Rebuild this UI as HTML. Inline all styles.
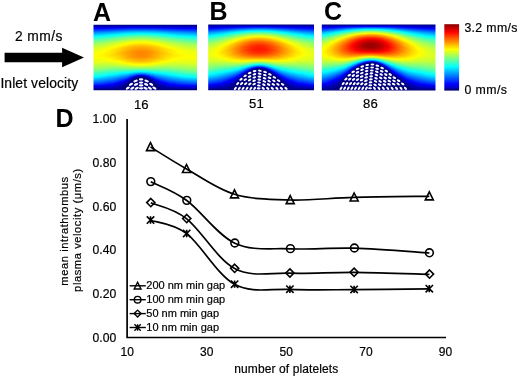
<!DOCTYPE html><html><head><meta charset="utf-8"><style>html,body{margin:0;padding:0;background:#fff;width:520px;height:377px;overflow:hidden}svg{display:block;filter:blur(0.35px);font-family:"Liberation Sans",sans-serif}</style></head><body><svg width="520" height="377" viewBox="0 0 520 377" font-family="Liberation Sans, sans-serif" fill="#000"><style>text:not([font-weight]){stroke:#000;stroke-width:0.2px}</style><defs><filter id="jet" x="0" y="0" width="1" height="1" color-interpolation-filters="sRGB"><feComponentTransfer><feFuncR type="table" tableValues="0 0 0 0 .5 1 1 1 .5"/><feFuncG type="table" tableValues="0 0 .5 1 1 1 .5 0 0"/><feFuncB type="table" tableValues=".5 1 1 1 .5 0 0 0 0"/></feComponentTransfer></filter><linearGradient id="g1" x2="0" y2="1"><stop offset="0.01" stop-color="#000000"/><stop offset="0.02" stop-color="#000000"/><stop offset="0.023" stop-color="#060606"/><stop offset="0.138" stop-color="#494949"/><stop offset="0.226" stop-color="#707070"/><stop offset="0.315" stop-color="#8b8b8b"/><stop offset="0.403" stop-color="#9b9b9b"/><stop offset="0.494" stop-color="#9f9f9f"/><stop offset="0.587" stop-color="#979797"/><stop offset="0.685" stop-color="#828282"/><stop offset="0.788" stop-color="#606060"/><stop offset="0.891" stop-color="#323232"/><stop offset="0.97" stop-color="#060606"/><stop offset="0.977" stop-color="#000000"/><stop offset="0.99" stop-color="#000000"/></linearGradient><linearGradient id="g2" x2="0" y2="1"><stop offset="0.01" stop-color="#000000"/><stop offset="0.02" stop-color="#000000"/><stop offset="0.023" stop-color="#060606"/><stop offset="0.136" stop-color="#474747"/><stop offset="0.224" stop-color="#6f6f6f"/><stop offset="0.312" stop-color="#8b8b8b"/><stop offset="0.401" stop-color="#9b9b9b"/><stop offset="0.491" stop-color="#9f9f9f"/><stop offset="0.585" stop-color="#979797"/><stop offset="0.683" stop-color="#838383"/><stop offset="0.786" stop-color="#606060"/><stop offset="0.889" stop-color="#333333"/><stop offset="0.97" stop-color="#060606"/><stop offset="0.977" stop-color="#000000"/><stop offset="0.99" stop-color="#000000"/></linearGradient><linearGradient id="g3" x2="0" y2="1"><stop offset="0.01" stop-color="#000000"/><stop offset="0.02" stop-color="#000000"/><stop offset="0.023" stop-color="#060606"/><stop offset="0.136" stop-color="#484848"/><stop offset="0.224" stop-color="#707070"/><stop offset="0.312" stop-color="#8c8c8c"/><stop offset="0.401" stop-color="#9b9b9b"/><stop offset="0.491" stop-color="#9f9f9f"/><stop offset="0.585" stop-color="#979797"/><stop offset="0.683" stop-color="#828282"/><stop offset="0.786" stop-color="#606060"/><stop offset="0.891" stop-color="#313131"/><stop offset="0.97" stop-color="#060606"/><stop offset="0.977" stop-color="#000000"/><stop offset="0.99" stop-color="#000000"/></linearGradient><linearGradient id="g4" x2="0" y2="1"><stop offset="0.01" stop-color="#000000"/><stop offset="0.02" stop-color="#000000"/><stop offset="0.023" stop-color="#060606"/><stop offset="0.136" stop-color="#484848"/><stop offset="0.224" stop-color="#707070"/><stop offset="0.312" stop-color="#8c8c8c"/><stop offset="0.401" stop-color="#9c9c9c"/><stop offset="0.489" stop-color="#a0a0a0"/><stop offset="0.582" stop-color="#979797"/><stop offset="0.68" stop-color="#838383"/><stop offset="0.786" stop-color="#606060"/><stop offset="0.894" stop-color="#303030"/><stop offset="0.97" stop-color="#060606"/><stop offset="0.977" stop-color="#000000"/><stop offset="0.99" stop-color="#000000"/></linearGradient><linearGradient id="g5" x2="0" y2="1"><stop offset="0.01" stop-color="#000000"/><stop offset="0.02" stop-color="#000000"/><stop offset="0.023" stop-color="#060606"/><stop offset="0.136" stop-color="#484848"/><stop offset="0.224" stop-color="#717171"/><stop offset="0.31" stop-color="#8c8c8c"/><stop offset="0.398" stop-color="#9c9c9c"/><stop offset="0.487" stop-color="#a0a0a0"/><stop offset="0.58" stop-color="#989898"/><stop offset="0.678" stop-color="#838383"/><stop offset="0.783" stop-color="#606060"/><stop offset="0.891" stop-color="#303030"/><stop offset="0.97" stop-color="#060606"/><stop offset="0.977" stop-color="#000000"/><stop offset="0.99" stop-color="#000000"/></linearGradient><linearGradient id="g6" x2="0" y2="1"><stop offset="0.01" stop-color="#000000"/><stop offset="0.02" stop-color="#000000"/><stop offset="0.023" stop-color="#060606"/><stop offset="0.136" stop-color="#494949"/><stop offset="0.221" stop-color="#707070"/><stop offset="0.307" stop-color="#8c8c8c"/><stop offset="0.393" stop-color="#9c9c9c"/><stop offset="0.482" stop-color="#a0a0a0"/><stop offset="0.572" stop-color="#999999"/><stop offset="0.671" stop-color="#848484"/><stop offset="0.776" stop-color="#626262"/><stop offset="0.886" stop-color="#323232"/><stop offset="0.97" stop-color="#050505"/><stop offset="0.977" stop-color="#000000"/><stop offset="0.99" stop-color="#000000"/></linearGradient><linearGradient id="g7" x2="0" y2="1"><stop offset="0.01" stop-color="#000000"/><stop offset="0.02" stop-color="#000000"/><stop offset="0.023" stop-color="#060606"/><stop offset="0.136" stop-color="#494949"/><stop offset="0.221" stop-color="#717171"/><stop offset="0.307" stop-color="#8c8c8c"/><stop offset="0.393" stop-color="#9c9c9c"/><stop offset="0.482" stop-color="#a0a0a0"/><stop offset="0.572" stop-color="#999999"/><stop offset="0.671" stop-color="#848484"/><stop offset="0.779" stop-color="#616161"/><stop offset="0.891" stop-color="#303030"/><stop offset="0.97" stop-color="#050505"/><stop offset="0.977" stop-color="#000000"/><stop offset="0.99" stop-color="#000000"/></linearGradient><linearGradient id="g8" x2="0" y2="1"><stop offset="0.01" stop-color="#000000"/><stop offset="0.02" stop-color="#000000"/><stop offset="0.023" stop-color="#060606"/><stop offset="0.136" stop-color="#494949"/><stop offset="0.221" stop-color="#717171"/><stop offset="0.307" stop-color="#8d8d8d"/><stop offset="0.393" stop-color="#9d9d9d"/><stop offset="0.482" stop-color="#a1a1a1"/><stop offset="0.572" stop-color="#999999"/><stop offset="0.671" stop-color="#848484"/><stop offset="0.779" stop-color="#606060"/><stop offset="0.894" stop-color="#2e2e2e"/><stop offset="0.972" stop-color="#030303"/><stop offset="0.98" stop-color="#000000"/><stop offset="0.99" stop-color="#000000"/></linearGradient><linearGradient id="g9" x2="0" y2="1"><stop offset="0.01" stop-color="#000000"/><stop offset="0.02" stop-color="#000000"/><stop offset="0.023" stop-color="#060606"/><stop offset="0.133" stop-color="#484848"/><stop offset="0.219" stop-color="#717171"/><stop offset="0.305" stop-color="#8d8d8d"/><stop offset="0.391" stop-color="#9d9d9d"/><stop offset="0.479" stop-color="#a1a1a1"/><stop offset="0.57" stop-color="#999999"/><stop offset="0.668" stop-color="#848484"/><stop offset="0.779" stop-color="#5f5f5f"/><stop offset="0.899" stop-color="#2b2b2b"/><stop offset="0.972" stop-color="#030303"/><stop offset="0.98" stop-color="#000000"/><stop offset="0.99" stop-color="#000000"/></linearGradient><linearGradient id="g10" x2="0" y2="1"><stop offset="0.01" stop-color="#000000"/><stop offset="0.02" stop-color="#000000"/><stop offset="0.023" stop-color="#060606"/><stop offset="0.133" stop-color="#494949"/><stop offset="0.219" stop-color="#717171"/><stop offset="0.305" stop-color="#8d8d8d"/><stop offset="0.391" stop-color="#9d9d9d"/><stop offset="0.477" stop-color="#a2a2a2"/><stop offset="0.567" stop-color="#9a9a9a"/><stop offset="0.663" stop-color="#858585"/><stop offset="0.774" stop-color="#606060"/><stop offset="0.899" stop-color="#2a2a2a"/><stop offset="0.972" stop-color="#030303"/><stop offset="0.98" stop-color="#000000"/><stop offset="0.99" stop-color="#000000"/></linearGradient><linearGradient id="g11" x2="0" y2="1"><stop offset="0.01" stop-color="#000000"/><stop offset="0.02" stop-color="#000000"/><stop offset="0.023" stop-color="#060606"/><stop offset="0.133" stop-color="#494949"/><stop offset="0.219" stop-color="#727272"/><stop offset="0.302" stop-color="#8d8d8d"/><stop offset="0.388" stop-color="#9e9e9e"/><stop offset="0.474" stop-color="#a2a2a2"/><stop offset="0.563" stop-color="#9a9a9a"/><stop offset="0.658" stop-color="#868686"/><stop offset="0.769" stop-color="#626262"/><stop offset="0.899" stop-color="#2a2a2a"/><stop offset="0.972" stop-color="#030303"/><stop offset="0.98" stop-color="#000000"/><stop offset="0.99" stop-color="#000000"/></linearGradient><linearGradient id="g12" x2="0" y2="1"><stop offset="0.01" stop-color="#000000"/><stop offset="0.02" stop-color="#000000"/><stop offset="0.023" stop-color="#060606"/><stop offset="0.133" stop-color="#4a4a4a"/><stop offset="0.219" stop-color="#727272"/><stop offset="0.302" stop-color="#8e8e8e"/><stop offset="0.386" stop-color="#9e9e9e"/><stop offset="0.472" stop-color="#a2a2a2"/><stop offset="0.56" stop-color="#9b9b9b"/><stop offset="0.656" stop-color="#868686"/><stop offset="0.766" stop-color="#626262"/><stop offset="0.901" stop-color="#282828"/><stop offset="0.972" stop-color="#030303"/><stop offset="0.982" stop-color="#000000"/><stop offset="0.99" stop-color="#000000"/></linearGradient><linearGradient id="g13" x2="0" y2="1"><stop offset="0.01" stop-color="#000000"/><stop offset="0.02" stop-color="#000000"/><stop offset="0.023" stop-color="#060606"/><stop offset="0.133" stop-color="#4a4a4a"/><stop offset="0.217" stop-color="#727272"/><stop offset="0.3" stop-color="#8e8e8e"/><stop offset="0.383" stop-color="#9e9e9e"/><stop offset="0.469" stop-color="#a3a3a3"/><stop offset="0.558" stop-color="#9b9b9b"/><stop offset="0.653" stop-color="#878787"/><stop offset="0.764" stop-color="#626262"/><stop offset="0.906" stop-color="#252525"/><stop offset="0.972" stop-color="#030303"/><stop offset="0.982" stop-color="#000000"/><stop offset="0.99" stop-color="#000000"/></linearGradient><linearGradient id="g14" x2="0" y2="1"><stop offset="0.01" stop-color="#000000"/><stop offset="0.02" stop-color="#000000"/><stop offset="0.023" stop-color="#060606"/><stop offset="0.131" stop-color="#494949"/><stop offset="0.214" stop-color="#727272"/><stop offset="0.298" stop-color="#8e8e8e"/><stop offset="0.381" stop-color="#9f9f9f"/><stop offset="0.464" stop-color="#a3a3a3"/><stop offset="0.553" stop-color="#9c9c9c"/><stop offset="0.646" stop-color="#898989"/><stop offset="0.756" stop-color="#646464"/><stop offset="0.909" stop-color="#232323"/><stop offset="0.972" stop-color="#030303"/><stop offset="0.982" stop-color="#000000"/><stop offset="0.99" stop-color="#000000"/></linearGradient><linearGradient id="g15" x2="0" y2="1"><stop offset="0.01" stop-color="#000000"/><stop offset="0.02" stop-color="#000000"/><stop offset="0.023" stop-color="#060606"/><stop offset="0.131" stop-color="#4a4a4a"/><stop offset="0.214" stop-color="#727272"/><stop offset="0.298" stop-color="#8f8f8f"/><stop offset="0.381" stop-color="#9f9f9f"/><stop offset="0.464" stop-color="#a4a4a4"/><stop offset="0.55" stop-color="#9d9d9d"/><stop offset="0.644" stop-color="#898989"/><stop offset="0.754" stop-color="#646464"/><stop offset="0.918" stop-color="#1e1e1e"/><stop offset="0.98" stop-color="#000000"/><stop offset="0.99" stop-color="#000000"/></linearGradient><linearGradient id="g16" x2="0" y2="1"><stop offset="0.01" stop-color="#000000"/><stop offset="0.02" stop-color="#000000"/><stop offset="0.023" stop-color="#060606"/><stop offset="0.131" stop-color="#4a4a4a"/><stop offset="0.214" stop-color="#737373"/><stop offset="0.298" stop-color="#8f8f8f"/><stop offset="0.381" stop-color="#a0a0a0"/><stop offset="0.464" stop-color="#a5a5a5"/><stop offset="0.55" stop-color="#9d9d9d"/><stop offset="0.644" stop-color="#898989"/><stop offset="0.754" stop-color="#636363"/><stop offset="0.94" stop-color="#131313"/><stop offset="0.98" stop-color="#000000"/><stop offset="0.99" stop-color="#000000"/></linearGradient><linearGradient id="g17" x2="0" y2="1"><stop offset="0.01" stop-color="#000000"/><stop offset="0.02" stop-color="#000000"/><stop offset="0.023" stop-color="#060606"/><stop offset="0.064" stop-color="#222222"/><stop offset="0.148" stop-color="#545454"/><stop offset="0.231" stop-color="#7a7a7a"/><stop offset="0.315" stop-color="#959595"/><stop offset="0.396" stop-color="#a2a2a2"/><stop offset="0.479" stop-color="#a5a5a5"/><stop offset="0.565" stop-color="#9b9b9b"/><stop offset="0.658" stop-color="#848484"/><stop offset="0.776" stop-color="#595959"/><stop offset="0.97" stop-color="#040404"/><stop offset="0.98" stop-color="#000000"/><stop offset="0.99" stop-color="#000000"/></linearGradient><linearGradient id="g18" x2="0" y2="1"><stop offset="0.01" stop-color="#000000"/><stop offset="0.02" stop-color="#000000"/><stop offset="0.023" stop-color="#060606"/><stop offset="0.062" stop-color="#202020"/><stop offset="0.145" stop-color="#535353"/><stop offset="0.229" stop-color="#7a7a7a"/><stop offset="0.31" stop-color="#949494"/><stop offset="0.391" stop-color="#a3a3a3"/><stop offset="0.474" stop-color="#a6a6a6"/><stop offset="0.56" stop-color="#9c9c9c"/><stop offset="0.653" stop-color="#858585"/><stop offset="0.769" stop-color="#5b5b5b"/><stop offset="0.972" stop-color="#030303"/><stop offset="0.982" stop-color="#000000"/><stop offset="0.99" stop-color="#000000"/></linearGradient><linearGradient id="g19" x2="0" y2="1"><stop offset="0.01" stop-color="#000000"/><stop offset="0.02" stop-color="#000000"/><stop offset="0.023" stop-color="#060606"/><stop offset="0.06" stop-color="#1f1f1f"/><stop offset="0.143" stop-color="#535353"/><stop offset="0.224" stop-color="#797979"/><stop offset="0.305" stop-color="#949494"/><stop offset="0.386" stop-color="#a3a3a3"/><stop offset="0.469" stop-color="#a6a6a6"/><stop offset="0.553" stop-color="#9e9e9e"/><stop offset="0.644" stop-color="#888888"/><stop offset="0.754" stop-color="#606060"/><stop offset="0.98" stop-color="#000000"/><stop offset="0.99" stop-color="#000000"/></linearGradient><linearGradient id="g20" x2="0" y2="1"><stop offset="0.01" stop-color="#000000"/><stop offset="0.02" stop-color="#000000"/><stop offset="0.023" stop-color="#060606"/><stop offset="0.057" stop-color="#1d1d1d"/><stop offset="0.141" stop-color="#525252"/><stop offset="0.221" stop-color="#797979"/><stop offset="0.302" stop-color="#949494"/><stop offset="0.383" stop-color="#a4a4a4"/><stop offset="0.464" stop-color="#a7a7a7"/><stop offset="0.548" stop-color="#9f9f9f"/><stop offset="0.636" stop-color="#8a8a8a"/><stop offset="0.744" stop-color="#646464"/><stop offset="0.98" stop-color="#000000"/><stop offset="0.99" stop-color="#000000"/></linearGradient><linearGradient id="g21" x2="0" y2="1"><stop offset="0.01" stop-color="#000000"/><stop offset="0.02" stop-color="#000000"/><stop offset="0.023" stop-color="#060606"/><stop offset="0.055" stop-color="#1c1c1c"/><stop offset="0.136" stop-color="#505050"/><stop offset="0.217" stop-color="#787878"/><stop offset="0.298" stop-color="#949494"/><stop offset="0.379" stop-color="#a4a4a4"/><stop offset="0.46" stop-color="#a8a8a8"/><stop offset="0.543" stop-color="#a0a0a0"/><stop offset="0.631" stop-color="#8c8c8c"/><stop offset="0.737" stop-color="#666666"/><stop offset="0.963" stop-color="#070707"/><stop offset="0.98" stop-color="#000000"/><stop offset="0.99" stop-color="#000000"/></linearGradient><linearGradient id="g22" x2="0" y2="1"><stop offset="0.01" stop-color="#000000"/><stop offset="0.02" stop-color="#000000"/><stop offset="0.023" stop-color="#060606"/><stop offset="0.055" stop-color="#1c1c1c"/><stop offset="0.136" stop-color="#505050"/><stop offset="0.217" stop-color="#787878"/><stop offset="0.298" stop-color="#959595"/><stop offset="0.379" stop-color="#a5a5a5"/><stop offset="0.46" stop-color="#a9a9a9"/><stop offset="0.543" stop-color="#a1a1a1"/><stop offset="0.629" stop-color="#8d8d8d"/><stop offset="0.732" stop-color="#676767"/><stop offset="0.933" stop-color="#111111"/><stop offset="0.98" stop-color="#000000"/><stop offset="0.99" stop-color="#000000"/></linearGradient><linearGradient id="g23" x2="0" y2="1"><stop offset="0.01" stop-color="#000000"/><stop offset="0.02" stop-color="#000000"/><stop offset="0.023" stop-color="#070707"/><stop offset="0.052" stop-color="#1a1a1a"/><stop offset="0.133" stop-color="#4f4f4f"/><stop offset="0.214" stop-color="#787878"/><stop offset="0.295" stop-color="#959595"/><stop offset="0.376" stop-color="#a5a5a5"/><stop offset="0.457" stop-color="#aaaaaa"/><stop offset="0.538" stop-color="#a2a2a2"/><stop offset="0.624" stop-color="#8e8e8e"/><stop offset="0.725" stop-color="#696969"/><stop offset="0.916" stop-color="#171717"/><stop offset="0.98" stop-color="#000000"/><stop offset="0.99" stop-color="#000000"/></linearGradient><linearGradient id="g24" x2="0" y2="1"><stop offset="0.01" stop-color="#000000"/><stop offset="0.02" stop-color="#000000"/><stop offset="0.023" stop-color="#070707"/><stop offset="0.052" stop-color="#1b1b1b"/><stop offset="0.133" stop-color="#505050"/><stop offset="0.214" stop-color="#797979"/><stop offset="0.295" stop-color="#969696"/><stop offset="0.374" stop-color="#a6a6a6"/><stop offset="0.455" stop-color="#ababab"/><stop offset="0.536" stop-color="#a4a4a4"/><stop offset="0.619" stop-color="#909090"/><stop offset="0.717" stop-color="#6c6c6c"/><stop offset="0.906" stop-color="#191919"/><stop offset="0.98" stop-color="#000000"/><stop offset="0.99" stop-color="#000000"/></linearGradient><linearGradient id="g25" x2="0" y2="1"><stop offset="0.01" stop-color="#000000"/><stop offset="0.02" stop-color="#000000"/><stop offset="0.023" stop-color="#070707"/><stop offset="0.05" stop-color="#191919"/><stop offset="0.128" stop-color="#4e4e4e"/><stop offset="0.207" stop-color="#767676"/><stop offset="0.285" stop-color="#949494"/><stop offset="0.364" stop-color="#a6a6a6"/><stop offset="0.442" stop-color="#acacac"/><stop offset="0.523" stop-color="#a6a6a6"/><stop offset="0.607" stop-color="#949494"/><stop offset="0.7" stop-color="#737373"/><stop offset="0.899" stop-color="#1a1a1a"/><stop offset="0.98" stop-color="#000000"/><stop offset="0.99" stop-color="#000000"/></linearGradient><linearGradient id="g26" x2="0" y2="1"><stop offset="0.01" stop-color="#000000"/><stop offset="0.02" stop-color="#000000"/><stop offset="0.023" stop-color="#070707"/><stop offset="0.05" stop-color="#191919"/><stop offset="0.128" stop-color="#4e4e4e"/><stop offset="0.207" stop-color="#777777"/><stop offset="0.285" stop-color="#959595"/><stop offset="0.364" stop-color="#a7a7a7"/><stop offset="0.442" stop-color="#adadad"/><stop offset="0.521" stop-color="#a7a7a7"/><stop offset="0.602" stop-color="#969696"/><stop offset="0.693" stop-color="#757575"/><stop offset="0.894" stop-color="#1a1a1a"/><stop offset="0.977" stop-color="#000000"/><stop offset="0.99" stop-color="#000000"/></linearGradient><linearGradient id="g27" x2="0" y2="1"><stop offset="0.01" stop-color="#000000"/><stop offset="0.02" stop-color="#000000"/><stop offset="0.023" stop-color="#070707"/><stop offset="0.05" stop-color="#1a1a1a"/><stop offset="0.128" stop-color="#4f4f4f"/><stop offset="0.207" stop-color="#787878"/><stop offset="0.285" stop-color="#969696"/><stop offset="0.364" stop-color="#a8a8a8"/><stop offset="0.442" stop-color="#aeaeae"/><stop offset="0.521" stop-color="#a8a8a8"/><stop offset="0.602" stop-color="#969696"/><stop offset="0.69" stop-color="#767676"/><stop offset="0.886" stop-color="#1b1b1b"/><stop offset="0.958" stop-color="#050505"/><stop offset="0.985" stop-color="#000000"/><stop offset="0.99" stop-color="#000000"/></linearGradient><linearGradient id="g28" x2="0" y2="1"><stop offset="0.01" stop-color="#000000"/><stop offset="0.02" stop-color="#000000"/><stop offset="0.023" stop-color="#070707"/><stop offset="0.047" stop-color="#181818"/><stop offset="0.126" stop-color="#4e4e4e"/><stop offset="0.204" stop-color="#787878"/><stop offset="0.283" stop-color="#969696"/><stop offset="0.361" stop-color="#a8a8a8"/><stop offset="0.44" stop-color="#afafaf"/><stop offset="0.518" stop-color="#a9a9a9"/><stop offset="0.597" stop-color="#989898"/><stop offset="0.683" stop-color="#797979"/><stop offset="0.884" stop-color="#1a1a1a"/><stop offset="0.95" stop-color="#050505"/><stop offset="0.987" stop-color="#000000"/><stop offset="0.99" stop-color="#000000"/></linearGradient><linearGradient id="g29" x2="0" y2="1"><stop offset="0.01" stop-color="#000000"/><stop offset="0.02" stop-color="#000000"/><stop offset="0.023" stop-color="#070707"/><stop offset="0.047" stop-color="#181818"/><stop offset="0.126" stop-color="#4e4e4e"/><stop offset="0.204" stop-color="#797979"/><stop offset="0.283" stop-color="#979797"/><stop offset="0.361" stop-color="#a9a9a9"/><stop offset="0.44" stop-color="#b0b0b0"/><stop offset="0.518" stop-color="#aaaaaa"/><stop offset="0.597" stop-color="#999999"/><stop offset="0.683" stop-color="#797979"/><stop offset="0.879" stop-color="#1a1a1a"/><stop offset="0.943" stop-color="#060606"/><stop offset="0.987" stop-color="#000000"/><stop offset="0.99" stop-color="#000000"/></linearGradient><linearGradient id="g30" x2="0" y2="1"><stop offset="0.01" stop-color="#000000"/><stop offset="0.02" stop-color="#000000"/><stop offset="0.023" stop-color="#070707"/><stop offset="0.047" stop-color="#181818"/><stop offset="0.123" stop-color="#4d4d4d"/><stop offset="0.202" stop-color="#787878"/><stop offset="0.28" stop-color="#979797"/><stop offset="0.359" stop-color="#aaaaaa"/><stop offset="0.437" stop-color="#b1b1b1"/><stop offset="0.516" stop-color="#acacac"/><stop offset="0.594" stop-color="#9a9a9a"/><stop offset="0.678" stop-color="#7b7b7b"/><stop offset="0.815" stop-color="#363636"/><stop offset="0.894" stop-color="#121212"/><stop offset="0.95" stop-color="#030303"/><stop offset="0.99" stop-color="#000000"/></linearGradient><linearGradient id="g31" x2="0" y2="1"><stop offset="0.01" stop-color="#000000"/><stop offset="0.02" stop-color="#000000"/><stop offset="0.023" stop-color="#070707"/><stop offset="0.047" stop-color="#181818"/><stop offset="0.123" stop-color="#4e4e4e"/><stop offset="0.199" stop-color="#787878"/><stop offset="0.278" stop-color="#979797"/><stop offset="0.356" stop-color="#ababab"/><stop offset="0.435" stop-color="#b2b2b2"/><stop offset="0.511" stop-color="#adadad"/><stop offset="0.587" stop-color="#9d9d9d"/><stop offset="0.668" stop-color="#808080"/><stop offset="0.774" stop-color="#4b4b4b"/><stop offset="0.872" stop-color="#191919"/><stop offset="0.928" stop-color="#060606"/><stop offset="0.982" stop-color="#000000"/><stop offset="0.99" stop-color="#000000"/></linearGradient><linearGradient id="g32" x2="0" y2="1"><stop offset="0.01" stop-color="#000000"/><stop offset="0.02" stop-color="#000000"/><stop offset="0.023" stop-color="#070707"/><stop offset="0.047" stop-color="#191919"/><stop offset="0.123" stop-color="#4e4e4e"/><stop offset="0.199" stop-color="#797979"/><stop offset="0.278" stop-color="#989898"/><stop offset="0.356" stop-color="#acacac"/><stop offset="0.435" stop-color="#b3b3b3"/><stop offset="0.511" stop-color="#aeaeae"/><stop offset="0.587" stop-color="#9e9e9e"/><stop offset="0.666" stop-color="#818181"/><stop offset="0.766" stop-color="#4e4e4e"/><stop offset="0.867" stop-color="#191919"/><stop offset="0.921" stop-color="#060606"/><stop offset="0.972" stop-color="#000000"/><stop offset="0.99" stop-color="#000000"/></linearGradient><linearGradient id="g33" x2="0" y2="1"><stop offset="0.01" stop-color="#000000"/><stop offset="0.02" stop-color="#000000"/><stop offset="0.023" stop-color="#070707"/><stop offset="0.045" stop-color="#171717"/><stop offset="0.121" stop-color="#4d4d4d"/><stop offset="0.197" stop-color="#787878"/><stop offset="0.275" stop-color="#989898"/><stop offset="0.354" stop-color="#acacac"/><stop offset="0.43" stop-color="#b4b4b4"/><stop offset="0.506" stop-color="#b0b0b0"/><stop offset="0.582" stop-color="#a0a0a0"/><stop offset="0.658" stop-color="#848484"/><stop offset="0.749" stop-color="#565656"/><stop offset="0.859" stop-color="#191919"/><stop offset="0.911" stop-color="#060606"/><stop offset="0.958" stop-color="#000000"/><stop offset="0.99" stop-color="#000000"/></linearGradient><linearGradient id="g34" x2="0" y2="1"><stop offset="0.01" stop-color="#000000"/><stop offset="0.02" stop-color="#000000"/><stop offset="0.023" stop-color="#070707"/><stop offset="0.045" stop-color="#171717"/><stop offset="0.121" stop-color="#4e4e4e"/><stop offset="0.197" stop-color="#797979"/><stop offset="0.275" stop-color="#999999"/><stop offset="0.354" stop-color="#adadad"/><stop offset="0.43" stop-color="#b5b5b5"/><stop offset="0.506" stop-color="#b1b1b1"/><stop offset="0.58" stop-color="#a2a2a2"/><stop offset="0.656" stop-color="#868686"/><stop offset="0.742" stop-color="#595959"/><stop offset="0.857" stop-color="#171717"/><stop offset="0.906" stop-color="#050505"/><stop offset="0.933" stop-color="#000000"/><stop offset="0.99" stop-color="#000000"/></linearGradient><linearGradient id="g35" x2="0" y2="1"><stop offset="0.01" stop-color="#000000"/><stop offset="0.02" stop-color="#000000"/><stop offset="0.023" stop-color="#070707"/><stop offset="0.045" stop-color="#171717"/><stop offset="0.118" stop-color="#4d4d4d"/><stop offset="0.194" stop-color="#787878"/><stop offset="0.273" stop-color="#999999"/><stop offset="0.349" stop-color="#adadad"/><stop offset="0.425" stop-color="#b6b6b6"/><stop offset="0.501" stop-color="#b3b3b3"/><stop offset="0.575" stop-color="#a4a4a4"/><stop offset="0.648" stop-color="#898989"/><stop offset="0.729" stop-color="#5f5f5f"/><stop offset="0.855" stop-color="#151515"/><stop offset="0.901" stop-color="#020202"/><stop offset="0.936" stop-color="#000000"/><stop offset="0.99" stop-color="#000000"/></linearGradient><linearGradient id="g36" x2="0" y2="1"><stop offset="0.01" stop-color="#000000"/><stop offset="0.02" stop-color="#000000"/><stop offset="0.023" stop-color="#070707"/><stop offset="0.045" stop-color="#171717"/><stop offset="0.118" stop-color="#4d4d4d"/><stop offset="0.194" stop-color="#797979"/><stop offset="0.271" stop-color="#999999"/><stop offset="0.349" stop-color="#aeaeae"/><stop offset="0.425" stop-color="#b7b7b7"/><stop offset="0.501" stop-color="#b4b4b4"/><stop offset="0.575" stop-color="#a5a5a5"/><stop offset="0.648" stop-color="#8a8a8a"/><stop offset="0.725" stop-color="#616161"/><stop offset="0.857" stop-color="#0f0f0f"/><stop offset="0.889" stop-color="#000000"/><stop offset="0.99" stop-color="#000000"/></linearGradient><linearGradient id="g37" x2="0" y2="1"><stop offset="0.01" stop-color="#000000"/><stop offset="0.02" stop-color="#000000"/><stop offset="0.023" stop-color="#070707"/><stop offset="0.045" stop-color="#171717"/><stop offset="0.118" stop-color="#4e4e4e"/><stop offset="0.194" stop-color="#7a7a7a"/><stop offset="0.271" stop-color="#9a9a9a"/><stop offset="0.347" stop-color="#afafaf"/><stop offset="0.423" stop-color="#b8b8b8"/><stop offset="0.499" stop-color="#b5b5b5"/><stop offset="0.572" stop-color="#a6a6a6"/><stop offset="0.644" stop-color="#8c8c8c"/><stop offset="0.717" stop-color="#656565"/><stop offset="0.859" stop-color="#080808"/><stop offset="0.874" stop-color="#000000"/><stop offset="0.99" stop-color="#000000"/></linearGradient><linearGradient id="g38" x2="0" y2="1"><stop offset="0.01" stop-color="#000000"/><stop offset="0.02" stop-color="#000000"/><stop offset="0.023" stop-color="#070707"/><stop offset="0.045" stop-color="#181818"/><stop offset="0.118" stop-color="#4e4e4e"/><stop offset="0.194" stop-color="#7a7a7a"/><stop offset="0.271" stop-color="#9b9b9b"/><stop offset="0.347" stop-color="#afafaf"/><stop offset="0.423" stop-color="#b8b8b8"/><stop offset="0.499" stop-color="#b6b6b6"/><stop offset="0.57" stop-color="#a8a8a8"/><stop offset="0.639" stop-color="#8f8f8f"/><stop offset="0.707" stop-color="#6a6a6a"/><stop offset="0.796" stop-color="#2d2d2d"/><stop offset="0.857" stop-color="#000000"/><stop offset="0.99" stop-color="#000000"/></linearGradient><linearGradient id="g39" x2="0" y2="1"><stop offset="0.01" stop-color="#000000"/><stop offset="0.02" stop-color="#000000"/><stop offset="0.023" stop-color="#070707"/><stop offset="0.042" stop-color="#161616"/><stop offset="0.116" stop-color="#4d4d4d"/><stop offset="0.192" stop-color="#7a7a7a"/><stop offset="0.268" stop-color="#9a9a9a"/><stop offset="0.344" stop-color="#b0b0b0"/><stop offset="0.42" stop-color="#b9b9b9"/><stop offset="0.494" stop-color="#b7b7b7"/><stop offset="0.565" stop-color="#aaaaaa"/><stop offset="0.634" stop-color="#919191"/><stop offset="0.7" stop-color="#6e6e6e"/><stop offset="0.774" stop-color="#3a3a3a"/><stop offset="0.85" stop-color="#000000"/><stop offset="0.99" stop-color="#000000"/></linearGradient><linearGradient id="g40" x2="0" y2="1"><stop offset="0.01" stop-color="#000000"/><stop offset="0.02" stop-color="#000000"/><stop offset="0.023" stop-color="#070707"/><stop offset="0.042" stop-color="#161616"/><stop offset="0.116" stop-color="#4d4d4d"/><stop offset="0.192" stop-color="#7a7a7a"/><stop offset="0.268" stop-color="#9b9b9b"/><stop offset="0.344" stop-color="#b0b0b0"/><stop offset="0.42" stop-color="#bababa"/><stop offset="0.494" stop-color="#b8b8b8"/><stop offset="0.565" stop-color="#aaaaaa"/><stop offset="0.634" stop-color="#929292"/><stop offset="0.698" stop-color="#6f6f6f"/><stop offset="0.764" stop-color="#3f3f3f"/><stop offset="0.83" stop-color="#050505"/><stop offset="0.835" stop-color="#000000"/><stop offset="0.99" stop-color="#000000"/></linearGradient><linearGradient id="g41" x2="0" y2="1"><stop offset="0.01" stop-color="#000000"/><stop offset="0.02" stop-color="#000000"/><stop offset="0.023" stop-color="#070707"/><stop offset="0.042" stop-color="#161616"/><stop offset="0.116" stop-color="#4d4d4d"/><stop offset="0.19" stop-color="#797979"/><stop offset="0.266" stop-color="#9b9b9b"/><stop offset="0.342" stop-color="#b1b1b1"/><stop offset="0.418" stop-color="#bbbbbb"/><stop offset="0.491" stop-color="#b9b9b9"/><stop offset="0.563" stop-color="#acacac"/><stop offset="0.629" stop-color="#949494"/><stop offset="0.69" stop-color="#737373"/><stop offset="0.749" stop-color="#484848"/><stop offset="0.818" stop-color="#090909"/><stop offset="0.828" stop-color="#000000"/><stop offset="0.99" stop-color="#000000"/></linearGradient><linearGradient id="g42" x2="0" y2="1"><stop offset="0.01" stop-color="#000000"/><stop offset="0.02" stop-color="#000000"/><stop offset="0.023" stop-color="#070707"/><stop offset="0.042" stop-color="#161616"/><stop offset="0.114" stop-color="#4c4c4c"/><stop offset="0.187" stop-color="#787878"/><stop offset="0.263" stop-color="#9a9a9a"/><stop offset="0.339" stop-color="#b1b1b1"/><stop offset="0.415" stop-color="#bbbbbb"/><stop offset="0.489" stop-color="#bababa"/><stop offset="0.56" stop-color="#adadad"/><stop offset="0.626" stop-color="#969696"/><stop offset="0.685" stop-color="#767676"/><stop offset="0.742" stop-color="#4c4c4c"/><stop offset="0.798" stop-color="#161616"/><stop offset="0.806" stop-color="#0d0d0d"/><stop offset="0.813" stop-color="#000000"/><stop offset="0.99" stop-color="#000000"/></linearGradient><linearGradient id="g43" x2="0" y2="1"><stop offset="0.01" stop-color="#000000"/><stop offset="0.02" stop-color="#000000"/><stop offset="0.023" stop-color="#080808"/><stop offset="0.042" stop-color="#161616"/><stop offset="0.114" stop-color="#4c4c4c"/><stop offset="0.187" stop-color="#797979"/><stop offset="0.263" stop-color="#9b9b9b"/><stop offset="0.339" stop-color="#b1b1b1"/><stop offset="0.415" stop-color="#bcbcbc"/><stop offset="0.489" stop-color="#bbbbbb"/><stop offset="0.56" stop-color="#aeaeae"/><stop offset="0.624" stop-color="#979797"/><stop offset="0.683" stop-color="#777777"/><stop offset="0.734" stop-color="#505050"/><stop offset="0.783" stop-color="#202020"/><stop offset="0.813" stop-color="#000000"/><stop offset="0.99" stop-color="#000000"/></linearGradient><linearGradient id="g44" x2="0" y2="1"><stop offset="0.01" stop-color="#000000"/><stop offset="0.02" stop-color="#000000"/><stop offset="0.023" stop-color="#080808"/><stop offset="0.042" stop-color="#161616"/><stop offset="0.114" stop-color="#4d4d4d"/><stop offset="0.187" stop-color="#797979"/><stop offset="0.263" stop-color="#9b9b9b"/><stop offset="0.339" stop-color="#b2b2b2"/><stop offset="0.415" stop-color="#bcbcbc"/><stop offset="0.489" stop-color="#bbbbbb"/><stop offset="0.56" stop-color="#aeaeae"/><stop offset="0.624" stop-color="#989898"/><stop offset="0.68" stop-color="#787878"/><stop offset="0.729" stop-color="#535353"/><stop offset="0.774" stop-color="#262626"/><stop offset="0.806" stop-color="#000000"/><stop offset="0.99" stop-color="#000000"/></linearGradient><linearGradient id="g45" x2="0" y2="1"><stop offset="0.01" stop-color="#000000"/><stop offset="0.02" stop-color="#000000"/><stop offset="0.023" stop-color="#080808"/><stop offset="0.042" stop-color="#161616"/><stop offset="0.114" stop-color="#4d4d4d"/><stop offset="0.187" stop-color="#797979"/><stop offset="0.263" stop-color="#9c9c9c"/><stop offset="0.339" stop-color="#b2b2b2"/><stop offset="0.415" stop-color="#bdbdbd"/><stop offset="0.489" stop-color="#bcbcbc"/><stop offset="0.558" stop-color="#afafaf"/><stop offset="0.621" stop-color="#999999"/><stop offset="0.678" stop-color="#7a7a7a"/><stop offset="0.725" stop-color="#565656"/><stop offset="0.766" stop-color="#2a2a2a"/><stop offset="0.793" stop-color="#060606"/><stop offset="0.798" stop-color="#000000"/><stop offset="0.99" stop-color="#000000"/></linearGradient><linearGradient id="g46" x2="0" y2="1"><stop offset="0.01" stop-color="#000000"/><stop offset="0.02" stop-color="#000000"/><stop offset="0.023" stop-color="#080808"/><stop offset="0.042" stop-color="#161616"/><stop offset="0.114" stop-color="#4d4d4d"/><stop offset="0.187" stop-color="#7a7a7a"/><stop offset="0.263" stop-color="#9c9c9c"/><stop offset="0.339" stop-color="#b2b2b2"/><stop offset="0.415" stop-color="#bdbdbd"/><stop offset="0.489" stop-color="#bcbcbc"/><stop offset="0.558" stop-color="#b0b0b0"/><stop offset="0.621" stop-color="#999999"/><stop offset="0.675" stop-color="#7b7b7b"/><stop offset="0.722" stop-color="#575757"/><stop offset="0.761" stop-color="#2d2d2d"/><stop offset="0.783" stop-color="#0f0f0f"/><stop offset="0.788" stop-color="#030303"/><stop offset="0.793" stop-color="#000000"/><stop offset="0.99" stop-color="#000000"/></linearGradient><linearGradient id="g47" x2="0" y2="1"><stop offset="0.01" stop-color="#000000"/><stop offset="0.02" stop-color="#000000"/><stop offset="0.023" stop-color="#080808"/><stop offset="0.042" stop-color="#161616"/><stop offset="0.114" stop-color="#4d4d4d"/><stop offset="0.187" stop-color="#7a7a7a"/><stop offset="0.263" stop-color="#9c9c9c"/><stop offset="0.339" stop-color="#b3b3b3"/><stop offset="0.415" stop-color="#bebebe"/><stop offset="0.489" stop-color="#bcbcbc"/><stop offset="0.558" stop-color="#b0b0b0"/><stop offset="0.621" stop-color="#999999"/><stop offset="0.675" stop-color="#7b7b7b"/><stop offset="0.72" stop-color="#585858"/><stop offset="0.756" stop-color="#303030"/><stop offset="0.786" stop-color="#060606"/><stop offset="0.791" stop-color="#000000"/><stop offset="0.99" stop-color="#000000"/></linearGradient><linearGradient id="g48" x2="0" y2="1"><stop offset="0.01" stop-color="#000000"/><stop offset="0.02" stop-color="#000000"/><stop offset="0.023" stop-color="#080808"/><stop offset="0.042" stop-color="#161616"/><stop offset="0.114" stop-color="#4d4d4d"/><stop offset="0.187" stop-color="#7a7a7a"/><stop offset="0.263" stop-color="#9c9c9c"/><stop offset="0.339" stop-color="#b3b3b3"/><stop offset="0.415" stop-color="#bebebe"/><stop offset="0.489" stop-color="#bdbdbd"/><stop offset="0.558" stop-color="#b0b0b0"/><stop offset="0.619" stop-color="#9b9b9b"/><stop offset="0.673" stop-color="#7d7d7d"/><stop offset="0.717" stop-color="#5a5a5a"/><stop offset="0.752" stop-color="#353535"/><stop offset="0.774" stop-color="#171717"/><stop offset="0.781" stop-color="#030303"/><stop offset="0.783" stop-color="#000000"/><stop offset="0.99" stop-color="#000000"/></linearGradient><linearGradient id="g49" x2="0" y2="1"><stop offset="0.01" stop-color="#000000"/><stop offset="0.02" stop-color="#000000"/><stop offset="0.023" stop-color="#080808"/><stop offset="0.042" stop-color="#161616"/><stop offset="0.114" stop-color="#4d4d4d"/><stop offset="0.187" stop-color="#7a7a7a"/><stop offset="0.263" stop-color="#9c9c9c"/><stop offset="0.339" stop-color="#b3b3b3"/><stop offset="0.415" stop-color="#bebebe"/><stop offset="0.489" stop-color="#bdbdbd"/><stop offset="0.558" stop-color="#b0b0b0"/><stop offset="0.619" stop-color="#9b9b9b"/><stop offset="0.673" stop-color="#7d7d7d"/><stop offset="0.717" stop-color="#595959"/><stop offset="0.752" stop-color="#343434"/><stop offset="0.774" stop-color="#141414"/><stop offset="0.781" stop-color="#030303"/><stop offset="0.786" stop-color="#000000"/><stop offset="0.99" stop-color="#000000"/></linearGradient><linearGradient id="g50" x2="0" y2="1"><stop offset="0.01" stop-color="#000000"/><stop offset="0.02" stop-color="#000000"/><stop offset="0.023" stop-color="#080808"/><stop offset="0.042" stop-color="#161616"/><stop offset="0.114" stop-color="#4d4d4d"/><stop offset="0.187" stop-color="#7a7a7a"/><stop offset="0.263" stop-color="#9c9c9c"/><stop offset="0.339" stop-color="#b3b3b3"/><stop offset="0.415" stop-color="#bebebe"/><stop offset="0.489" stop-color="#bdbdbd"/><stop offset="0.558" stop-color="#b0b0b0"/><stop offset="0.619" stop-color="#9b9b9b"/><stop offset="0.673" stop-color="#7d7d7d"/><stop offset="0.717" stop-color="#595959"/><stop offset="0.752" stop-color="#343434"/><stop offset="0.774" stop-color="#141414"/><stop offset="0.781" stop-color="#030303"/><stop offset="0.786" stop-color="#000000"/><stop offset="0.99" stop-color="#000000"/></linearGradient><linearGradient id="g51" x2="0" y2="1"><stop offset="0.01" stop-color="#000000"/><stop offset="0.02" stop-color="#000000"/><stop offset="0.023" stop-color="#080808"/><stop offset="0.042" stop-color="#161616"/><stop offset="0.114" stop-color="#4d4d4d"/><stop offset="0.187" stop-color="#7a7a7a"/><stop offset="0.263" stop-color="#9c9c9c"/><stop offset="0.339" stop-color="#b3b3b3"/><stop offset="0.415" stop-color="#bebebe"/><stop offset="0.489" stop-color="#bdbdbd"/><stop offset="0.558" stop-color="#b0b0b0"/><stop offset="0.619" stop-color="#9b9b9b"/><stop offset="0.673" stop-color="#7d7d7d"/><stop offset="0.717" stop-color="#5a5a5a"/><stop offset="0.752" stop-color="#343434"/><stop offset="0.774" stop-color="#151515"/><stop offset="0.781" stop-color="#030303"/><stop offset="0.786" stop-color="#000000"/><stop offset="0.99" stop-color="#000000"/></linearGradient><linearGradient id="g52" x2="0" y2="1"><stop offset="0.01" stop-color="#000000"/><stop offset="0.02" stop-color="#000000"/><stop offset="0.023" stop-color="#080808"/><stop offset="0.042" stop-color="#161616"/><stop offset="0.114" stop-color="#4d4d4d"/><stop offset="0.187" stop-color="#7a7a7a"/><stop offset="0.263" stop-color="#9c9c9c"/><stop offset="0.339" stop-color="#b3b3b3"/><stop offset="0.415" stop-color="#bebebe"/><stop offset="0.489" stop-color="#bdbdbd"/><stop offset="0.558" stop-color="#b0b0b0"/><stop offset="0.621" stop-color="#999999"/><stop offset="0.675" stop-color="#7b7b7b"/><stop offset="0.72" stop-color="#585858"/><stop offset="0.754" stop-color="#333333"/><stop offset="0.788" stop-color="#020202"/><stop offset="0.81" stop-color="#000000"/><stop offset="0.99" stop-color="#000000"/></linearGradient><linearGradient id="g53" x2="0" y2="1"><stop offset="0.01" stop-color="#000000"/><stop offset="0.02" stop-color="#000000"/><stop offset="0.023" stop-color="#080808"/><stop offset="0.042" stop-color="#161616"/><stop offset="0.114" stop-color="#4d4d4d"/><stop offset="0.187" stop-color="#7a7a7a"/><stop offset="0.263" stop-color="#9c9c9c"/><stop offset="0.339" stop-color="#b3b3b3"/><stop offset="0.415" stop-color="#bdbdbd"/><stop offset="0.489" stop-color="#bcbcbc"/><stop offset="0.558" stop-color="#b0b0b0"/><stop offset="0.621" stop-color="#999999"/><stop offset="0.675" stop-color="#7b7b7b"/><stop offset="0.72" stop-color="#585858"/><stop offset="0.756" stop-color="#313131"/><stop offset="0.783" stop-color="#0c0c0c"/><stop offset="0.788" stop-color="#020202"/><stop offset="0.793" stop-color="#000000"/><stop offset="0.99" stop-color="#000000"/></linearGradient><linearGradient id="g54" x2="0" y2="1"><stop offset="0.01" stop-color="#000000"/><stop offset="0.02" stop-color="#000000"/><stop offset="0.023" stop-color="#080808"/><stop offset="0.042" stop-color="#161616"/><stop offset="0.114" stop-color="#4d4d4d"/><stop offset="0.187" stop-color="#7a7a7a"/><stop offset="0.263" stop-color="#9c9c9c"/><stop offset="0.339" stop-color="#b2b2b2"/><stop offset="0.415" stop-color="#bdbdbd"/><stop offset="0.489" stop-color="#bcbcbc"/><stop offset="0.558" stop-color="#b0b0b0"/><stop offset="0.621" stop-color="#999999"/><stop offset="0.678" stop-color="#7a7a7a"/><stop offset="0.725" stop-color="#555555"/><stop offset="0.764" stop-color="#2c2c2c"/><stop offset="0.798" stop-color="#000000"/><stop offset="0.99" stop-color="#000000"/></linearGradient><linearGradient id="g55" x2="0" y2="1"><stop offset="0.01" stop-color="#000000"/><stop offset="0.02" stop-color="#000000"/><stop offset="0.023" stop-color="#080808"/><stop offset="0.042" stop-color="#161616"/><stop offset="0.114" stop-color="#4d4d4d"/><stop offset="0.187" stop-color="#797979"/><stop offset="0.263" stop-color="#9b9b9b"/><stop offset="0.339" stop-color="#b2b2b2"/><stop offset="0.415" stop-color="#bdbdbd"/><stop offset="0.489" stop-color="#bbbbbb"/><stop offset="0.558" stop-color="#afafaf"/><stop offset="0.621" stop-color="#999999"/><stop offset="0.678" stop-color="#7a7a7a"/><stop offset="0.727" stop-color="#545454"/><stop offset="0.769" stop-color="#292929"/><stop offset="0.791" stop-color="#0e0e0e"/><stop offset="0.796" stop-color="#030303"/><stop offset="0.801" stop-color="#000000"/><stop offset="0.99" stop-color="#000000"/></linearGradient><linearGradient id="g56" x2="0" y2="1"><stop offset="0.01" stop-color="#000000"/><stop offset="0.02" stop-color="#000000"/><stop offset="0.023" stop-color="#080808"/><stop offset="0.042" stop-color="#161616"/><stop offset="0.114" stop-color="#4c4c4c"/><stop offset="0.187" stop-color="#797979"/><stop offset="0.263" stop-color="#9b9b9b"/><stop offset="0.339" stop-color="#b1b1b1"/><stop offset="0.415" stop-color="#bcbcbc"/><stop offset="0.489" stop-color="#bbbbbb"/><stop offset="0.56" stop-color="#aeaeae"/><stop offset="0.624" stop-color="#979797"/><stop offset="0.68" stop-color="#797979"/><stop offset="0.732" stop-color="#515151"/><stop offset="0.779" stop-color="#232323"/><stop offset="0.798" stop-color="#0b0b0b"/><stop offset="0.806" stop-color="#000000"/><stop offset="0.99" stop-color="#000000"/></linearGradient><linearGradient id="g57" x2="0" y2="1"><stop offset="0.01" stop-color="#000000"/><stop offset="0.02" stop-color="#000000"/><stop offset="0.023" stop-color="#070707"/><stop offset="0.042" stop-color="#161616"/><stop offset="0.114" stop-color="#4c4c4c"/><stop offset="0.187" stop-color="#797979"/><stop offset="0.263" stop-color="#9b9b9b"/><stop offset="0.339" stop-color="#b1b1b1"/><stop offset="0.415" stop-color="#bcbcbc"/><stop offset="0.489" stop-color="#bababa"/><stop offset="0.56" stop-color="#adadad"/><stop offset="0.626" stop-color="#969696"/><stop offset="0.685" stop-color="#767676"/><stop offset="0.739" stop-color="#4d4d4d"/><stop offset="0.791" stop-color="#1a1a1a"/><stop offset="0.813" stop-color="#000000"/><stop offset="0.99" stop-color="#000000"/></linearGradient><linearGradient id="g58" x2="0" y2="1"><stop offset="0.01" stop-color="#000000"/><stop offset="0.02" stop-color="#000000"/><stop offset="0.023" stop-color="#070707"/><stop offset="0.042" stop-color="#161616"/><stop offset="0.114" stop-color="#4c4c4c"/><stop offset="0.187" stop-color="#787878"/><stop offset="0.263" stop-color="#9a9a9a"/><stop offset="0.339" stop-color="#b0b0b0"/><stop offset="0.415" stop-color="#bbbbbb"/><stop offset="0.489" stop-color="#bababa"/><stop offset="0.56" stop-color="#adadad"/><stop offset="0.626" stop-color="#969696"/><stop offset="0.688" stop-color="#757575"/><stop offset="0.744" stop-color="#4b4b4b"/><stop offset="0.806" stop-color="#121212"/><stop offset="0.82" stop-color="#000000"/><stop offset="0.99" stop-color="#000000"/></linearGradient><linearGradient id="g59" x2="0" y2="1"><stop offset="0.01" stop-color="#000000"/><stop offset="0.02" stop-color="#000000"/><stop offset="0.023" stop-color="#070707"/><stop offset="0.042" stop-color="#161616"/><stop offset="0.116" stop-color="#4d4d4d"/><stop offset="0.192" stop-color="#7a7a7a"/><stop offset="0.268" stop-color="#9b9b9b"/><stop offset="0.344" stop-color="#b1b1b1"/><stop offset="0.42" stop-color="#bababa"/><stop offset="0.494" stop-color="#b8b8b8"/><stop offset="0.565" stop-color="#ababab"/><stop offset="0.631" stop-color="#939393"/><stop offset="0.695" stop-color="#707070"/><stop offset="0.759" stop-color="#424242"/><stop offset="0.833" stop-color="#010101"/><stop offset="0.99" stop-color="#000000"/></linearGradient><linearGradient id="g60" x2="0" y2="1"><stop offset="0.01" stop-color="#000000"/><stop offset="0.02" stop-color="#000000"/><stop offset="0.023" stop-color="#070707"/><stop offset="0.042" stop-color="#161616"/><stop offset="0.116" stop-color="#4d4d4d"/><stop offset="0.192" stop-color="#7a7a7a"/><stop offset="0.268" stop-color="#9b9b9b"/><stop offset="0.344" stop-color="#b0b0b0"/><stop offset="0.42" stop-color="#bababa"/><stop offset="0.494" stop-color="#b8b8b8"/><stop offset="0.565" stop-color="#aaaaaa"/><stop offset="0.634" stop-color="#929292"/><stop offset="0.7" stop-color="#6e6e6e"/><stop offset="0.769" stop-color="#3d3d3d"/><stop offset="0.842" stop-color="#000000"/><stop offset="0.99" stop-color="#000000"/></linearGradient><linearGradient id="g61" x2="0" y2="1"><stop offset="0.01" stop-color="#000000"/><stop offset="0.02" stop-color="#000000"/><stop offset="0.023" stop-color="#070707"/><stop offset="0.045" stop-color="#181818"/><stop offset="0.118" stop-color="#4e4e4e"/><stop offset="0.194" stop-color="#7a7a7a"/><stop offset="0.271" stop-color="#9b9b9b"/><stop offset="0.347" stop-color="#b0b0b0"/><stop offset="0.423" stop-color="#b9b9b9"/><stop offset="0.496" stop-color="#b6b6b6"/><stop offset="0.567" stop-color="#a9a9a9"/><stop offset="0.636" stop-color="#909090"/><stop offset="0.705" stop-color="#6b6b6b"/><stop offset="0.783" stop-color="#343434"/><stop offset="0.845" stop-color="#050505"/><stop offset="0.85" stop-color="#000000"/><stop offset="0.99" stop-color="#000000"/></linearGradient><linearGradient id="g62" x2="0" y2="1"><stop offset="0.01" stop-color="#000000"/><stop offset="0.02" stop-color="#000000"/><stop offset="0.023" stop-color="#070707"/><stop offset="0.045" stop-color="#171717"/><stop offset="0.118" stop-color="#4e4e4e"/><stop offset="0.194" stop-color="#7a7a7a"/><stop offset="0.271" stop-color="#9a9a9a"/><stop offset="0.347" stop-color="#afafaf"/><stop offset="0.423" stop-color="#b8b8b8"/><stop offset="0.499" stop-color="#b5b5b5"/><stop offset="0.572" stop-color="#a7a7a7"/><stop offset="0.644" stop-color="#8c8c8c"/><stop offset="0.715" stop-color="#666666"/><stop offset="0.864" stop-color="#000000"/><stop offset="0.99" stop-color="#000000"/></linearGradient><linearGradient id="g63" x2="0" y2="1"><stop offset="0.01" stop-color="#000000"/><stop offset="0.02" stop-color="#000000"/><stop offset="0.023" stop-color="#070707"/><stop offset="0.045" stop-color="#171717"/><stop offset="0.118" stop-color="#4d4d4d"/><stop offset="0.194" stop-color="#797979"/><stop offset="0.271" stop-color="#999999"/><stop offset="0.347" stop-color="#aeaeae"/><stop offset="0.423" stop-color="#b7b7b7"/><stop offset="0.499" stop-color="#b4b4b4"/><stop offset="0.572" stop-color="#a6a6a6"/><stop offset="0.644" stop-color="#8c8c8c"/><stop offset="0.717" stop-color="#656565"/><stop offset="0.857" stop-color="#0c0c0c"/><stop offset="0.882" stop-color="#000000"/><stop offset="0.99" stop-color="#000000"/></linearGradient><linearGradient id="g64" x2="0" y2="1"><stop offset="0.01" stop-color="#000000"/><stop offset="0.02" stop-color="#000000"/><stop offset="0.023" stop-color="#070707"/><stop offset="0.045" stop-color="#171717"/><stop offset="0.118" stop-color="#4d4d4d"/><stop offset="0.194" stop-color="#797979"/><stop offset="0.271" stop-color="#999999"/><stop offset="0.349" stop-color="#aeaeae"/><stop offset="0.425" stop-color="#b6b6b6"/><stop offset="0.501" stop-color="#b3b3b3"/><stop offset="0.575" stop-color="#a4a4a4"/><stop offset="0.648" stop-color="#898989"/><stop offset="0.727" stop-color="#606060"/><stop offset="0.855" stop-color="#131313"/><stop offset="0.896" stop-color="#000000"/><stop offset="0.99" stop-color="#000000"/></linearGradient><linearGradient id="g65" x2="0" y2="1"><stop offset="0.01" stop-color="#000000"/><stop offset="0.02" stop-color="#000000"/><stop offset="0.023" stop-color="#070707"/><stop offset="0.045" stop-color="#171717"/><stop offset="0.118" stop-color="#4d4d4d"/><stop offset="0.194" stop-color="#787878"/><stop offset="0.273" stop-color="#999999"/><stop offset="0.349" stop-color="#adadad"/><stop offset="0.425" stop-color="#b5b5b5"/><stop offset="0.501" stop-color="#b2b2b2"/><stop offset="0.575" stop-color="#a3a3a3"/><stop offset="0.648" stop-color="#898989"/><stop offset="0.729" stop-color="#606060"/><stop offset="0.857" stop-color="#151515"/><stop offset="0.904" stop-color="#030303"/><stop offset="0.926" stop-color="#000000"/><stop offset="0.99" stop-color="#000000"/></linearGradient><linearGradient id="g66" x2="0" y2="1"><stop offset="0.01" stop-color="#000000"/><stop offset="0.02" stop-color="#000000"/><stop offset="0.023" stop-color="#070707"/><stop offset="0.045" stop-color="#171717"/><stop offset="0.121" stop-color="#4e4e4e"/><stop offset="0.197" stop-color="#787878"/><stop offset="0.275" stop-color="#999999"/><stop offset="0.354" stop-color="#adadad"/><stop offset="0.43" stop-color="#b4b4b4"/><stop offset="0.506" stop-color="#b0b0b0"/><stop offset="0.582" stop-color="#a0a0a0"/><stop offset="0.658" stop-color="#858585"/><stop offset="0.747" stop-color="#575757"/><stop offset="0.857" stop-color="#191919"/><stop offset="0.909" stop-color="#050505"/><stop offset="0.95" stop-color="#000000"/><stop offset="0.99" stop-color="#000000"/></linearGradient><linearGradient id="g67" x2="0" y2="1"><stop offset="0.01" stop-color="#000000"/><stop offset="0.02" stop-color="#000000"/><stop offset="0.023" stop-color="#070707"/><stop offset="0.045" stop-color="#171717"/><stop offset="0.121" stop-color="#4d4d4d"/><stop offset="0.197" stop-color="#787878"/><stop offset="0.275" stop-color="#989898"/><stop offset="0.354" stop-color="#acacac"/><stop offset="0.43" stop-color="#b3b3b3"/><stop offset="0.506" stop-color="#afafaf"/><stop offset="0.582" stop-color="#a0a0a0"/><stop offset="0.661" stop-color="#838383"/><stop offset="0.754" stop-color="#545454"/><stop offset="0.862" stop-color="#191919"/><stop offset="0.916" stop-color="#060606"/><stop offset="0.965" stop-color="#000000"/><stop offset="0.99" stop-color="#000000"/></linearGradient><linearGradient id="g68" x2="0" y2="1"><stop offset="0.01" stop-color="#000000"/><stop offset="0.02" stop-color="#000000"/><stop offset="0.023" stop-color="#070707"/><stop offset="0.047" stop-color="#181818"/><stop offset="0.123" stop-color="#4e4e4e"/><stop offset="0.199" stop-color="#787878"/><stop offset="0.278" stop-color="#989898"/><stop offset="0.356" stop-color="#ababab"/><stop offset="0.435" stop-color="#b2b2b2"/><stop offset="0.511" stop-color="#aeaeae"/><stop offset="0.587" stop-color="#9e9e9e"/><stop offset="0.666" stop-color="#818181"/><stop offset="0.769" stop-color="#4d4d4d"/><stop offset="0.869" stop-color="#191919"/><stop offset="0.926" stop-color="#060606"/><stop offset="0.98" stop-color="#000000"/><stop offset="0.99" stop-color="#000000"/></linearGradient><linearGradient id="g69" x2="0" y2="1"><stop offset="0.01" stop-color="#000000"/><stop offset="0.02" stop-color="#000000"/><stop offset="0.023" stop-color="#070707"/><stop offset="0.047" stop-color="#181818"/><stop offset="0.123" stop-color="#4e4e4e"/><stop offset="0.202" stop-color="#797979"/><stop offset="0.28" stop-color="#989898"/><stop offset="0.359" stop-color="#aaaaaa"/><stop offset="0.437" stop-color="#b1b1b1"/><stop offset="0.513" stop-color="#acacac"/><stop offset="0.592" stop-color="#9b9b9b"/><stop offset="0.673" stop-color="#7e7e7e"/><stop offset="0.788" stop-color="#434343"/><stop offset="0.879" stop-color="#171717"/><stop offset="0.938" stop-color="#050505"/><stop offset="0.99" stop-color="#000000"/></linearGradient><linearGradient id="g70" x2="0" y2="1"><stop offset="0.01" stop-color="#000000"/><stop offset="0.02" stop-color="#000000"/><stop offset="0.023" stop-color="#070707"/><stop offset="0.047" stop-color="#181818"/><stop offset="0.123" stop-color="#4d4d4d"/><stop offset="0.202" stop-color="#787878"/><stop offset="0.28" stop-color="#979797"/><stop offset="0.359" stop-color="#a9a9a9"/><stop offset="0.437" stop-color="#b0b0b0"/><stop offset="0.516" stop-color="#ababab"/><stop offset="0.594" stop-color="#9a9a9a"/><stop offset="0.678" stop-color="#7b7b7b"/><stop offset="0.877" stop-color="#1a1a1a"/><stop offset="0.938" stop-color="#060606"/><stop offset="0.987" stop-color="#000000"/><stop offset="0.99" stop-color="#000000"/></linearGradient><linearGradient id="g71" x2="0" y2="1"><stop offset="0.01" stop-color="#000000"/><stop offset="0.02" stop-color="#000000"/><stop offset="0.023" stop-color="#070707"/><stop offset="0.047" stop-color="#181818"/><stop offset="0.126" stop-color="#4e4e4e"/><stop offset="0.204" stop-color="#787878"/><stop offset="0.283" stop-color="#969696"/><stop offset="0.361" stop-color="#a9a9a9"/><stop offset="0.44" stop-color="#afafaf"/><stop offset="0.518" stop-color="#aaaaaa"/><stop offset="0.597" stop-color="#999999"/><stop offset="0.683" stop-color="#797979"/><stop offset="0.882" stop-color="#1a1a1a"/><stop offset="0.945" stop-color="#060606"/><stop offset="0.987" stop-color="#000000"/><stop offset="0.99" stop-color="#000000"/></linearGradient><linearGradient id="g72" x2="0" y2="1"><stop offset="0.01" stop-color="#000000"/><stop offset="0.02" stop-color="#000000"/><stop offset="0.023" stop-color="#070707"/><stop offset="0.05" stop-color="#1a1a1a"/><stop offset="0.128" stop-color="#4f4f4f"/><stop offset="0.207" stop-color="#787878"/><stop offset="0.285" stop-color="#969696"/><stop offset="0.364" stop-color="#a8a8a8"/><stop offset="0.442" stop-color="#aeaeae"/><stop offset="0.521" stop-color="#a9a9a9"/><stop offset="0.602" stop-color="#979797"/><stop offset="0.69" stop-color="#767676"/><stop offset="0.884" stop-color="#1b1b1b"/><stop offset="0.953" stop-color="#050505"/><stop offset="0.985" stop-color="#000000"/><stop offset="0.99" stop-color="#000000"/></linearGradient><linearGradient id="g73" x2="0" y2="1"><stop offset="0.01" stop-color="#000000"/><stop offset="0.02" stop-color="#000000"/><stop offset="0.023" stop-color="#070707"/><stop offset="0.05" stop-color="#191919"/><stop offset="0.128" stop-color="#4e4e4e"/><stop offset="0.207" stop-color="#787878"/><stop offset="0.285" stop-color="#959595"/><stop offset="0.364" stop-color="#a7a7a7"/><stop offset="0.442" stop-color="#adadad"/><stop offset="0.521" stop-color="#a8a8a8"/><stop offset="0.602" stop-color="#969696"/><stop offset="0.69" stop-color="#767676"/><stop offset="0.889" stop-color="#1b1b1b"/><stop offset="0.965" stop-color="#030303"/><stop offset="0.987" stop-color="#000000"/><stop offset="0.99" stop-color="#000000"/></linearGradient><linearGradient id="g74" x2="0" y2="1"><stop offset="0.01" stop-color="#000000"/><stop offset="0.02" stop-color="#000000"/><stop offset="0.023" stop-color="#070707"/><stop offset="0.05" stop-color="#191919"/><stop offset="0.128" stop-color="#4e4e4e"/><stop offset="0.207" stop-color="#777777"/><stop offset="0.285" stop-color="#949494"/><stop offset="0.364" stop-color="#a6a6a6"/><stop offset="0.442" stop-color="#acacac"/><stop offset="0.521" stop-color="#a7a7a7"/><stop offset="0.604" stop-color="#959595"/><stop offset="0.695" stop-color="#757575"/><stop offset="0.896" stop-color="#1a1a1a"/><stop offset="0.98" stop-color="#000000"/><stop offset="0.99" stop-color="#000000"/></linearGradient><linearGradient id="g75" x2="0" y2="1"><stop offset="0.01" stop-color="#000000"/><stop offset="0.02" stop-color="#000000"/><stop offset="0.023" stop-color="#070707"/><stop offset="0.052" stop-color="#1b1b1b"/><stop offset="0.133" stop-color="#505050"/><stop offset="0.214" stop-color="#797979"/><stop offset="0.293" stop-color="#959595"/><stop offset="0.371" stop-color="#a6a6a6"/><stop offset="0.452" stop-color="#ababab"/><stop offset="0.533" stop-color="#a4a4a4"/><stop offset="0.617" stop-color="#919191"/><stop offset="0.712" stop-color="#6e6e6e"/><stop offset="0.901" stop-color="#1a1a1a"/><stop offset="0.98" stop-color="#000000"/><stop offset="0.99" stop-color="#000000"/></linearGradient><linearGradient id="g76" x2="0" y2="1"><stop offset="0.01" stop-color="#000000"/><stop offset="0.02" stop-color="#000000"/><stop offset="0.023" stop-color="#070707"/><stop offset="0.052" stop-color="#1b1b1b"/><stop offset="0.133" stop-color="#505050"/><stop offset="0.214" stop-color="#787878"/><stop offset="0.295" stop-color="#959595"/><stop offset="0.374" stop-color="#a6a6a6"/><stop offset="0.455" stop-color="#aaaaaa"/><stop offset="0.536" stop-color="#a3a3a3"/><stop offset="0.621" stop-color="#8f8f8f"/><stop offset="0.72" stop-color="#6b6b6b"/><stop offset="0.911" stop-color="#181818"/><stop offset="0.98" stop-color="#000000"/><stop offset="0.99" stop-color="#000000"/></linearGradient><linearGradient id="g77" x2="0" y2="1"><stop offset="0.01" stop-color="#000000"/><stop offset="0.02" stop-color="#000000"/><stop offset="0.023" stop-color="#070707"/><stop offset="0.055" stop-color="#1c1c1c"/><stop offset="0.136" stop-color="#505050"/><stop offset="0.217" stop-color="#797979"/><stop offset="0.298" stop-color="#959595"/><stop offset="0.379" stop-color="#a5a5a5"/><stop offset="0.46" stop-color="#a9a9a9"/><stop offset="0.54" stop-color="#a2a2a2"/><stop offset="0.626" stop-color="#8e8e8e"/><stop offset="0.727" stop-color="#696969"/><stop offset="0.923" stop-color="#151515"/><stop offset="0.98" stop-color="#000000"/><stop offset="0.99" stop-color="#000000"/></linearGradient><linearGradient id="g78" x2="0" y2="1"><stop offset="0.01" stop-color="#000000"/><stop offset="0.02" stop-color="#000000"/><stop offset="0.023" stop-color="#060606"/><stop offset="0.055" stop-color="#1c1c1c"/><stop offset="0.136" stop-color="#505050"/><stop offset="0.217" stop-color="#787878"/><stop offset="0.298" stop-color="#949494"/><stop offset="0.379" stop-color="#a4a4a4"/><stop offset="0.46" stop-color="#a9a9a9"/><stop offset="0.543" stop-color="#a1a1a1"/><stop offset="0.631" stop-color="#8c8c8c"/><stop offset="0.737" stop-color="#656565"/><stop offset="0.945" stop-color="#0d0d0d"/><stop offset="0.98" stop-color="#000000"/><stop offset="0.99" stop-color="#000000"/></linearGradient><linearGradient id="g79" x2="0" y2="1"><stop offset="0.01" stop-color="#000000"/><stop offset="0.02" stop-color="#000000"/><stop offset="0.023" stop-color="#060606"/><stop offset="0.057" stop-color="#1d1d1d"/><stop offset="0.138" stop-color="#515151"/><stop offset="0.219" stop-color="#787878"/><stop offset="0.3" stop-color="#949494"/><stop offset="0.381" stop-color="#a4a4a4"/><stop offset="0.462" stop-color="#a8a8a8"/><stop offset="0.545" stop-color="#a0a0a0"/><stop offset="0.634" stop-color="#8b8b8b"/><stop offset="0.739" stop-color="#656565"/><stop offset="0.98" stop-color="#000000"/><stop offset="0.99" stop-color="#000000"/></linearGradient><linearGradient id="g80" x2="0" y2="1"><stop offset="0.01" stop-color="#000000"/><stop offset="0.02" stop-color="#000000"/><stop offset="0.023" stop-color="#060606"/><stop offset="0.057" stop-color="#1d1d1d"/><stop offset="0.141" stop-color="#515151"/><stop offset="0.221" stop-color="#787878"/><stop offset="0.302" stop-color="#949494"/><stop offset="0.383" stop-color="#a3a3a3"/><stop offset="0.464" stop-color="#a7a7a7"/><stop offset="0.548" stop-color="#9f9f9f"/><stop offset="0.639" stop-color="#8a8a8a"/><stop offset="0.747" stop-color="#636363"/><stop offset="0.98" stop-color="#000000"/><stop offset="0.99" stop-color="#000000"/></linearGradient><linearGradient id="g81" x2="0" y2="1"><stop offset="0.01" stop-color="#000000"/><stop offset="0.02" stop-color="#000000"/><stop offset="0.023" stop-color="#060606"/><stop offset="0.06" stop-color="#1f1f1f"/><stop offset="0.143" stop-color="#525252"/><stop offset="0.224" stop-color="#797979"/><stop offset="0.305" stop-color="#939393"/><stop offset="0.386" stop-color="#a3a3a3"/><stop offset="0.469" stop-color="#a6a6a6"/><stop offset="0.555" stop-color="#9d9d9d"/><stop offset="0.646" stop-color="#888888"/><stop offset="0.759" stop-color="#5f5f5f"/><stop offset="0.972" stop-color="#030303"/><stop offset="0.985" stop-color="#000000"/><stop offset="0.99" stop-color="#000000"/></linearGradient><linearGradient id="g82" x2="0" y2="1"><stop offset="0.01" stop-color="#000000"/><stop offset="0.02" stop-color="#000000"/><stop offset="0.023" stop-color="#060606"/><stop offset="0.062" stop-color="#202020"/><stop offset="0.145" stop-color="#535353"/><stop offset="0.229" stop-color="#7a7a7a"/><stop offset="0.312" stop-color="#949494"/><stop offset="0.396" stop-color="#a3a3a3"/><stop offset="0.479" stop-color="#a5a5a5"/><stop offset="0.565" stop-color="#9b9b9b"/><stop offset="0.658" stop-color="#848484"/><stop offset="0.776" stop-color="#595959"/><stop offset="0.972" stop-color="#030303"/><stop offset="0.982" stop-color="#000000"/><stop offset="0.99" stop-color="#000000"/></linearGradient><linearGradient id="g83" x2="0" y2="1"><stop offset="0.01" stop-color="#000000"/><stop offset="0.02" stop-color="#000000"/><stop offset="0.023" stop-color="#060606"/><stop offset="0.069" stop-color="#252525"/><stop offset="0.153" stop-color="#565656"/><stop offset="0.236" stop-color="#7c7c7c"/><stop offset="0.32" stop-color="#959595"/><stop offset="0.403" stop-color="#a3a3a3"/><stop offset="0.487" stop-color="#a4a4a4"/><stop offset="0.572" stop-color="#9a9a9a"/><stop offset="0.668" stop-color="#818181"/><stop offset="0.791" stop-color="#545454"/><stop offset="0.97" stop-color="#040404"/><stop offset="0.98" stop-color="#000000"/><stop offset="0.99" stop-color="#000000"/></linearGradient><linearGradient id="g84" x2="0" y2="1"><stop offset="0.01" stop-color="#000000"/><stop offset="0.02" stop-color="#000000"/><stop offset="0.023" stop-color="#060606"/><stop offset="0.131" stop-color="#4a4a4a"/><stop offset="0.214" stop-color="#737373"/><stop offset="0.298" stop-color="#8f8f8f"/><stop offset="0.381" stop-color="#a0a0a0"/><stop offset="0.464" stop-color="#a4a4a4"/><stop offset="0.55" stop-color="#9d9d9d"/><stop offset="0.644" stop-color="#898989"/><stop offset="0.754" stop-color="#646464"/><stop offset="0.928" stop-color="#191919"/><stop offset="0.98" stop-color="#000000"/><stop offset="0.99" stop-color="#000000"/></linearGradient><linearGradient id="g85" x2="0" y2="1"><stop offset="0.01" stop-color="#000000"/><stop offset="0.02" stop-color="#000000"/><stop offset="0.023" stop-color="#060606"/><stop offset="0.131" stop-color="#494949"/><stop offset="0.214" stop-color="#727272"/><stop offset="0.298" stop-color="#8e8e8e"/><stop offset="0.381" stop-color="#9f9f9f"/><stop offset="0.464" stop-color="#a4a4a4"/><stop offset="0.55" stop-color="#9d9d9d"/><stop offset="0.644" stop-color="#898989"/><stop offset="0.754" stop-color="#646464"/><stop offset="0.911" stop-color="#222222"/><stop offset="0.972" stop-color="#030303"/><stop offset="0.982" stop-color="#000000"/><stop offset="0.99" stop-color="#000000"/></linearGradient><linearGradient id="g86" x2="0" y2="1"><stop offset="0.01" stop-color="#000000"/><stop offset="0.02" stop-color="#000000"/><stop offset="0.023" stop-color="#060606"/><stop offset="0.133" stop-color="#4a4a4a"/><stop offset="0.217" stop-color="#727272"/><stop offset="0.3" stop-color="#8e8e8e"/><stop offset="0.383" stop-color="#9f9f9f"/><stop offset="0.469" stop-color="#a3a3a3"/><stop offset="0.558" stop-color="#9c9c9c"/><stop offset="0.653" stop-color="#878787"/><stop offset="0.766" stop-color="#616161"/><stop offset="0.913" stop-color="#212121"/><stop offset="0.972" stop-color="#030303"/><stop offset="0.982" stop-color="#000000"/><stop offset="0.99" stop-color="#000000"/></linearGradient><linearGradient id="g87" x2="0" y2="1"><stop offset="0.01" stop-color="#000000"/><stop offset="0.02" stop-color="#000000"/><stop offset="0.023" stop-color="#060606"/><stop offset="0.133" stop-color="#4a4a4a"/><stop offset="0.217" stop-color="#727272"/><stop offset="0.3" stop-color="#8e8e8e"/><stop offset="0.383" stop-color="#9e9e9e"/><stop offset="0.469" stop-color="#a3a3a3"/><stop offset="0.558" stop-color="#9b9b9b"/><stop offset="0.653" stop-color="#878787"/><stop offset="0.764" stop-color="#626262"/><stop offset="0.901" stop-color="#282828"/><stop offset="0.972" stop-color="#030303"/><stop offset="0.982" stop-color="#000000"/><stop offset="0.99" stop-color="#000000"/></linearGradient><linearGradient id="g88" x2="0" y2="1"><stop offset="0.01" stop-color="#000000"/><stop offset="0.02" stop-color="#000000"/><stop offset="0.023" stop-color="#060606"/><stop offset="0.133" stop-color="#494949"/><stop offset="0.219" stop-color="#727272"/><stop offset="0.302" stop-color="#8e8e8e"/><stop offset="0.388" stop-color="#9e9e9e"/><stop offset="0.474" stop-color="#a2a2a2"/><stop offset="0.563" stop-color="#9a9a9a"/><stop offset="0.658" stop-color="#868686"/><stop offset="0.769" stop-color="#616161"/><stop offset="0.901" stop-color="#282828"/><stop offset="0.972" stop-color="#030303"/><stop offset="0.98" stop-color="#000000"/><stop offset="0.99" stop-color="#000000"/></linearGradient><linearGradient id="g89" x2="0" y2="1"><stop offset="0.01" stop-color="#000000"/><stop offset="0.02" stop-color="#000000"/><stop offset="0.023" stop-color="#060606"/><stop offset="0.133" stop-color="#494949"/><stop offset="0.219" stop-color="#717171"/><stop offset="0.305" stop-color="#8e8e8e"/><stop offset="0.391" stop-color="#9e9e9e"/><stop offset="0.477" stop-color="#a2a2a2"/><stop offset="0.567" stop-color="#9a9a9a"/><stop offset="0.663" stop-color="#858585"/><stop offset="0.774" stop-color="#606060"/><stop offset="0.901" stop-color="#292929"/><stop offset="0.972" stop-color="#030303"/><stop offset="0.98" stop-color="#000000"/><stop offset="0.99" stop-color="#000000"/></linearGradient><linearGradient id="g90" x2="0" y2="1"><stop offset="0.01" stop-color="#000000"/><stop offset="0.02" stop-color="#000000"/><stop offset="0.023" stop-color="#060606"/><stop offset="0.133" stop-color="#494949"/><stop offset="0.219" stop-color="#717171"/><stop offset="0.305" stop-color="#8d8d8d"/><stop offset="0.391" stop-color="#9d9d9d"/><stop offset="0.477" stop-color="#a1a1a1"/><stop offset="0.567" stop-color="#9a9a9a"/><stop offset="0.666" stop-color="#858585"/><stop offset="0.776" stop-color="#606060"/><stop offset="0.899" stop-color="#2b2b2b"/><stop offset="0.972" stop-color="#030303"/><stop offset="0.98" stop-color="#000000"/><stop offset="0.99" stop-color="#000000"/></linearGradient><linearGradient id="g91" x2="0" y2="1"><stop offset="0.01" stop-color="#000000"/><stop offset="0.02" stop-color="#000000"/><stop offset="0.023" stop-color="#060606"/><stop offset="0.133" stop-color="#484848"/><stop offset="0.219" stop-color="#707070"/><stop offset="0.305" stop-color="#8c8c8c"/><stop offset="0.391" stop-color="#9d9d9d"/><stop offset="0.479" stop-color="#a1a1a1"/><stop offset="0.57" stop-color="#999999"/><stop offset="0.668" stop-color="#848484"/><stop offset="0.776" stop-color="#616161"/><stop offset="0.894" stop-color="#2e2e2e"/><stop offset="0.972" stop-color="#030303"/><stop offset="0.98" stop-color="#000000"/><stop offset="0.99" stop-color="#000000"/></linearGradient><linearGradient id="g92" x2="0" y2="1"><stop offset="0.01" stop-color="#000000"/><stop offset="0.02" stop-color="#000000"/><stop offset="0.023" stop-color="#060606"/><stop offset="0.136" stop-color="#494949"/><stop offset="0.221" stop-color="#717171"/><stop offset="0.307" stop-color="#8d8d8d"/><stop offset="0.393" stop-color="#9c9c9c"/><stop offset="0.482" stop-color="#a1a1a1"/><stop offset="0.572" stop-color="#999999"/><stop offset="0.671" stop-color="#848484"/><stop offset="0.779" stop-color="#606060"/><stop offset="0.894" stop-color="#2e2e2e"/><stop offset="0.972" stop-color="#030303"/><stop offset="0.98" stop-color="#000000"/><stop offset="0.99" stop-color="#000000"/></linearGradient><linearGradient id="g93" x2="0" y2="1"><stop offset="0.01" stop-color="#000000"/><stop offset="0.02" stop-color="#000000"/><stop offset="0.023" stop-color="#060606"/><stop offset="0.136" stop-color="#494949"/><stop offset="0.221" stop-color="#707070"/><stop offset="0.307" stop-color="#8c8c8c"/><stop offset="0.393" stop-color="#9c9c9c"/><stop offset="0.482" stop-color="#a0a0a0"/><stop offset="0.572" stop-color="#999999"/><stop offset="0.671" stop-color="#848484"/><stop offset="0.779" stop-color="#616161"/><stop offset="0.891" stop-color="#303030"/><stop offset="0.97" stop-color="#050505"/><stop offset="0.977" stop-color="#000000"/><stop offset="0.99" stop-color="#000000"/></linearGradient><linearGradient id="g94" x2="0" y2="1"><stop offset="0.01" stop-color="#000000"/><stop offset="0.02" stop-color="#000000"/><stop offset="0.023" stop-color="#060606"/><stop offset="0.136" stop-color="#494949"/><stop offset="0.224" stop-color="#717171"/><stop offset="0.31" stop-color="#8c8c8c"/><stop offset="0.396" stop-color="#9c9c9c"/><stop offset="0.484" stop-color="#a0a0a0"/><stop offset="0.575" stop-color="#999999"/><stop offset="0.673" stop-color="#848484"/><stop offset="0.779" stop-color="#626262"/><stop offset="0.889" stop-color="#313131"/><stop offset="0.97" stop-color="#060606"/><stop offset="0.977" stop-color="#000000"/><stop offset="0.99" stop-color="#000000"/></linearGradient><linearGradient id="g95" x2="0" y2="1"><stop offset="0.01" stop-color="#000000"/><stop offset="0.02" stop-color="#000000"/><stop offset="0.023" stop-color="#060606"/><stop offset="0.136" stop-color="#484848"/><stop offset="0.224" stop-color="#707070"/><stop offset="0.31" stop-color="#8c8c8c"/><stop offset="0.398" stop-color="#9c9c9c"/><stop offset="0.487" stop-color="#a0a0a0"/><stop offset="0.58" stop-color="#989898"/><stop offset="0.678" stop-color="#838383"/><stop offset="0.783" stop-color="#606060"/><stop offset="0.891" stop-color="#313131"/><stop offset="0.97" stop-color="#060606"/><stop offset="0.977" stop-color="#000000"/><stop offset="0.99" stop-color="#000000"/></linearGradient><linearGradient id="g96" x2="0" y2="1"><stop offset="0.01" stop-color="#000000"/><stop offset="0.02" stop-color="#000000"/><stop offset="0.023" stop-color="#060606"/><stop offset="0.136" stop-color="#484848"/><stop offset="0.224" stop-color="#707070"/><stop offset="0.312" stop-color="#8c8c8c"/><stop offset="0.401" stop-color="#9c9c9c"/><stop offset="0.489" stop-color="#a0a0a0"/><stop offset="0.582" stop-color="#989898"/><stop offset="0.68" stop-color="#838383"/><stop offset="0.786" stop-color="#606060"/><stop offset="0.891" stop-color="#313131"/><stop offset="0.97" stop-color="#060606"/><stop offset="0.977" stop-color="#000000"/><stop offset="0.99" stop-color="#000000"/></linearGradient><linearGradient id="g97" x2="0" y2="1"><stop offset="0.01" stop-color="#000000"/><stop offset="0.02" stop-color="#000000"/><stop offset="0.023" stop-color="#060606"/><stop offset="0.136" stop-color="#484848"/><stop offset="0.224" stop-color="#707070"/><stop offset="0.312" stop-color="#8b8b8b"/><stop offset="0.401" stop-color="#9b9b9b"/><stop offset="0.491" stop-color="#9f9f9f"/><stop offset="0.585" stop-color="#979797"/><stop offset="0.683" stop-color="#828282"/><stop offset="0.786" stop-color="#606060"/><stop offset="0.891" stop-color="#313131"/><stop offset="0.97" stop-color="#060606"/><stop offset="0.977" stop-color="#000000"/><stop offset="0.99" stop-color="#000000"/></linearGradient><linearGradient id="g98" x2="0" y2="1"><stop offset="0.01" stop-color="#000000"/><stop offset="0.02" stop-color="#000000"/><stop offset="0.023" stop-color="#060606"/><stop offset="0.138" stop-color="#494949"/><stop offset="0.226" stop-color="#707070"/><stop offset="0.315" stop-color="#8c8c8c"/><stop offset="0.403" stop-color="#9b9b9b"/><stop offset="0.494" stop-color="#9f9f9f"/><stop offset="0.587" stop-color="#979797"/><stop offset="0.685" stop-color="#828282"/><stop offset="0.788" stop-color="#606060"/><stop offset="0.891" stop-color="#323232"/><stop offset="0.97" stop-color="#060606"/><stop offset="0.977" stop-color="#000000"/><stop offset="0.99" stop-color="#000000"/></linearGradient><linearGradient id="g99" x2="0" y2="1"><stop offset="0.01" stop-color="#000000"/><stop offset="0.02" stop-color="#000000"/><stop offset="0.023" stop-color="#060606"/><stop offset="0.138" stop-color="#484848"/><stop offset="0.226" stop-color="#707070"/><stop offset="0.315" stop-color="#8b8b8b"/><stop offset="0.403" stop-color="#9b9b9b"/><stop offset="0.494" stop-color="#9f9f9f"/><stop offset="0.587" stop-color="#979797"/><stop offset="0.685" stop-color="#828282"/><stop offset="0.788" stop-color="#606060"/><stop offset="0.891" stop-color="#323232"/><stop offset="0.97" stop-color="#060606"/><stop offset="0.977" stop-color="#000000"/><stop offset="0.99" stop-color="#000000"/></linearGradient><linearGradient id="g100" x2="0" y2="1"><stop offset="0.01" stop-color="#000000"/><stop offset="0.02" stop-color="#000000"/><stop offset="0.023" stop-color="#060606"/><stop offset="0.138" stop-color="#484848"/><stop offset="0.226" stop-color="#6f6f6f"/><stop offset="0.315" stop-color="#8b8b8b"/><stop offset="0.403" stop-color="#9b9b9b"/><stop offset="0.494" stop-color="#9f9f9f"/><stop offset="0.587" stop-color="#979797"/><stop offset="0.685" stop-color="#838383"/><stop offset="0.786" stop-color="#626262"/><stop offset="0.886" stop-color="#353535"/><stop offset="0.97" stop-color="#060606"/><stop offset="0.977" stop-color="#000000"/><stop offset="0.99" stop-color="#000000"/></linearGradient><linearGradient id="g101" x2="0" y2="1"><stop offset="0.01" stop-color="#000000"/><stop offset="0.02" stop-color="#000000"/><stop offset="0.023" stop-color="#060606"/><stop offset="0.138" stop-color="#484848"/><stop offset="0.226" stop-color="#6f6f6f"/><stop offset="0.315" stop-color="#8b8b8b"/><stop offset="0.403" stop-color="#9a9a9a"/><stop offset="0.494" stop-color="#9f9f9f"/><stop offset="0.587" stop-color="#979797"/><stop offset="0.685" stop-color="#838383"/><stop offset="0.786" stop-color="#626262"/><stop offset="0.886" stop-color="#353535"/><stop offset="0.97" stop-color="#060606"/><stop offset="0.977" stop-color="#000000"/><stop offset="0.99" stop-color="#000000"/></linearGradient><linearGradient id="g102" x2="0" y2="1"><stop offset="0.01" stop-color="#000000"/><stop offset="0.02" stop-color="#000000"/><stop offset="0.023" stop-color="#060606"/><stop offset="0.138" stop-color="#484848"/><stop offset="0.229" stop-color="#707070"/><stop offset="0.317" stop-color="#8b8b8b"/><stop offset="0.408" stop-color="#9b9b9b"/><stop offset="0.499" stop-color="#9f9f9f"/><stop offset="0.592" stop-color="#979797"/><stop offset="0.69" stop-color="#828282"/><stop offset="0.791" stop-color="#606060"/><stop offset="0.889" stop-color="#343434"/><stop offset="0.97" stop-color="#060606"/><stop offset="0.977" stop-color="#000000"/><stop offset="0.99" stop-color="#000000"/></linearGradient><linearGradient id="g103" x2="0" y2="1"><stop offset="0.01" stop-color="#000000"/><stop offset="0.02" stop-color="#000000"/><stop offset="0.023" stop-color="#060606"/><stop offset="0.138" stop-color="#474747"/><stop offset="0.229" stop-color="#6f6f6f"/><stop offset="0.32" stop-color="#8b8b8b"/><stop offset="0.41" stop-color="#9b9b9b"/><stop offset="0.501" stop-color="#9f9f9f"/><stop offset="0.594" stop-color="#969696"/><stop offset="0.693" stop-color="#818181"/><stop offset="0.793" stop-color="#606060"/><stop offset="0.891" stop-color="#333333"/><stop offset="0.97" stop-color="#060606"/><stop offset="0.977" stop-color="#000000"/><stop offset="0.99" stop-color="#000000"/></linearGradient><linearGradient id="g104" x2="0" y2="1"><stop offset="0.01" stop-color="#000000"/><stop offset="0.02" stop-color="#000000"/><stop offset="0.023" stop-color="#060606"/><stop offset="0.138" stop-color="#474747"/><stop offset="0.229" stop-color="#6f6f6f"/><stop offset="0.32" stop-color="#8b8b8b"/><stop offset="0.41" stop-color="#9b9b9b"/><stop offset="0.501" stop-color="#9e9e9e"/><stop offset="0.594" stop-color="#969696"/><stop offset="0.693" stop-color="#828282"/><stop offset="0.791" stop-color="#616161"/><stop offset="0.889" stop-color="#343434"/><stop offset="0.97" stop-color="#060606"/><stop offset="0.977" stop-color="#000000"/><stop offset="0.99" stop-color="#000000"/></linearGradient><linearGradient id="g105" x2="0" y2="1"><stop offset="0.01" stop-color="#000000"/><stop offset="0.02" stop-color="#000000"/><stop offset="0.023" stop-color="#060606"/><stop offset="0.138" stop-color="#474747"/><stop offset="0.229" stop-color="#6f6f6f"/><stop offset="0.32" stop-color="#8b8b8b"/><stop offset="0.41" stop-color="#9b9b9b"/><stop offset="0.501" stop-color="#9e9e9e"/><stop offset="0.594" stop-color="#979797"/><stop offset="0.69" stop-color="#838383"/><stop offset="0.788" stop-color="#626262"/><stop offset="0.886" stop-color="#363636"/><stop offset="0.97" stop-color="#060606"/><stop offset="0.977" stop-color="#000000"/><stop offset="0.99" stop-color="#000000"/></linearGradient><linearGradient id="g106" x2="0" y2="1"><stop offset="0.01" stop-color="#000000"/><stop offset="0.02" stop-color="#000000"/><stop offset="0.023" stop-color="#060606"/><stop offset="0.138" stop-color="#474747"/><stop offset="0.229" stop-color="#6f6f6f"/><stop offset="0.32" stop-color="#8b8b8b"/><stop offset="0.41" stop-color="#9a9a9a"/><stop offset="0.501" stop-color="#9e9e9e"/><stop offset="0.594" stop-color="#979797"/><stop offset="0.69" stop-color="#838383"/><stop offset="0.788" stop-color="#626262"/><stop offset="0.886" stop-color="#363636"/><stop offset="0.97" stop-color="#060606"/><stop offset="0.977" stop-color="#000000"/><stop offset="0.99" stop-color="#000000"/></linearGradient><clipPath id="cpA"><rect x="93.50" y="24.70" width="103.50" height="65.60"/></clipPath><linearGradient id="g107" x2="0" y2="1"><stop offset="0.009" stop-color="#000000"/><stop offset="0.019" stop-color="#000000"/><stop offset="0.021" stop-color="#060606"/><stop offset="0.134" stop-color="#484848"/><stop offset="0.22" stop-color="#6f6f6f"/><stop offset="0.304" stop-color="#898989"/><stop offset="0.39" stop-color="#989898"/><stop offset="0.478" stop-color="#9b9b9b"/><stop offset="0.572" stop-color="#929292"/><stop offset="0.675" stop-color="#7b7b7b"/><stop offset="0.793" stop-color="#545454"/><stop offset="0.913" stop-color="#212121"/><stop offset="0.972" stop-color="#020202"/><stop offset="0.985" stop-color="#000000"/><stop offset="0.99" stop-color="#000000"/></linearGradient><linearGradient id="g108" x2="0" y2="1"><stop offset="0.009" stop-color="#000000"/><stop offset="0.019" stop-color="#000000"/><stop offset="0.021" stop-color="#060606"/><stop offset="0.134" stop-color="#494949"/><stop offset="0.218" stop-color="#6f6f6f"/><stop offset="0.301" stop-color="#898989"/><stop offset="0.385" stop-color="#989898"/><stop offset="0.473" stop-color="#9b9b9b"/><stop offset="0.567" stop-color="#929292"/><stop offset="0.67" stop-color="#7c7c7c"/><stop offset="0.79" stop-color="#545454"/><stop offset="0.916" stop-color="#202020"/><stop offset="0.972" stop-color="#020202"/><stop offset="0.987" stop-color="#000000"/><stop offset="0.99" stop-color="#000000"/></linearGradient><linearGradient id="g109" x2="0" y2="1"><stop offset="0.009" stop-color="#000000"/><stop offset="0.019" stop-color="#000000"/><stop offset="0.021" stop-color="#060606"/><stop offset="0.132" stop-color="#484848"/><stop offset="0.215" stop-color="#6f6f6f"/><stop offset="0.299" stop-color="#8a8a8a"/><stop offset="0.383" stop-color="#989898"/><stop offset="0.469" stop-color="#9c9c9c"/><stop offset="0.562" stop-color="#939393"/><stop offset="0.665" stop-color="#7c7c7c"/><stop offset="0.788" stop-color="#545454"/><stop offset="0.918" stop-color="#1e1e1e"/><stop offset="0.972" stop-color="#020202"/><stop offset="0.987" stop-color="#000000"/><stop offset="0.99" stop-color="#000000"/></linearGradient><linearGradient id="g110" x2="0" y2="1"><stop offset="0.009" stop-color="#000000"/><stop offset="0.019" stop-color="#000000"/><stop offset="0.021" stop-color="#060606"/><stop offset="0.132" stop-color="#494949"/><stop offset="0.215" stop-color="#707070"/><stop offset="0.299" stop-color="#8b8b8b"/><stop offset="0.383" stop-color="#999999"/><stop offset="0.469" stop-color="#9c9c9c"/><stop offset="0.559" stop-color="#939393"/><stop offset="0.663" stop-color="#7d7d7d"/><stop offset="0.788" stop-color="#535353"/><stop offset="0.923" stop-color="#1b1b1b"/><stop offset="0.972" stop-color="#020202"/><stop offset="0.99" stop-color="#000000"/></linearGradient><linearGradient id="g111" x2="0" y2="1"><stop offset="0.009" stop-color="#000000"/><stop offset="0.019" stop-color="#000000"/><stop offset="0.021" stop-color="#060606"/><stop offset="0.132" stop-color="#494949"/><stop offset="0.215" stop-color="#717171"/><stop offset="0.296" stop-color="#8b8b8b"/><stop offset="0.38" stop-color="#9a9a9a"/><stop offset="0.466" stop-color="#9d9d9d"/><stop offset="0.557" stop-color="#949494"/><stop offset="0.66" stop-color="#7d7d7d"/><stop offset="0.788" stop-color="#525252"/><stop offset="0.931" stop-color="#171717"/><stop offset="0.972" stop-color="#020202"/><stop offset="0.99" stop-color="#000000"/></linearGradient><linearGradient id="g112" x2="0" y2="1"><stop offset="0.009" stop-color="#000000"/><stop offset="0.019" stop-color="#000000"/><stop offset="0.021" stop-color="#060606"/><stop offset="0.129" stop-color="#494949"/><stop offset="0.213" stop-color="#717171"/><stop offset="0.294" stop-color="#8b8b8b"/><stop offset="0.375" stop-color="#9a9a9a"/><stop offset="0.459" stop-color="#9e9e9e"/><stop offset="0.55" stop-color="#959595"/><stop offset="0.65" stop-color="#7f7f7f"/><stop offset="0.778" stop-color="#555555"/><stop offset="0.931" stop-color="#171717"/><stop offset="0.972" stop-color="#020202"/><stop offset="0.99" stop-color="#000000"/></linearGradient><linearGradient id="g113" x2="0" y2="1"><stop offset="0.009" stop-color="#000000"/><stop offset="0.019" stop-color="#000000"/><stop offset="0.021" stop-color="#060606"/><stop offset="0.129" stop-color="#494949"/><stop offset="0.21" stop-color="#707070"/><stop offset="0.292" stop-color="#8c8c8c"/><stop offset="0.373" stop-color="#9b9b9b"/><stop offset="0.456" stop-color="#9e9e9e"/><stop offset="0.545" stop-color="#969696"/><stop offset="0.645" stop-color="#808080"/><stop offset="0.776" stop-color="#555555"/><stop offset="0.938" stop-color="#131313"/><stop offset="0.977" stop-color="#000000"/><stop offset="0.99" stop-color="#000000"/></linearGradient><linearGradient id="g114" x2="0" y2="1"><stop offset="0.009" stop-color="#000000"/><stop offset="0.019" stop-color="#000000"/><stop offset="0.021" stop-color="#060606"/><stop offset="0.129" stop-color="#4a4a4a"/><stop offset="0.21" stop-color="#727272"/><stop offset="0.289" stop-color="#8c8c8c"/><stop offset="0.37" stop-color="#9b9b9b"/><stop offset="0.454" stop-color="#9f9f9f"/><stop offset="0.542" stop-color="#979797"/><stop offset="0.643" stop-color="#808080"/><stop offset="0.776" stop-color="#545454"/><stop offset="0.953" stop-color="#0c0c0c"/><stop offset="0.977" stop-color="#000000"/><stop offset="0.99" stop-color="#000000"/></linearGradient><linearGradient id="g115" x2="0" y2="1"><stop offset="0.009" stop-color="#000000"/><stop offset="0.019" stop-color="#000000"/><stop offset="0.021" stop-color="#060606"/><stop offset="0.063" stop-color="#222222"/><stop offset="0.147" stop-color="#545454"/><stop offset="0.228" stop-color="#797979"/><stop offset="0.306" stop-color="#919191"/><stop offset="0.387" stop-color="#9e9e9e"/><stop offset="0.471" stop-color="#9f9f9f"/><stop offset="0.562" stop-color="#939393"/><stop offset="0.668" stop-color="#787878"/><stop offset="0.82" stop-color="#424242"/><stop offset="0.97" stop-color="#030303"/><stop offset="0.977" stop-color="#000000"/><stop offset="0.99" stop-color="#000000"/></linearGradient><linearGradient id="g116" x2="0" y2="1"><stop offset="0.009" stop-color="#000000"/><stop offset="0.019" stop-color="#000000"/><stop offset="0.021" stop-color="#060606"/><stop offset="0.058" stop-color="#1f1f1f"/><stop offset="0.139" stop-color="#515151"/><stop offset="0.218" stop-color="#777777"/><stop offset="0.296" stop-color="#909090"/><stop offset="0.375" stop-color="#9e9e9e"/><stop offset="0.456" stop-color="#a0a0a0"/><stop offset="0.545" stop-color="#979797"/><stop offset="0.645" stop-color="#7e7e7e"/><stop offset="0.788" stop-color="#4d4d4d"/><stop offset="0.97" stop-color="#030303"/><stop offset="0.977" stop-color="#000000"/><stop offset="0.99" stop-color="#000000"/></linearGradient><linearGradient id="g117" x2="0" y2="1"><stop offset="0.009" stop-color="#000000"/><stop offset="0.019" stop-color="#000000"/><stop offset="0.021" stop-color="#060606"/><stop offset="0.056" stop-color="#1d1d1d"/><stop offset="0.137" stop-color="#515151"/><stop offset="0.215" stop-color="#777777"/><stop offset="0.294" stop-color="#919191"/><stop offset="0.373" stop-color="#9f9f9f"/><stop offset="0.454" stop-color="#a1a1a1"/><stop offset="0.54" stop-color="#989898"/><stop offset="0.638" stop-color="#808080"/><stop offset="0.781" stop-color="#4e4e4e"/><stop offset="0.972" stop-color="#010101"/><stop offset="0.99" stop-color="#000000"/></linearGradient><linearGradient id="g118" x2="0" y2="1"><stop offset="0.009" stop-color="#000000"/><stop offset="0.019" stop-color="#000000"/><stop offset="0.021" stop-color="#060606"/><stop offset="0.053" stop-color="#1c1c1c"/><stop offset="0.134" stop-color="#505050"/><stop offset="0.213" stop-color="#777777"/><stop offset="0.289" stop-color="#919191"/><stop offset="0.368" stop-color="#a0a0a0"/><stop offset="0.449" stop-color="#a2a2a2"/><stop offset="0.535" stop-color="#999999"/><stop offset="0.633" stop-color="#818181"/><stop offset="0.776" stop-color="#4f4f4f"/><stop offset="0.977" stop-color="#000000"/><stop offset="0.99" stop-color="#000000"/></linearGradient><linearGradient id="g119" x2="0" y2="1"><stop offset="0.009" stop-color="#000000"/><stop offset="0.019" stop-color="#000000"/><stop offset="0.021" stop-color="#070707"/><stop offset="0.051" stop-color="#1b1b1b"/><stop offset="0.129" stop-color="#4e4e4e"/><stop offset="0.206" stop-color="#757575"/><stop offset="0.282" stop-color="#909090"/><stop offset="0.358" stop-color="#a0a0a0"/><stop offset="0.437" stop-color="#a4a4a4"/><stop offset="0.52" stop-color="#9c9c9c"/><stop offset="0.614" stop-color="#868686"/><stop offset="0.741" stop-color="#5a5a5a"/><stop offset="0.977" stop-color="#000000"/><stop offset="0.99" stop-color="#000000"/></linearGradient><linearGradient id="g120" x2="0" y2="1"><stop offset="0.009" stop-color="#000000"/><stop offset="0.019" stop-color="#000000"/><stop offset="0.021" stop-color="#070707"/><stop offset="0.048" stop-color="#191919"/><stop offset="0.127" stop-color="#4e4e4e"/><stop offset="0.203" stop-color="#757575"/><stop offset="0.279" stop-color="#919191"/><stop offset="0.355" stop-color="#a1a1a1"/><stop offset="0.434" stop-color="#a5a5a5"/><stop offset="0.518" stop-color="#9d9d9d"/><stop offset="0.611" stop-color="#878787"/><stop offset="0.739" stop-color="#5a5a5a"/><stop offset="0.958" stop-color="#070707"/><stop offset="0.977" stop-color="#000000"/><stop offset="0.99" stop-color="#000000"/></linearGradient><linearGradient id="g121" x2="0" y2="1"><stop offset="0.009" stop-color="#000000"/><stop offset="0.019" stop-color="#000000"/><stop offset="0.021" stop-color="#070707"/><stop offset="0.048" stop-color="#1a1a1a"/><stop offset="0.127" stop-color="#4f4f4f"/><stop offset="0.203" stop-color="#777777"/><stop offset="0.279" stop-color="#939393"/><stop offset="0.355" stop-color="#a2a2a2"/><stop offset="0.434" stop-color="#a6a6a6"/><stop offset="0.515" stop-color="#9e9e9e"/><stop offset="0.606" stop-color="#888888"/><stop offset="0.732" stop-color="#5c5c5c"/><stop offset="0.923" stop-color="#131313"/><stop offset="0.977" stop-color="#000000"/><stop offset="0.99" stop-color="#000000"/></linearGradient><linearGradient id="g122" x2="0" y2="1"><stop offset="0.009" stop-color="#000000"/><stop offset="0.019" stop-color="#000000"/><stop offset="0.021" stop-color="#070707"/><stop offset="0.046" stop-color="#181818"/><stop offset="0.122" stop-color="#4d4d4d"/><stop offset="0.198" stop-color="#767676"/><stop offset="0.272" stop-color="#929292"/><stop offset="0.346" stop-color="#a2a2a2"/><stop offset="0.422" stop-color="#a8a8a8"/><stop offset="0.503" stop-color="#a1a1a1"/><stop offset="0.591" stop-color="#8d8d8d"/><stop offset="0.707" stop-color="#646464"/><stop offset="0.901" stop-color="#191919"/><stop offset="0.977" stop-color="#000000"/><stop offset="0.99" stop-color="#000000"/></linearGradient><linearGradient id="g123" x2="0" y2="1"><stop offset="0.009" stop-color="#000000"/><stop offset="0.019" stop-color="#000000"/><stop offset="0.021" stop-color="#070707"/><stop offset="0.046" stop-color="#181818"/><stop offset="0.122" stop-color="#4e4e4e"/><stop offset="0.196" stop-color="#767676"/><stop offset="0.269" stop-color="#939393"/><stop offset="0.343" stop-color="#a4a4a4"/><stop offset="0.419" stop-color="#a9a9a9"/><stop offset="0.498" stop-color="#a2a2a2"/><stop offset="0.586" stop-color="#8e8e8e"/><stop offset="0.7" stop-color="#666666"/><stop offset="0.889" stop-color="#1b1b1b"/><stop offset="0.98" stop-color="#000000"/><stop offset="0.99" stop-color="#000000"/></linearGradient><linearGradient id="g124" x2="0" y2="1"><stop offset="0.009" stop-color="#000000"/><stop offset="0.019" stop-color="#000000"/><stop offset="0.021" stop-color="#070707"/><stop offset="0.043" stop-color="#171717"/><stop offset="0.12" stop-color="#4d4d4d"/><stop offset="0.193" stop-color="#777777"/><stop offset="0.267" stop-color="#949494"/><stop offset="0.341" stop-color="#a5a5a5"/><stop offset="0.414" stop-color="#aaaaaa"/><stop offset="0.493" stop-color="#a4a4a4"/><stop offset="0.579" stop-color="#909090"/><stop offset="0.69" stop-color="#696969"/><stop offset="0.877" stop-color="#1e1e1e"/><stop offset="0.977" stop-color="#000000"/><stop offset="0.99" stop-color="#000000"/></linearGradient><linearGradient id="g125" x2="0" y2="1"><stop offset="0.009" stop-color="#000000"/><stop offset="0.019" stop-color="#000000"/><stop offset="0.021" stop-color="#070707"/><stop offset="0.043" stop-color="#171717"/><stop offset="0.117" stop-color="#4d4d4d"/><stop offset="0.191" stop-color="#777777"/><stop offset="0.265" stop-color="#959595"/><stop offset="0.338" stop-color="#a6a6a6"/><stop offset="0.412" stop-color="#acacac"/><stop offset="0.488" stop-color="#a6a6a6"/><stop offset="0.572" stop-color="#939393"/><stop offset="0.677" stop-color="#6d6d6d"/><stop offset="0.869" stop-color="#1f1f1f"/><stop offset="0.963" stop-color="#040404"/><stop offset="0.982" stop-color="#000000"/><stop offset="0.99" stop-color="#000000"/></linearGradient><linearGradient id="g126" x2="0" y2="1"><stop offset="0.009" stop-color="#000000"/><stop offset="0.019" stop-color="#000000"/><stop offset="0.021" stop-color="#070707"/><stop offset="0.043" stop-color="#171717"/><stop offset="0.117" stop-color="#4e4e4e"/><stop offset="0.188" stop-color="#777777"/><stop offset="0.26" stop-color="#959595"/><stop offset="0.331" stop-color="#a7a7a7"/><stop offset="0.405" stop-color="#adadad"/><stop offset="0.481" stop-color="#a8a8a8"/><stop offset="0.564" stop-color="#959595"/><stop offset="0.668" stop-color="#707070"/><stop offset="0.859" stop-color="#202020"/><stop offset="0.945" stop-color="#070707"/><stop offset="0.982" stop-color="#000000"/><stop offset="0.99" stop-color="#000000"/></linearGradient><linearGradient id="g127" x2="0" y2="1"><stop offset="0.009" stop-color="#000000"/><stop offset="0.019" stop-color="#000000"/><stop offset="0.021" stop-color="#070707"/><stop offset="0.041" stop-color="#161616"/><stop offset="0.115" stop-color="#4d4d4d"/><stop offset="0.186" stop-color="#777777"/><stop offset="0.257" stop-color="#969696"/><stop offset="0.328" stop-color="#a8a8a8"/><stop offset="0.4" stop-color="#afafaf"/><stop offset="0.476" stop-color="#aaaaaa"/><stop offset="0.557" stop-color="#989898"/><stop offset="0.655" stop-color="#757575"/><stop offset="0.852" stop-color="#212121"/><stop offset="0.935" stop-color="#080808"/><stop offset="0.982" stop-color="#000000"/><stop offset="0.99" stop-color="#000000"/></linearGradient><linearGradient id="g128" x2="0" y2="1"><stop offset="0.009" stop-color="#000000"/><stop offset="0.019" stop-color="#000000"/><stop offset="0.021" stop-color="#080808"/><stop offset="0.041" stop-color="#161616"/><stop offset="0.112" stop-color="#4d4d4d"/><stop offset="0.183" stop-color="#787878"/><stop offset="0.255" stop-color="#979797"/><stop offset="0.326" stop-color="#a9a9a9"/><stop offset="0.397" stop-color="#b0b0b0"/><stop offset="0.471" stop-color="#acacac"/><stop offset="0.55" stop-color="#9b9b9b"/><stop offset="0.645" stop-color="#787878"/><stop offset="0.845" stop-color="#222222"/><stop offset="0.926" stop-color="#090909"/><stop offset="0.985" stop-color="#000000"/><stop offset="0.99" stop-color="#000000"/></linearGradient><linearGradient id="g129" x2="0" y2="1"><stop offset="0.009" stop-color="#000000"/><stop offset="0.019" stop-color="#000000"/><stop offset="0.021" stop-color="#080808"/><stop offset="0.041" stop-color="#161616"/><stop offset="0.112" stop-color="#4e4e4e"/><stop offset="0.181" stop-color="#787878"/><stop offset="0.25" stop-color="#979797"/><stop offset="0.321" stop-color="#aaaaaa"/><stop offset="0.392" stop-color="#b2b2b2"/><stop offset="0.466" stop-color="#aeaeae"/><stop offset="0.545" stop-color="#9d9d9d"/><stop offset="0.636" stop-color="#7c7c7c"/><stop offset="0.84" stop-color="#212121"/><stop offset="0.918" stop-color="#090909"/><stop offset="0.982" stop-color="#000000"/><stop offset="0.99" stop-color="#000000"/></linearGradient><linearGradient id="g130" x2="0" y2="1"><stop offset="0.009" stop-color="#000000"/><stop offset="0.019" stop-color="#000000"/><stop offset="0.021" stop-color="#080808"/><stop offset="0.038" stop-color="#151515"/><stop offset="0.107" stop-color="#4c4c4c"/><stop offset="0.176" stop-color="#777777"/><stop offset="0.245" stop-color="#979797"/><stop offset="0.314" stop-color="#ababab"/><stop offset="0.385" stop-color="#b4b4b4"/><stop offset="0.456" stop-color="#b0b0b0"/><stop offset="0.532" stop-color="#a1a1a1"/><stop offset="0.621" stop-color="#828282"/><stop offset="0.835" stop-color="#212121"/><stop offset="0.911" stop-color="#090909"/><stop offset="0.975" stop-color="#000000"/><stop offset="0.99" stop-color="#000000"/></linearGradient><linearGradient id="g131" x2="0" y2="1"><stop offset="0.009" stop-color="#000000"/><stop offset="0.019" stop-color="#000000"/><stop offset="0.021" stop-color="#080808"/><stop offset="0.038" stop-color="#151515"/><stop offset="0.107" stop-color="#4d4d4d"/><stop offset="0.176" stop-color="#797979"/><stop offset="0.245" stop-color="#999999"/><stop offset="0.314" stop-color="#adadad"/><stop offset="0.383" stop-color="#b5b5b5"/><stop offset="0.454" stop-color="#b2b2b2"/><stop offset="0.528" stop-color="#a3a3a3"/><stop offset="0.614" stop-color="#848484"/><stop offset="0.827" stop-color="#222222"/><stop offset="0.901" stop-color="#0a0a0a"/><stop offset="0.963" stop-color="#000000"/><stop offset="0.99" stop-color="#000000"/></linearGradient><linearGradient id="g132" x2="0" y2="1"><stop offset="0.009" stop-color="#000000"/><stop offset="0.019" stop-color="#000000"/><stop offset="0.021" stop-color="#080808"/><stop offset="0.038" stop-color="#151515"/><stop offset="0.107" stop-color="#4e4e4e"/><stop offset="0.176" stop-color="#7a7a7a"/><stop offset="0.245" stop-color="#9a9a9a"/><stop offset="0.314" stop-color="#afafaf"/><stop offset="0.383" stop-color="#b7b7b7"/><stop offset="0.454" stop-color="#b4b4b4"/><stop offset="0.528" stop-color="#a4a4a4"/><stop offset="0.611" stop-color="#858585"/><stop offset="0.82" stop-color="#222222"/><stop offset="0.891" stop-color="#0a0a0a"/><stop offset="0.95" stop-color="#010101"/><stop offset="0.99" stop-color="#000000"/></linearGradient><linearGradient id="g133" x2="0" y2="1"><stop offset="0.009" stop-color="#000000"/><stop offset="0.019" stop-color="#000000"/><stop offset="0.021" stop-color="#080808"/><stop offset="0.038" stop-color="#161616"/><stop offset="0.105" stop-color="#4d4d4d"/><stop offset="0.171" stop-color="#797979"/><stop offset="0.238" stop-color="#999999"/><stop offset="0.306" stop-color="#afafaf"/><stop offset="0.375" stop-color="#b9b9b9"/><stop offset="0.444" stop-color="#b6b6b6"/><stop offset="0.515" stop-color="#a8a8a8"/><stop offset="0.596" stop-color="#8b8b8b"/><stop offset="0.727" stop-color="#4b4b4b"/><stop offset="0.827" stop-color="#1c1c1c"/><stop offset="0.894" stop-color="#070707"/><stop offset="0.95" stop-color="#000000"/><stop offset="0.99" stop-color="#000000"/></linearGradient><linearGradient id="g134" x2="0" y2="1"><stop offset="0.009" stop-color="#000000"/><stop offset="0.019" stop-color="#000000"/><stop offset="0.021" stop-color="#080808"/><stop offset="0.036" stop-color="#141414"/><stop offset="0.102" stop-color="#4c4c4c"/><stop offset="0.169" stop-color="#797979"/><stop offset="0.235" stop-color="#9a9a9a"/><stop offset="0.301" stop-color="#b0b0b0"/><stop offset="0.37" stop-color="#bababa"/><stop offset="0.439" stop-color="#b9b9b9"/><stop offset="0.51" stop-color="#ababab"/><stop offset="0.589" stop-color="#8e8e8e"/><stop offset="0.702" stop-color="#565656"/><stop offset="0.81" stop-color="#202020"/><stop offset="0.879" stop-color="#080808"/><stop offset="0.928" stop-color="#000000"/><stop offset="0.99" stop-color="#000000"/></linearGradient><linearGradient id="g135" x2="0" y2="1"><stop offset="0.009" stop-color="#000000"/><stop offset="0.019" stop-color="#000000"/><stop offset="0.021" stop-color="#080808"/><stop offset="0.036" stop-color="#141414"/><stop offset="0.102" stop-color="#4d4d4d"/><stop offset="0.169" stop-color="#7b7b7b"/><stop offset="0.235" stop-color="#9c9c9c"/><stop offset="0.301" stop-color="#b2b2b2"/><stop offset="0.368" stop-color="#bcbcbc"/><stop offset="0.437" stop-color="#bababa"/><stop offset="0.505" stop-color="#adadad"/><stop offset="0.582" stop-color="#929292"/><stop offset="0.685" stop-color="#5e5e5e"/><stop offset="0.8" stop-color="#212121"/><stop offset="0.869" stop-color="#070707"/><stop offset="0.906" stop-color="#000000"/><stop offset="0.99" stop-color="#000000"/></linearGradient><linearGradient id="g136" x2="0" y2="1"><stop offset="0.009" stop-color="#000000"/><stop offset="0.019" stop-color="#000000"/><stop offset="0.021" stop-color="#090909"/><stop offset="0.036" stop-color="#141414"/><stop offset="0.1" stop-color="#4d4d4d"/><stop offset="0.164" stop-color="#797979"/><stop offset="0.23" stop-color="#9c9c9c"/><stop offset="0.296" stop-color="#b3b3b3"/><stop offset="0.363" stop-color="#bebebe"/><stop offset="0.429" stop-color="#bdbdbd"/><stop offset="0.498" stop-color="#b0b0b0"/><stop offset="0.572" stop-color="#969696"/><stop offset="0.665" stop-color="#676767"/><stop offset="0.79" stop-color="#222222"/><stop offset="0.862" stop-color="#050505"/><stop offset="0.891" stop-color="#000000"/><stop offset="0.99" stop-color="#000000"/></linearGradient><linearGradient id="g137" x2="0" y2="1"><stop offset="0.009" stop-color="#000000"/><stop offset="0.019" stop-color="#000000"/><stop offset="0.021" stop-color="#090909"/><stop offset="0.036" stop-color="#151515"/><stop offset="0.1" stop-color="#4e4e4e"/><stop offset="0.164" stop-color="#7b7b7b"/><stop offset="0.228" stop-color="#9d9d9d"/><stop offset="0.294" stop-color="#b4b4b4"/><stop offset="0.36" stop-color="#bfbfbf"/><stop offset="0.427" stop-color="#bfbfbf"/><stop offset="0.493" stop-color="#b3b3b3"/><stop offset="0.564" stop-color="#999999"/><stop offset="0.65" stop-color="#6d6d6d"/><stop offset="0.786" stop-color="#202020"/><stop offset="0.859" stop-color="#010101"/><stop offset="0.99" stop-color="#000000"/></linearGradient><linearGradient id="g138" x2="0" y2="1"><stop offset="0.009" stop-color="#000000"/><stop offset="0.019" stop-color="#000000"/><stop offset="0.021" stop-color="#090909"/><stop offset="0.036" stop-color="#151515"/><stop offset="0.1" stop-color="#4f4f4f"/><stop offset="0.164" stop-color="#7c7c7c"/><stop offset="0.228" stop-color="#9f9f9f"/><stop offset="0.294" stop-color="#b6b6b6"/><stop offset="0.36" stop-color="#c1c1c1"/><stop offset="0.427" stop-color="#c1c1c1"/><stop offset="0.493" stop-color="#b4b4b4"/><stop offset="0.562" stop-color="#9b9b9b"/><stop offset="0.645" stop-color="#6f6f6f"/><stop offset="0.783" stop-color="#1c1c1c"/><stop offset="0.847" stop-color="#000000"/><stop offset="0.99" stop-color="#000000"/></linearGradient><linearGradient id="g139" x2="0" y2="1"><stop offset="0.009" stop-color="#000000"/><stop offset="0.019" stop-color="#000000"/><stop offset="0.021" stop-color="#090909"/><stop offset="0.034" stop-color="#131313"/><stop offset="0.095" stop-color="#4c4c4c"/><stop offset="0.159" stop-color="#7b7b7b"/><stop offset="0.223" stop-color="#9e9e9e"/><stop offset="0.287" stop-color="#b6b6b6"/><stop offset="0.351" stop-color="#c2c2c2"/><stop offset="0.414" stop-color="#c3c3c3"/><stop offset="0.481" stop-color="#b8b8b8"/><stop offset="0.547" stop-color="#a1a1a1"/><stop offset="0.623" stop-color="#7a7a7a"/><stop offset="0.781" stop-color="#181818"/><stop offset="0.832" stop-color="#000000"/><stop offset="0.99" stop-color="#000000"/></linearGradient><linearGradient id="g140" x2="0" y2="1"><stop offset="0.009" stop-color="#000000"/><stop offset="0.019" stop-color="#000000"/><stop offset="0.021" stop-color="#090909"/><stop offset="0.034" stop-color="#131313"/><stop offset="0.095" stop-color="#4d4d4d"/><stop offset="0.159" stop-color="#7c7c7c"/><stop offset="0.223" stop-color="#a0a0a0"/><stop offset="0.287" stop-color="#b8b8b8"/><stop offset="0.351" stop-color="#c4c4c4"/><stop offset="0.414" stop-color="#c5c5c5"/><stop offset="0.478" stop-color="#bababa"/><stop offset="0.545" stop-color="#a3a3a3"/><stop offset="0.616" stop-color="#7d7d7d"/><stop offset="0.778" stop-color="#141414"/><stop offset="0.815" stop-color="#010101"/><stop offset="0.99" stop-color="#000000"/></linearGradient><linearGradient id="g141" x2="0" y2="1"><stop offset="0.009" stop-color="#000000"/><stop offset="0.019" stop-color="#000000"/><stop offset="0.021" stop-color="#090909"/><stop offset="0.034" stop-color="#131313"/><stop offset="0.095" stop-color="#4e4e4e"/><stop offset="0.156" stop-color="#7c7c7c"/><stop offset="0.22" stop-color="#a1a1a1"/><stop offset="0.284" stop-color="#b9b9b9"/><stop offset="0.348" stop-color="#c6c6c6"/><stop offset="0.412" stop-color="#c7c7c7"/><stop offset="0.476" stop-color="#bcbcbc"/><stop offset="0.54" stop-color="#a5a5a5"/><stop offset="0.609" stop-color="#808080"/><stop offset="0.729" stop-color="#2d2d2d"/><stop offset="0.798" stop-color="#020202"/><stop offset="0.99" stop-color="#000000"/></linearGradient><linearGradient id="g142" x2="0" y2="1"><stop offset="0.009" stop-color="#000000"/><stop offset="0.019" stop-color="#000000"/><stop offset="0.021" stop-color="#090909"/><stop offset="0.034" stop-color="#131313"/><stop offset="0.093" stop-color="#4c4c4c"/><stop offset="0.154" stop-color="#7c7c7c"/><stop offset="0.218" stop-color="#a1a1a1"/><stop offset="0.282" stop-color="#bababa"/><stop offset="0.346" stop-color="#c8c8c8"/><stop offset="0.407" stop-color="#c9c9c9"/><stop offset="0.469" stop-color="#bfbfbf"/><stop offset="0.532" stop-color="#a9a9a9"/><stop offset="0.599" stop-color="#858585"/><stop offset="0.685" stop-color="#484848"/><stop offset="0.781" stop-color="#020202"/><stop offset="0.8" stop-color="#000000"/><stop offset="0.99" stop-color="#000000"/></linearGradient><linearGradient id="g143" x2="0" y2="1"><stop offset="0.009" stop-color="#000000"/><stop offset="0.019" stop-color="#000000"/><stop offset="0.021" stop-color="#090909"/><stop offset="0.034" stop-color="#141414"/><stop offset="0.093" stop-color="#4d4d4d"/><stop offset="0.154" stop-color="#7d7d7d"/><stop offset="0.215" stop-color="#a2a2a2"/><stop offset="0.279" stop-color="#bbbbbb"/><stop offset="0.343" stop-color="#c9c9c9"/><stop offset="0.405" stop-color="#cbcbcb"/><stop offset="0.466" stop-color="#c1c1c1"/><stop offset="0.528" stop-color="#ababab"/><stop offset="0.591" stop-color="#898989"/><stop offset="0.668" stop-color="#515151"/><stop offset="0.768" stop-color="#020202"/><stop offset="0.8" stop-color="#000000"/><stop offset="0.99" stop-color="#000000"/></linearGradient><linearGradient id="g144" x2="0" y2="1"><stop offset="0.009" stop-color="#000000"/><stop offset="0.019" stop-color="#000000"/><stop offset="0.021" stop-color="#0a0a0a"/><stop offset="0.034" stop-color="#141414"/><stop offset="0.093" stop-color="#4e4e4e"/><stop offset="0.154" stop-color="#7f7f7f"/><stop offset="0.215" stop-color="#a3a3a3"/><stop offset="0.279" stop-color="#bdbdbd"/><stop offset="0.341" stop-color="#cbcbcb"/><stop offset="0.402" stop-color="#cdcdcd"/><stop offset="0.464" stop-color="#c3c3c3"/><stop offset="0.523" stop-color="#aeaeae"/><stop offset="0.584" stop-color="#8c8c8c"/><stop offset="0.65" stop-color="#5b5b5b"/><stop offset="0.746" stop-color="#090909"/><stop offset="0.754" stop-color="#020202"/><stop offset="0.771" stop-color="#000000"/><stop offset="0.99" stop-color="#000000"/></linearGradient><linearGradient id="g145" x2="0" y2="1"><stop offset="0.009" stop-color="#000000"/><stop offset="0.019" stop-color="#000000"/><stop offset="0.021" stop-color="#0a0a0a"/><stop offset="0.034" stop-color="#141414"/><stop offset="0.093" stop-color="#4f4f4f"/><stop offset="0.154" stop-color="#808080"/><stop offset="0.215" stop-color="#a5a5a5"/><stop offset="0.277" stop-color="#bebebe"/><stop offset="0.338" stop-color="#cccccc"/><stop offset="0.4" stop-color="#cecece"/><stop offset="0.461" stop-color="#c4c4c4"/><stop offset="0.52" stop-color="#afafaf"/><stop offset="0.579" stop-color="#8e8e8e"/><stop offset="0.641" stop-color="#606060"/><stop offset="0.739" stop-color="#050505"/><stop offset="0.744" stop-color="#000000"/><stop offset="0.99" stop-color="#000000"/></linearGradient><linearGradient id="g146" x2="0" y2="1"><stop offset="0.009" stop-color="#000000"/><stop offset="0.019" stop-color="#000000"/><stop offset="0.021" stop-color="#0a0a0a"/><stop offset="0.034" stop-color="#141414"/><stop offset="0.09" stop-color="#4d4d4d"/><stop offset="0.149" stop-color="#7d7d7d"/><stop offset="0.21" stop-color="#a4a4a4"/><stop offset="0.272" stop-color="#bebebe"/><stop offset="0.333" stop-color="#cdcdcd"/><stop offset="0.395" stop-color="#d0d0d0"/><stop offset="0.454" stop-color="#c7c7c7"/><stop offset="0.513" stop-color="#b3b3b3"/><stop offset="0.569" stop-color="#949494"/><stop offset="0.626" stop-color="#696969"/><stop offset="0.702" stop-color="#212121"/><stop offset="0.732" stop-color="#020202"/><stop offset="0.746" stop-color="#000000"/><stop offset="0.99" stop-color="#000000"/></linearGradient><linearGradient id="g147" x2="0" y2="1"><stop offset="0.009" stop-color="#000000"/><stop offset="0.019" stop-color="#000000"/><stop offset="0.021" stop-color="#0a0a0a"/><stop offset="0.034" stop-color="#151515"/><stop offset="0.09" stop-color="#4e4e4e"/><stop offset="0.149" stop-color="#7f7f7f"/><stop offset="0.21" stop-color="#a5a5a5"/><stop offset="0.272" stop-color="#bfbfbf"/><stop offset="0.333" stop-color="#cecece"/><stop offset="0.395" stop-color="#d1d1d1"/><stop offset="0.454" stop-color="#c9c9c9"/><stop offset="0.51" stop-color="#b5b5b5"/><stop offset="0.564" stop-color="#969696"/><stop offset="0.618" stop-color="#6c6c6c"/><stop offset="0.68" stop-color="#303030"/><stop offset="0.722" stop-color="#030303"/><stop offset="0.739" stop-color="#000000"/><stop offset="0.99" stop-color="#000000"/></linearGradient><linearGradient id="g148" x2="0" y2="1"><stop offset="0.009" stop-color="#000000"/><stop offset="0.019" stop-color="#000000"/><stop offset="0.021" stop-color="#0a0a0a"/><stop offset="0.034" stop-color="#151515"/><stop offset="0.09" stop-color="#4f4f4f"/><stop offset="0.149" stop-color="#808080"/><stop offset="0.21" stop-color="#a6a6a6"/><stop offset="0.272" stop-color="#c1c1c1"/><stop offset="0.333" stop-color="#d0d0d0"/><stop offset="0.392" stop-color="#d3d3d3"/><stop offset="0.451" stop-color="#cacaca"/><stop offset="0.508" stop-color="#b6b6b6"/><stop offset="0.559" stop-color="#999999"/><stop offset="0.611" stop-color="#707070"/><stop offset="0.665" stop-color="#393939"/><stop offset="0.714" stop-color="#000000"/><stop offset="0.99" stop-color="#000000"/></linearGradient><linearGradient id="g149" x2="0" y2="1"><stop offset="0.009" stop-color="#000000"/><stop offset="0.019" stop-color="#000000"/><stop offset="0.021" stop-color="#0a0a0a"/><stop offset="0.034" stop-color="#151515"/><stop offset="0.09" stop-color="#505050"/><stop offset="0.149" stop-color="#818181"/><stop offset="0.21" stop-color="#a7a7a7"/><stop offset="0.272" stop-color="#c2c2c2"/><stop offset="0.333" stop-color="#d1d1d1"/><stop offset="0.392" stop-color="#d4d4d4"/><stop offset="0.449" stop-color="#cccccc"/><stop offset="0.503" stop-color="#b9b9b9"/><stop offset="0.555" stop-color="#9c9c9c"/><stop offset="0.604" stop-color="#747474"/><stop offset="0.653" stop-color="#414141"/><stop offset="0.692" stop-color="#101010"/><stop offset="0.7" stop-color="#040404"/><stop offset="0.709" stop-color="#000000"/><stop offset="0.99" stop-color="#000000"/></linearGradient><linearGradient id="g150" x2="0" y2="1"><stop offset="0.009" stop-color="#000000"/><stop offset="0.019" stop-color="#000000"/><stop offset="0.021" stop-color="#0a0a0a"/><stop offset="0.034" stop-color="#151515"/><stop offset="0.09" stop-color="#505050"/><stop offset="0.149" stop-color="#818181"/><stop offset="0.208" stop-color="#a7a7a7"/><stop offset="0.269" stop-color="#c3c3c3"/><stop offset="0.331" stop-color="#d2d2d2"/><stop offset="0.39" stop-color="#d5d5d5"/><stop offset="0.446" stop-color="#cdcdcd"/><stop offset="0.5" stop-color="#bababa"/><stop offset="0.55" stop-color="#9e9e9e"/><stop offset="0.596" stop-color="#797979"/><stop offset="0.641" stop-color="#4a4a4a"/><stop offset="0.682" stop-color="#151515"/><stop offset="0.692" stop-color="#040404"/><stop offset="0.704" stop-color="#000000"/><stop offset="0.99" stop-color="#000000"/></linearGradient><linearGradient id="g151" x2="0" y2="1"><stop offset="0.009" stop-color="#000000"/><stop offset="0.019" stop-color="#000000"/><stop offset="0.021" stop-color="#0a0a0a"/><stop offset="0.031" stop-color="#121212"/><stop offset="0.088" stop-color="#4e4e4e"/><stop offset="0.147" stop-color="#808080"/><stop offset="0.206" stop-color="#a7a7a7"/><stop offset="0.267" stop-color="#c3c3c3"/><stop offset="0.328" stop-color="#d3d3d3"/><stop offset="0.387" stop-color="#d6d6d6"/><stop offset="0.444" stop-color="#cfcfcf"/><stop offset="0.498" stop-color="#bcbcbc"/><stop offset="0.547" stop-color="#a0a0a0"/><stop offset="0.591" stop-color="#7c7c7c"/><stop offset="0.633" stop-color="#4f4f4f"/><stop offset="0.675" stop-color="#161616"/><stop offset="0.685" stop-color="#040404"/><stop offset="0.695" stop-color="#000000"/><stop offset="0.99" stop-color="#000000"/></linearGradient><linearGradient id="g152" x2="0" y2="1"><stop offset="0.009" stop-color="#000000"/><stop offset="0.019" stop-color="#000000"/><stop offset="0.021" stop-color="#0a0a0a"/><stop offset="0.031" stop-color="#131313"/><stop offset="0.085" stop-color="#4c4c4c"/><stop offset="0.142" stop-color="#7d7d7d"/><stop offset="0.201" stop-color="#a5a5a5"/><stop offset="0.262" stop-color="#c2c2c2"/><stop offset="0.324" stop-color="#d3d3d3"/><stop offset="0.383" stop-color="#d7d7d7"/><stop offset="0.439" stop-color="#d1d1d1"/><stop offset="0.493" stop-color="#bebebe"/><stop offset="0.542" stop-color="#a3a3a3"/><stop offset="0.586" stop-color="#7e7e7e"/><stop offset="0.626" stop-color="#545454"/><stop offset="0.663" stop-color="#202020"/><stop offset="0.682" stop-color="#020202"/><stop offset="0.692" stop-color="#000000"/><stop offset="0.99" stop-color="#000000"/></linearGradient><linearGradient id="g153" x2="0" y2="1"><stop offset="0.009" stop-color="#000000"/><stop offset="0.019" stop-color="#000000"/><stop offset="0.021" stop-color="#0a0a0a"/><stop offset="0.031" stop-color="#131313"/><stop offset="0.085" stop-color="#4d4d4d"/><stop offset="0.142" stop-color="#7e7e7e"/><stop offset="0.201" stop-color="#a6a6a6"/><stop offset="0.262" stop-color="#c3c3c3"/><stop offset="0.321" stop-color="#d3d3d3"/><stop offset="0.38" stop-color="#d8d8d8"/><stop offset="0.437" stop-color="#d2d2d2"/><stop offset="0.491" stop-color="#c0c0c0"/><stop offset="0.54" stop-color="#a4a4a4"/><stop offset="0.582" stop-color="#828282"/><stop offset="0.618" stop-color="#5a5a5a"/><stop offset="0.653" stop-color="#292929"/><stop offset="0.673" stop-color="#070707"/><stop offset="0.677" stop-color="#000000"/><stop offset="0.99" stop-color="#000000"/></linearGradient><linearGradient id="g154" x2="0" y2="1"><stop offset="0.009" stop-color="#000000"/><stop offset="0.019" stop-color="#000000"/><stop offset="0.021" stop-color="#0a0a0a"/><stop offset="0.031" stop-color="#131313"/><stop offset="0.085" stop-color="#4d4d4d"/><stop offset="0.142" stop-color="#7e7e7e"/><stop offset="0.201" stop-color="#a6a6a6"/><stop offset="0.26" stop-color="#c3c3c3"/><stop offset="0.319" stop-color="#d4d4d4"/><stop offset="0.378" stop-color="#d9d9d9"/><stop offset="0.434" stop-color="#d3d3d3"/><stop offset="0.486" stop-color="#c2c2c2"/><stop offset="0.535" stop-color="#a7a7a7"/><stop offset="0.577" stop-color="#858585"/><stop offset="0.614" stop-color="#5d5d5d"/><stop offset="0.645" stop-color="#303030"/><stop offset="0.663" stop-color="#111111"/><stop offset="0.668" stop-color="#030303"/><stop offset="0.673" stop-color="#000000"/><stop offset="0.99" stop-color="#000000"/></linearGradient><linearGradient id="g155" x2="0" y2="1"><stop offset="0.009" stop-color="#000000"/><stop offset="0.019" stop-color="#000000"/><stop offset="0.021" stop-color="#0a0a0a"/><stop offset="0.031" stop-color="#131313"/><stop offset="0.085" stop-color="#4d4d4d"/><stop offset="0.142" stop-color="#7f7f7f"/><stop offset="0.201" stop-color="#a7a7a7"/><stop offset="0.26" stop-color="#c3c3c3"/><stop offset="0.319" stop-color="#d4d4d4"/><stop offset="0.378" stop-color="#dadada"/><stop offset="0.434" stop-color="#d3d3d3"/><stop offset="0.486" stop-color="#c2c2c2"/><stop offset="0.532" stop-color="#a8a8a8"/><stop offset="0.574" stop-color="#868686"/><stop offset="0.611" stop-color="#5e5e5e"/><stop offset="0.641" stop-color="#333333"/><stop offset="0.668" stop-color="#020202"/><stop offset="0.677" stop-color="#000000"/><stop offset="0.99" stop-color="#000000"/></linearGradient><linearGradient id="g156" x2="0" y2="1"><stop offset="0.009" stop-color="#000000"/><stop offset="0.019" stop-color="#000000"/><stop offset="0.021" stop-color="#0a0a0a"/><stop offset="0.031" stop-color="#131313"/><stop offset="0.085" stop-color="#4e4e4e"/><stop offset="0.142" stop-color="#7f7f7f"/><stop offset="0.201" stop-color="#a7a7a7"/><stop offset="0.26" stop-color="#c4c4c4"/><stop offset="0.319" stop-color="#d5d5d5"/><stop offset="0.378" stop-color="#dadada"/><stop offset="0.434" stop-color="#d4d4d4"/><stop offset="0.486" stop-color="#c3c3c3"/><stop offset="0.532" stop-color="#a8a8a8"/><stop offset="0.574" stop-color="#868686"/><stop offset="0.609" stop-color="#5f5f5f"/><stop offset="0.638" stop-color="#353535"/><stop offset="0.653" stop-color="#1b1b1b"/><stop offset="0.66" stop-color="#030303"/><stop offset="0.663" stop-color="#000000"/><stop offset="0.99" stop-color="#000000"/></linearGradient><linearGradient id="g157" x2="0" y2="1"><stop offset="0.009" stop-color="#000000"/><stop offset="0.019" stop-color="#000000"/><stop offset="0.021" stop-color="#0a0a0a"/><stop offset="0.031" stop-color="#131313"/><stop offset="0.085" stop-color="#4e4e4e"/><stop offset="0.142" stop-color="#7f7f7f"/><stop offset="0.201" stop-color="#a7a7a7"/><stop offset="0.26" stop-color="#c4c4c4"/><stop offset="0.319" stop-color="#d5d5d5"/><stop offset="0.378" stop-color="#dadada"/><stop offset="0.434" stop-color="#d4d4d4"/><stop offset="0.486" stop-color="#c3c3c3"/><stop offset="0.532" stop-color="#a8a8a8"/><stop offset="0.574" stop-color="#858585"/><stop offset="0.609" stop-color="#5e5e5e"/><stop offset="0.638" stop-color="#323232"/><stop offset="0.653" stop-color="#181818"/><stop offset="0.66" stop-color="#030303"/><stop offset="0.665" stop-color="#000000"/><stop offset="0.99" stop-color="#000000"/></linearGradient><linearGradient id="g158" x2="0" y2="1"><stop offset="0.009" stop-color="#000000"/><stop offset="0.019" stop-color="#000000"/><stop offset="0.021" stop-color="#0a0a0a"/><stop offset="0.031" stop-color="#131313"/><stop offset="0.085" stop-color="#4e4e4e"/><stop offset="0.142" stop-color="#808080"/><stop offset="0.201" stop-color="#a8a8a8"/><stop offset="0.26" stop-color="#c4c4c4"/><stop offset="0.319" stop-color="#d5d5d5"/><stop offset="0.378" stop-color="#dbdbdb"/><stop offset="0.434" stop-color="#d4d4d4"/><stop offset="0.486" stop-color="#c3c3c3"/><stop offset="0.532" stop-color="#a8a8a8"/><stop offset="0.572" stop-color="#878787"/><stop offset="0.606" stop-color="#606060"/><stop offset="0.636" stop-color="#353535"/><stop offset="0.655" stop-color="#101010"/><stop offset="0.66" stop-color="#030303"/><stop offset="0.665" stop-color="#000000"/><stop offset="0.99" stop-color="#000000"/></linearGradient><linearGradient id="g159" x2="0" y2="1"><stop offset="0.009" stop-color="#000000"/><stop offset="0.019" stop-color="#000000"/><stop offset="0.021" stop-color="#0a0a0a"/><stop offset="0.031" stop-color="#131313"/><stop offset="0.085" stop-color="#4e4e4e"/><stop offset="0.142" stop-color="#808080"/><stop offset="0.201" stop-color="#a8a8a8"/><stop offset="0.26" stop-color="#c4c4c4"/><stop offset="0.319" stop-color="#d5d5d5"/><stop offset="0.378" stop-color="#dbdbdb"/><stop offset="0.434" stop-color="#d4d4d4"/><stop offset="0.486" stop-color="#c3c3c3"/><stop offset="0.532" stop-color="#a8a8a8"/><stop offset="0.572" stop-color="#878787"/><stop offset="0.606" stop-color="#606060"/><stop offset="0.636" stop-color="#343434"/><stop offset="0.655" stop-color="#101010"/><stop offset="0.66" stop-color="#030303"/><stop offset="0.665" stop-color="#000000"/><stop offset="0.99" stop-color="#000000"/></linearGradient><linearGradient id="g160" x2="0" y2="1"><stop offset="0.009" stop-color="#000000"/><stop offset="0.019" stop-color="#000000"/><stop offset="0.021" stop-color="#0a0a0a"/><stop offset="0.031" stop-color="#131313"/><stop offset="0.085" stop-color="#4e4e4e"/><stop offset="0.142" stop-color="#808080"/><stop offset="0.201" stop-color="#a8a8a8"/><stop offset="0.26" stop-color="#c4c4c4"/><stop offset="0.319" stop-color="#d5d5d5"/><stop offset="0.378" stop-color="#dadada"/><stop offset="0.434" stop-color="#d4d4d4"/><stop offset="0.486" stop-color="#c3c3c3"/><stop offset="0.532" stop-color="#a8a8a8"/><stop offset="0.574" stop-color="#858585"/><stop offset="0.609" stop-color="#5d5d5d"/><stop offset="0.638" stop-color="#313131"/><stop offset="0.653" stop-color="#171717"/><stop offset="0.66" stop-color="#030303"/><stop offset="0.665" stop-color="#000000"/><stop offset="0.99" stop-color="#000000"/></linearGradient><linearGradient id="g161" x2="0" y2="1"><stop offset="0.009" stop-color="#000000"/><stop offset="0.019" stop-color="#000000"/><stop offset="0.021" stop-color="#0a0a0a"/><stop offset="0.031" stop-color="#131313"/><stop offset="0.085" stop-color="#4e4e4e"/><stop offset="0.142" stop-color="#7f7f7f"/><stop offset="0.201" stop-color="#a7a7a7"/><stop offset="0.26" stop-color="#c4c4c4"/><stop offset="0.319" stop-color="#d5d5d5"/><stop offset="0.378" stop-color="#dadada"/><stop offset="0.434" stop-color="#d4d4d4"/><stop offset="0.486" stop-color="#c2c2c2"/><stop offset="0.532" stop-color="#a8a8a8"/><stop offset="0.574" stop-color="#858585"/><stop offset="0.609" stop-color="#5f5f5f"/><stop offset="0.638" stop-color="#343434"/><stop offset="0.653" stop-color="#191919"/><stop offset="0.66" stop-color="#030303"/><stop offset="0.665" stop-color="#000000"/><stop offset="0.99" stop-color="#000000"/></linearGradient><linearGradient id="g162" x2="0" y2="1"><stop offset="0.009" stop-color="#000000"/><stop offset="0.019" stop-color="#000000"/><stop offset="0.021" stop-color="#0a0a0a"/><stop offset="0.031" stop-color="#131313"/><stop offset="0.085" stop-color="#4e4e4e"/><stop offset="0.142" stop-color="#7f7f7f"/><stop offset="0.201" stop-color="#a7a7a7"/><stop offset="0.26" stop-color="#c3c3c3"/><stop offset="0.319" stop-color="#d4d4d4"/><stop offset="0.378" stop-color="#dadada"/><stop offset="0.434" stop-color="#d3d3d3"/><stop offset="0.486" stop-color="#c2c2c2"/><stop offset="0.532" stop-color="#a8a8a8"/><stop offset="0.574" stop-color="#868686"/><stop offset="0.611" stop-color="#5d5d5d"/><stop offset="0.641" stop-color="#333333"/><stop offset="0.655" stop-color="#181818"/><stop offset="0.663" stop-color="#070707"/><stop offset="0.67" stop-color="#000000"/><stop offset="0.99" stop-color="#000000"/></linearGradient><linearGradient id="g163" x2="0" y2="1"><stop offset="0.009" stop-color="#000000"/><stop offset="0.019" stop-color="#000000"/><stop offset="0.021" stop-color="#0a0a0a"/><stop offset="0.031" stop-color="#131313"/><stop offset="0.085" stop-color="#4d4d4d"/><stop offset="0.142" stop-color="#7f7f7f"/><stop offset="0.201" stop-color="#a6a6a6"/><stop offset="0.26" stop-color="#c3c3c3"/><stop offset="0.319" stop-color="#d4d4d4"/><stop offset="0.378" stop-color="#d9d9d9"/><stop offset="0.434" stop-color="#d3d3d3"/><stop offset="0.486" stop-color="#c2c2c2"/><stop offset="0.532" stop-color="#a8a8a8"/><stop offset="0.574" stop-color="#878787"/><stop offset="0.611" stop-color="#5f5f5f"/><stop offset="0.643" stop-color="#323232"/><stop offset="0.663" stop-color="#101010"/><stop offset="0.668" stop-color="#030303"/><stop offset="0.673" stop-color="#000000"/><stop offset="0.99" stop-color="#000000"/></linearGradient><linearGradient id="g164" x2="0" y2="1"><stop offset="0.009" stop-color="#000000"/><stop offset="0.019" stop-color="#000000"/><stop offset="0.021" stop-color="#0a0a0a"/><stop offset="0.031" stop-color="#131313"/><stop offset="0.085" stop-color="#4d4d4d"/><stop offset="0.142" stop-color="#7e7e7e"/><stop offset="0.201" stop-color="#a6a6a6"/><stop offset="0.26" stop-color="#c2c2c2"/><stop offset="0.319" stop-color="#d3d3d3"/><stop offset="0.378" stop-color="#d9d9d9"/><stop offset="0.434" stop-color="#d2d2d2"/><stop offset="0.486" stop-color="#c2c2c2"/><stop offset="0.535" stop-color="#a7a7a7"/><stop offset="0.579" stop-color="#838383"/><stop offset="0.618" stop-color="#585858"/><stop offset="0.653" stop-color="#282828"/><stop offset="0.675" stop-color="#020202"/><stop offset="0.682" stop-color="#000000"/><stop offset="0.99" stop-color="#000000"/></linearGradient><linearGradient id="g165" x2="0" y2="1"><stop offset="0.009" stop-color="#000000"/><stop offset="0.019" stop-color="#000000"/><stop offset="0.021" stop-color="#0a0a0a"/><stop offset="0.031" stop-color="#131313"/><stop offset="0.085" stop-color="#4d4d4d"/><stop offset="0.142" stop-color="#7e7e7e"/><stop offset="0.201" stop-color="#a5a5a5"/><stop offset="0.262" stop-color="#c2c2c2"/><stop offset="0.324" stop-color="#d3d3d3"/><stop offset="0.383" stop-color="#d8d8d8"/><stop offset="0.439" stop-color="#d1d1d1"/><stop offset="0.493" stop-color="#bebebe"/><stop offset="0.542" stop-color="#a2a2a2"/><stop offset="0.586" stop-color="#7e7e7e"/><stop offset="0.626" stop-color="#525252"/><stop offset="0.668" stop-color="#181818"/><stop offset="0.677" stop-color="#060606"/><stop offset="0.685" stop-color="#000000"/><stop offset="0.99" stop-color="#000000"/></linearGradient><linearGradient id="g166" x2="0" y2="1"><stop offset="0.009" stop-color="#000000"/><stop offset="0.019" stop-color="#000000"/><stop offset="0.021" stop-color="#0a0a0a"/><stop offset="0.031" stop-color="#121212"/><stop offset="0.088" stop-color="#4f4f4f"/><stop offset="0.147" stop-color="#818181"/><stop offset="0.206" stop-color="#a7a7a7"/><stop offset="0.267" stop-color="#c3c3c3"/><stop offset="0.328" stop-color="#d3d3d3"/><stop offset="0.387" stop-color="#d7d7d7"/><stop offset="0.444" stop-color="#cfcfcf"/><stop offset="0.498" stop-color="#bcbcbc"/><stop offset="0.547" stop-color="#9f9f9f"/><stop offset="0.591" stop-color="#7a7a7a"/><stop offset="0.633" stop-color="#4d4d4d"/><stop offset="0.677" stop-color="#101010"/><stop offset="0.685" stop-color="#050505"/><stop offset="0.695" stop-color="#000000"/><stop offset="0.99" stop-color="#000000"/></linearGradient><linearGradient id="g167" x2="0" y2="1"><stop offset="0.009" stop-color="#000000"/><stop offset="0.019" stop-color="#000000"/><stop offset="0.021" stop-color="#0a0a0a"/><stop offset="0.031" stop-color="#121212"/><stop offset="0.088" stop-color="#4e4e4e"/><stop offset="0.147" stop-color="#808080"/><stop offset="0.206" stop-color="#a6a6a6"/><stop offset="0.267" stop-color="#c2c2c2"/><stop offset="0.328" stop-color="#d2d2d2"/><stop offset="0.387" stop-color="#d6d6d6"/><stop offset="0.444" stop-color="#cecece"/><stop offset="0.498" stop-color="#bbbbbb"/><stop offset="0.55" stop-color="#9e9e9e"/><stop offset="0.596" stop-color="#787878"/><stop offset="0.641" stop-color="#484848"/><stop offset="0.682" stop-color="#121212"/><stop offset="0.69" stop-color="#030303"/><stop offset="0.695" stop-color="#000000"/><stop offset="0.99" stop-color="#000000"/></linearGradient><linearGradient id="g168" x2="0" y2="1"><stop offset="0.009" stop-color="#000000"/><stop offset="0.019" stop-color="#000000"/><stop offset="0.021" stop-color="#0a0a0a"/><stop offset="0.034" stop-color="#151515"/><stop offset="0.09" stop-color="#505050"/><stop offset="0.149" stop-color="#818181"/><stop offset="0.208" stop-color="#a7a7a7"/><stop offset="0.269" stop-color="#c2c2c2"/><stop offset="0.331" stop-color="#d1d1d1"/><stop offset="0.39" stop-color="#d5d5d5"/><stop offset="0.446" stop-color="#cdcdcd"/><stop offset="0.5" stop-color="#bababa"/><stop offset="0.552" stop-color="#9d9d9d"/><stop offset="0.601" stop-color="#757575"/><stop offset="0.65" stop-color="#424242"/><stop offset="0.69" stop-color="#111111"/><stop offset="0.7" stop-color="#000000"/><stop offset="0.99" stop-color="#000000"/></linearGradient><linearGradient id="g169" x2="0" y2="1"><stop offset="0.009" stop-color="#000000"/><stop offset="0.019" stop-color="#000000"/><stop offset="0.021" stop-color="#0a0a0a"/><stop offset="0.034" stop-color="#151515"/><stop offset="0.09" stop-color="#4f4f4f"/><stop offset="0.149" stop-color="#808080"/><stop offset="0.21" stop-color="#a7a7a7"/><stop offset="0.272" stop-color="#c1c1c1"/><stop offset="0.333" stop-color="#d0d0d0"/><stop offset="0.392" stop-color="#d3d3d3"/><stop offset="0.451" stop-color="#cacaca"/><stop offset="0.508" stop-color="#b6b6b6"/><stop offset="0.559" stop-color="#989898"/><stop offset="0.611" stop-color="#6f6f6f"/><stop offset="0.665" stop-color="#373737"/><stop offset="0.707" stop-color="#040404"/><stop offset="0.717" stop-color="#000000"/><stop offset="0.99" stop-color="#000000"/></linearGradient><linearGradient id="g170" x2="0" y2="1"><stop offset="0.009" stop-color="#000000"/><stop offset="0.019" stop-color="#000000"/><stop offset="0.021" stop-color="#0a0a0a"/><stop offset="0.034" stop-color="#151515"/><stop offset="0.09" stop-color="#4f4f4f"/><stop offset="0.149" stop-color="#7f7f7f"/><stop offset="0.21" stop-color="#a6a6a6"/><stop offset="0.272" stop-color="#c0c0c0"/><stop offset="0.333" stop-color="#cfcfcf"/><stop offset="0.392" stop-color="#d2d2d2"/><stop offset="0.451" stop-color="#c9c9c9"/><stop offset="0.508" stop-color="#b6b6b6"/><stop offset="0.562" stop-color="#979797"/><stop offset="0.616" stop-color="#6d6d6d"/><stop offset="0.675" stop-color="#323232"/><stop offset="0.719" stop-color="#010101"/><stop offset="0.99" stop-color="#000000"/></linearGradient><linearGradient id="g171" x2="0" y2="1"><stop offset="0.009" stop-color="#000000"/><stop offset="0.019" stop-color="#000000"/><stop offset="0.021" stop-color="#0a0a0a"/><stop offset="0.034" stop-color="#141414"/><stop offset="0.09" stop-color="#4e4e4e"/><stop offset="0.149" stop-color="#7e7e7e"/><stop offset="0.21" stop-color="#a4a4a4"/><stop offset="0.272" stop-color="#bfbfbf"/><stop offset="0.333" stop-color="#cdcdcd"/><stop offset="0.395" stop-color="#d0d0d0"/><stop offset="0.454" stop-color="#c8c8c8"/><stop offset="0.51" stop-color="#b4b4b4"/><stop offset="0.567" stop-color="#959595"/><stop offset="0.623" stop-color="#696969"/><stop offset="0.69" stop-color="#2a2a2a"/><stop offset="0.729" stop-color="#000000"/><stop offset="0.99" stop-color="#000000"/></linearGradient><linearGradient id="g172" x2="0" y2="1"><stop offset="0.009" stop-color="#000000"/><stop offset="0.019" stop-color="#000000"/><stop offset="0.021" stop-color="#0a0a0a"/><stop offset="0.034" stop-color="#141414"/><stop offset="0.093" stop-color="#4f4f4f"/><stop offset="0.151" stop-color="#7f7f7f"/><stop offset="0.213" stop-color="#a4a4a4"/><stop offset="0.274" stop-color="#bebebe"/><stop offset="0.336" stop-color="#cccccc"/><stop offset="0.397" stop-color="#cfcfcf"/><stop offset="0.456" stop-color="#c6c6c6"/><stop offset="0.515" stop-color="#b1b1b1"/><stop offset="0.572" stop-color="#929292"/><stop offset="0.631" stop-color="#666666"/><stop offset="0.732" stop-color="#080808"/><stop offset="0.744" stop-color="#000000"/><stop offset="0.99" stop-color="#000000"/></linearGradient><linearGradient id="g173" x2="0" y2="1"><stop offset="0.009" stop-color="#000000"/><stop offset="0.019" stop-color="#000000"/><stop offset="0.021" stop-color="#0a0a0a"/><stop offset="0.034" stop-color="#141414"/><stop offset="0.093" stop-color="#4f4f4f"/><stop offset="0.154" stop-color="#7f7f7f"/><stop offset="0.215" stop-color="#a4a4a4"/><stop offset="0.277" stop-color="#bdbdbd"/><stop offset="0.338" stop-color="#cbcbcb"/><stop offset="0.4" stop-color="#cdcdcd"/><stop offset="0.461" stop-color="#c4c4c4"/><stop offset="0.52" stop-color="#afafaf"/><stop offset="0.579" stop-color="#8f8f8f"/><stop offset="0.643" stop-color="#5f5f5f"/><stop offset="0.751" stop-color="#000000"/><stop offset="0.99" stop-color="#000000"/></linearGradient><linearGradient id="g174" x2="0" y2="1"><stop offset="0.009" stop-color="#000000"/><stop offset="0.019" stop-color="#000000"/><stop offset="0.021" stop-color="#090909"/><stop offset="0.034" stop-color="#141414"/><stop offset="0.093" stop-color="#4e4e4e"/><stop offset="0.154" stop-color="#7e7e7e"/><stop offset="0.215" stop-color="#a2a2a2"/><stop offset="0.279" stop-color="#bcbcbc"/><stop offset="0.341" stop-color="#cacaca"/><stop offset="0.402" stop-color="#cccccc"/><stop offset="0.464" stop-color="#c2c2c2"/><stop offset="0.525" stop-color="#acacac"/><stop offset="0.586" stop-color="#8b8b8b"/><stop offset="0.658" stop-color="#575757"/><stop offset="0.761" stop-color="#020202"/><stop offset="0.781" stop-color="#000000"/><stop offset="0.99" stop-color="#000000"/></linearGradient><linearGradient id="g175" x2="0" y2="1"><stop offset="0.009" stop-color="#000000"/><stop offset="0.019" stop-color="#000000"/><stop offset="0.021" stop-color="#090909"/><stop offset="0.034" stop-color="#141414"/><stop offset="0.093" stop-color="#4d4d4d"/><stop offset="0.154" stop-color="#7d7d7d"/><stop offset="0.215" stop-color="#a1a1a1"/><stop offset="0.279" stop-color="#bababa"/><stop offset="0.343" stop-color="#c8c8c8"/><stop offset="0.405" stop-color="#cacaca"/><stop offset="0.466" stop-color="#c0c0c0"/><stop offset="0.528" stop-color="#ababab"/><stop offset="0.591" stop-color="#898989"/><stop offset="0.668" stop-color="#535353"/><stop offset="0.773" stop-color="#000000"/><stop offset="0.99" stop-color="#000000"/></linearGradient><linearGradient id="g176" x2="0" y2="1"><stop offset="0.009" stop-color="#000000"/><stop offset="0.019" stop-color="#000000"/><stop offset="0.021" stop-color="#090909"/><stop offset="0.034" stop-color="#131313"/><stop offset="0.095" stop-color="#4e4e4e"/><stop offset="0.156" stop-color="#7d7d7d"/><stop offset="0.22" stop-color="#a2a2a2"/><stop offset="0.284" stop-color="#bababa"/><stop offset="0.348" stop-color="#c7c7c7"/><stop offset="0.412" stop-color="#c8c8c8"/><stop offset="0.476" stop-color="#bcbcbc"/><stop offset="0.54" stop-color="#a5a5a5"/><stop offset="0.606" stop-color="#818181"/><stop offset="0.7" stop-color="#3f3f3f"/><stop offset="0.786" stop-color="#010101"/><stop offset="0.99" stop-color="#000000"/></linearGradient><linearGradient id="g177" x2="0" y2="1"><stop offset="0.009" stop-color="#000000"/><stop offset="0.019" stop-color="#000000"/><stop offset="0.021" stop-color="#090909"/><stop offset="0.034" stop-color="#131313"/><stop offset="0.095" stop-color="#4d4d4d"/><stop offset="0.156" stop-color="#7b7b7b"/><stop offset="0.22" stop-color="#a0a0a0"/><stop offset="0.284" stop-color="#b8b8b8"/><stop offset="0.348" stop-color="#c5c5c5"/><stop offset="0.412" stop-color="#c6c6c6"/><stop offset="0.476" stop-color="#bbbbbb"/><stop offset="0.542" stop-color="#a4a4a4"/><stop offset="0.614" stop-color="#7e7e7e"/><stop offset="0.793" stop-color="#020202"/><stop offset="0.8" stop-color="#000000"/><stop offset="0.99" stop-color="#000000"/></linearGradient><linearGradient id="g178" x2="0" y2="1"><stop offset="0.009" stop-color="#000000"/><stop offset="0.019" stop-color="#000000"/><stop offset="0.021" stop-color="#090909"/><stop offset="0.034" stop-color="#131313"/><stop offset="0.095" stop-color="#4c4c4c"/><stop offset="0.159" stop-color="#7c7c7c"/><stop offset="0.223" stop-color="#9f9f9f"/><stop offset="0.287" stop-color="#b7b7b7"/><stop offset="0.351" stop-color="#c3c3c3"/><stop offset="0.414" stop-color="#c4c4c4"/><stop offset="0.478" stop-color="#b9b9b9"/><stop offset="0.545" stop-color="#a2a2a2"/><stop offset="0.618" stop-color="#7c7c7c"/><stop offset="0.81" stop-color="#000000"/><stop offset="0.99" stop-color="#000000"/></linearGradient><linearGradient id="g179" x2="0" y2="1"><stop offset="0.009" stop-color="#000000"/><stop offset="0.019" stop-color="#000000"/><stop offset="0.021" stop-color="#090909"/><stop offset="0.036" stop-color="#151515"/><stop offset="0.1" stop-color="#4f4f4f"/><stop offset="0.164" stop-color="#7d7d7d"/><stop offset="0.228" stop-color="#a0a0a0"/><stop offset="0.292" stop-color="#b7b7b7"/><stop offset="0.355" stop-color="#c2c2c2"/><stop offset="0.422" stop-color="#c2c2c2"/><stop offset="0.488" stop-color="#b6b6b6"/><stop offset="0.557" stop-color="#9d9d9d"/><stop offset="0.636" stop-color="#737373"/><stop offset="0.803" stop-color="#0c0c0c"/><stop offset="0.827" stop-color="#000000"/><stop offset="0.99" stop-color="#000000"/></linearGradient><linearGradient id="g180" x2="0" y2="1"><stop offset="0.009" stop-color="#000000"/><stop offset="0.019" stop-color="#000000"/><stop offset="0.021" stop-color="#090909"/><stop offset="0.036" stop-color="#151515"/><stop offset="0.1" stop-color="#4e4e4e"/><stop offset="0.164" stop-color="#7c7c7c"/><stop offset="0.228" stop-color="#9e9e9e"/><stop offset="0.294" stop-color="#b5b5b5"/><stop offset="0.36" stop-color="#c1c1c1"/><stop offset="0.427" stop-color="#c0c0c0"/><stop offset="0.493" stop-color="#b3b3b3"/><stop offset="0.564" stop-color="#999999"/><stop offset="0.648" stop-color="#6e6e6e"/><stop offset="0.805" stop-color="#101010"/><stop offset="0.84" stop-color="#000000"/><stop offset="0.99" stop-color="#000000"/></linearGradient><linearGradient id="g181" x2="0" y2="1"><stop offset="0.009" stop-color="#000000"/><stop offset="0.019" stop-color="#000000"/><stop offset="0.021" stop-color="#090909"/><stop offset="0.036" stop-color="#141414"/><stop offset="0.1" stop-color="#4d4d4d"/><stop offset="0.164" stop-color="#7a7a7a"/><stop offset="0.23" stop-color="#9d9d9d"/><stop offset="0.296" stop-color="#b4b4b4"/><stop offset="0.363" stop-color="#bfbfbf"/><stop offset="0.429" stop-color="#bebebe"/><stop offset="0.498" stop-color="#b1b1b1"/><stop offset="0.569" stop-color="#979797"/><stop offset="0.658" stop-color="#6a6a6a"/><stop offset="0.81" stop-color="#131313"/><stop offset="0.849" stop-color="#000000"/><stop offset="0.99" stop-color="#000000"/></linearGradient><linearGradient id="g182" x2="0" y2="1"><stop offset="0.009" stop-color="#000000"/><stop offset="0.019" stop-color="#000000"/><stop offset="0.021" stop-color="#080808"/><stop offset="0.036" stop-color="#141414"/><stop offset="0.1" stop-color="#4c4c4c"/><stop offset="0.166" stop-color="#7a7a7a"/><stop offset="0.233" stop-color="#9c9c9c"/><stop offset="0.299" stop-color="#b3b3b3"/><stop offset="0.365" stop-color="#bdbdbd"/><stop offset="0.432" stop-color="#bcbcbc"/><stop offset="0.5" stop-color="#afafaf"/><stop offset="0.574" stop-color="#959595"/><stop offset="0.668" stop-color="#666666"/><stop offset="0.813" stop-color="#161616"/><stop offset="0.864" stop-color="#000000"/><stop offset="0.99" stop-color="#000000"/></linearGradient><linearGradient id="g183" x2="0" y2="1"><stop offset="0.009" stop-color="#000000"/><stop offset="0.019" stop-color="#000000"/><stop offset="0.021" stop-color="#080808"/><stop offset="0.036" stop-color="#141414"/><stop offset="0.102" stop-color="#4d4d4d"/><stop offset="0.169" stop-color="#7a7a7a"/><stop offset="0.235" stop-color="#9b9b9b"/><stop offset="0.301" stop-color="#b1b1b1"/><stop offset="0.368" stop-color="#bbbbbb"/><stop offset="0.437" stop-color="#bababa"/><stop offset="0.508" stop-color="#acacac"/><stop offset="0.584" stop-color="#919191"/><stop offset="0.685" stop-color="#5f5f5f"/><stop offset="0.815" stop-color="#1a1a1a"/><stop offset="0.879" stop-color="#000000"/><stop offset="0.99" stop-color="#000000"/></linearGradient><linearGradient id="g184" x2="0" y2="1"><stop offset="0.009" stop-color="#000000"/><stop offset="0.019" stop-color="#000000"/><stop offset="0.021" stop-color="#080808"/><stop offset="0.036" stop-color="#141414"/><stop offset="0.102" stop-color="#4c4c4c"/><stop offset="0.169" stop-color="#797979"/><stop offset="0.235" stop-color="#9a9a9a"/><stop offset="0.304" stop-color="#b0b0b0"/><stop offset="0.373" stop-color="#bababa"/><stop offset="0.441" stop-color="#b8b8b8"/><stop offset="0.513" stop-color="#aaaaaa"/><stop offset="0.591" stop-color="#8e8e8e"/><stop offset="0.702" stop-color="#575757"/><stop offset="0.822" stop-color="#1a1a1a"/><stop offset="0.891" stop-color="#000000"/><stop offset="0.99" stop-color="#000000"/></linearGradient><linearGradient id="g185" x2="0" y2="1"><stop offset="0.009" stop-color="#000000"/><stop offset="0.019" stop-color="#000000"/><stop offset="0.021" stop-color="#080808"/><stop offset="0.038" stop-color="#151515"/><stop offset="0.105" stop-color="#4d4d4d"/><stop offset="0.171" stop-color="#787878"/><stop offset="0.238" stop-color="#999999"/><stop offset="0.306" stop-color="#aeaeae"/><stop offset="0.375" stop-color="#b8b8b8"/><stop offset="0.444" stop-color="#b6b6b6"/><stop offset="0.518" stop-color="#a8a8a8"/><stop offset="0.599" stop-color="#8b8b8b"/><stop offset="0.722" stop-color="#4f4f4f"/><stop offset="0.835" stop-color="#191919"/><stop offset="0.906" stop-color="#000000"/><stop offset="0.99" stop-color="#000000"/></linearGradient><linearGradient id="g186" x2="0" y2="1"><stop offset="0.009" stop-color="#000000"/><stop offset="0.019" stop-color="#000000"/><stop offset="0.021" stop-color="#080808"/><stop offset="0.038" stop-color="#151515"/><stop offset="0.107" stop-color="#4d4d4d"/><stop offset="0.176" stop-color="#7a7a7a"/><stop offset="0.245" stop-color="#9a9a9a"/><stop offset="0.314" stop-color="#aeaeae"/><stop offset="0.383" stop-color="#b7b7b7"/><stop offset="0.454" stop-color="#b3b3b3"/><stop offset="0.528" stop-color="#a4a4a4"/><stop offset="0.611" stop-color="#868686"/><stop offset="0.835" stop-color="#1c1c1c"/><stop offset="0.904" stop-color="#040404"/><stop offset="0.933" stop-color="#000000"/><stop offset="0.99" stop-color="#000000"/></linearGradient><linearGradient id="g187" x2="0" y2="1"><stop offset="0.009" stop-color="#000000"/><stop offset="0.019" stop-color="#000000"/><stop offset="0.021" stop-color="#080808"/><stop offset="0.038" stop-color="#151515"/><stop offset="0.107" stop-color="#4c4c4c"/><stop offset="0.176" stop-color="#787878"/><stop offset="0.245" stop-color="#989898"/><stop offset="0.314" stop-color="#acacac"/><stop offset="0.383" stop-color="#b5b5b5"/><stop offset="0.454" stop-color="#b2b2b2"/><stop offset="0.53" stop-color="#a2a2a2"/><stop offset="0.616" stop-color="#848484"/><stop offset="0.842" stop-color="#1c1c1c"/><stop offset="0.911" stop-color="#050505"/><stop offset="0.955" stop-color="#000000"/><stop offset="0.99" stop-color="#000000"/></linearGradient><linearGradient id="g188" x2="0" y2="1"><stop offset="0.009" stop-color="#000000"/><stop offset="0.019" stop-color="#000000"/><stop offset="0.021" stop-color="#080808"/><stop offset="0.041" stop-color="#171717"/><stop offset="0.112" stop-color="#4f4f4f"/><stop offset="0.181" stop-color="#797979"/><stop offset="0.25" stop-color="#989898"/><stop offset="0.319" stop-color="#ababab"/><stop offset="0.39" stop-color="#b3b3b3"/><stop offset="0.464" stop-color="#afafaf"/><stop offset="0.54" stop-color="#9f9f9f"/><stop offset="0.628" stop-color="#7f7f7f"/><stop offset="0.847" stop-color="#1c1c1c"/><stop offset="0.918" stop-color="#060606"/><stop offset="0.97" stop-color="#000000"/><stop offset="0.99" stop-color="#000000"/></linearGradient><linearGradient id="g189" x2="0" y2="1"><stop offset="0.009" stop-color="#000000"/><stop offset="0.019" stop-color="#000000"/><stop offset="0.021" stop-color="#080808"/><stop offset="0.041" stop-color="#161616"/><stop offset="0.112" stop-color="#4e4e4e"/><stop offset="0.183" stop-color="#797979"/><stop offset="0.255" stop-color="#989898"/><stop offset="0.326" stop-color="#ababab"/><stop offset="0.397" stop-color="#b2b2b2"/><stop offset="0.471" stop-color="#adadad"/><stop offset="0.55" stop-color="#9c9c9c"/><stop offset="0.643" stop-color="#7a7a7a"/><stop offset="0.852" stop-color="#1d1d1d"/><stop offset="0.923" stop-color="#060606"/><stop offset="0.977" stop-color="#000000"/><stop offset="0.99" stop-color="#000000"/></linearGradient><linearGradient id="g190" x2="0" y2="1"><stop offset="0.009" stop-color="#000000"/><stop offset="0.019" stop-color="#000000"/><stop offset="0.021" stop-color="#070707"/><stop offset="0.041" stop-color="#161616"/><stop offset="0.112" stop-color="#4c4c4c"/><stop offset="0.183" stop-color="#777777"/><stop offset="0.255" stop-color="#969696"/><stop offset="0.326" stop-color="#a9a9a9"/><stop offset="0.397" stop-color="#b0b0b0"/><stop offset="0.471" stop-color="#acacac"/><stop offset="0.55" stop-color="#9b9b9b"/><stop offset="0.643" stop-color="#7a7a7a"/><stop offset="0.859" stop-color="#1c1c1c"/><stop offset="0.931" stop-color="#060606"/><stop offset="0.985" stop-color="#000000"/><stop offset="0.99" stop-color="#000000"/></linearGradient><linearGradient id="g191" x2="0" y2="1"><stop offset="0.009" stop-color="#000000"/><stop offset="0.019" stop-color="#000000"/><stop offset="0.021" stop-color="#070707"/><stop offset="0.041" stop-color="#161616"/><stop offset="0.115" stop-color="#4d4d4d"/><stop offset="0.186" stop-color="#777777"/><stop offset="0.257" stop-color="#959595"/><stop offset="0.328" stop-color="#a8a8a8"/><stop offset="0.402" stop-color="#afafaf"/><stop offset="0.478" stop-color="#a9a9a9"/><stop offset="0.559" stop-color="#989898"/><stop offset="0.658" stop-color="#757575"/><stop offset="0.864" stop-color="#1c1c1c"/><stop offset="0.938" stop-color="#060606"/><stop offset="0.987" stop-color="#000000"/><stop offset="0.99" stop-color="#000000"/></linearGradient><linearGradient id="g192" x2="0" y2="1"><stop offset="0.009" stop-color="#000000"/><stop offset="0.019" stop-color="#000000"/><stop offset="0.021" stop-color="#070707"/><stop offset="0.043" stop-color="#171717"/><stop offset="0.117" stop-color="#4e4e4e"/><stop offset="0.191" stop-color="#787878"/><stop offset="0.262" stop-color="#959595"/><stop offset="0.333" stop-color="#a7a7a7"/><stop offset="0.407" stop-color="#adadad"/><stop offset="0.483" stop-color="#a8a8a8"/><stop offset="0.567" stop-color="#959595"/><stop offset="0.668" stop-color="#717171"/><stop offset="0.872" stop-color="#1b1b1b"/><stop offset="0.948" stop-color="#050505"/><stop offset="0.985" stop-color="#000000"/><stop offset="0.99" stop-color="#000000"/></linearGradient><linearGradient id="g193" x2="0" y2="1"><stop offset="0.009" stop-color="#000000"/><stop offset="0.019" stop-color="#000000"/><stop offset="0.021" stop-color="#070707"/><stop offset="0.043" stop-color="#171717"/><stop offset="0.117" stop-color="#4d4d4d"/><stop offset="0.191" stop-color="#767676"/><stop offset="0.265" stop-color="#949494"/><stop offset="0.338" stop-color="#a6a6a6"/><stop offset="0.412" stop-color="#acacac"/><stop offset="0.491" stop-color="#a5a5a5"/><stop offset="0.577" stop-color="#929292"/><stop offset="0.682" stop-color="#6c6c6c"/><stop offset="0.877" stop-color="#1b1b1b"/><stop offset="0.958" stop-color="#040404"/><stop offset="0.985" stop-color="#000000"/><stop offset="0.99" stop-color="#000000"/></linearGradient><linearGradient id="g194" x2="0" y2="1"><stop offset="0.009" stop-color="#000000"/><stop offset="0.019" stop-color="#000000"/><stop offset="0.021" stop-color="#070707"/><stop offset="0.046" stop-color="#191919"/><stop offset="0.122" stop-color="#4f4f4f"/><stop offset="0.196" stop-color="#777777"/><stop offset="0.269" stop-color="#949494"/><stop offset="0.343" stop-color="#a5a5a5"/><stop offset="0.419" stop-color="#aaaaaa"/><stop offset="0.498" stop-color="#a3a3a3"/><stop offset="0.584" stop-color="#909090"/><stop offset="0.692" stop-color="#696969"/><stop offset="0.884" stop-color="#1b1b1b"/><stop offset="0.975" stop-color="#000000"/><stop offset="0.99" stop-color="#000000"/></linearGradient><linearGradient id="g195" x2="0" y2="1"><stop offset="0.009" stop-color="#000000"/><stop offset="0.019" stop-color="#000000"/><stop offset="0.021" stop-color="#070707"/><stop offset="0.046" stop-color="#181818"/><stop offset="0.122" stop-color="#4e4e4e"/><stop offset="0.196" stop-color="#767676"/><stop offset="0.269" stop-color="#929292"/><stop offset="0.343" stop-color="#a3a3a3"/><stop offset="0.419" stop-color="#a9a9a9"/><stop offset="0.498" stop-color="#a3a3a3"/><stop offset="0.586" stop-color="#8f8f8f"/><stop offset="0.697" stop-color="#686868"/><stop offset="0.894" stop-color="#191919"/><stop offset="0.98" stop-color="#000000"/><stop offset="0.99" stop-color="#000000"/></linearGradient><linearGradient id="g196" x2="0" y2="1"><stop offset="0.009" stop-color="#000000"/><stop offset="0.019" stop-color="#000000"/><stop offset="0.021" stop-color="#070707"/><stop offset="0.046" stop-color="#181818"/><stop offset="0.124" stop-color="#4e4e4e"/><stop offset="0.201" stop-color="#777777"/><stop offset="0.274" stop-color="#929292"/><stop offset="0.351" stop-color="#a3a3a3"/><stop offset="0.427" stop-color="#a7a7a7"/><stop offset="0.508" stop-color="#a0a0a0"/><stop offset="0.596" stop-color="#8c8c8c"/><stop offset="0.712" stop-color="#636363"/><stop offset="0.904" stop-color="#171717"/><stop offset="0.98" stop-color="#000000"/><stop offset="0.99" stop-color="#000000"/></linearGradient><linearGradient id="g197" x2="0" y2="1"><stop offset="0.009" stop-color="#000000"/><stop offset="0.019" stop-color="#000000"/><stop offset="0.021" stop-color="#070707"/><stop offset="0.048" stop-color="#191919"/><stop offset="0.127" stop-color="#4f4f4f"/><stop offset="0.203" stop-color="#777777"/><stop offset="0.279" stop-color="#929292"/><stop offset="0.355" stop-color="#a2a2a2"/><stop offset="0.434" stop-color="#a6a6a6"/><stop offset="0.515" stop-color="#9e9e9e"/><stop offset="0.606" stop-color="#898989"/><stop offset="0.727" stop-color="#5e5e5e"/><stop offset="0.916" stop-color="#141414"/><stop offset="0.977" stop-color="#000000"/><stop offset="0.99" stop-color="#000000"/></linearGradient><linearGradient id="g198" x2="0" y2="1"><stop offset="0.009" stop-color="#000000"/><stop offset="0.019" stop-color="#000000"/><stop offset="0.021" stop-color="#070707"/><stop offset="0.051" stop-color="#1b1b1b"/><stop offset="0.129" stop-color="#4f4f4f"/><stop offset="0.206" stop-color="#767676"/><stop offset="0.282" stop-color="#929292"/><stop offset="0.358" stop-color="#a1a1a1"/><stop offset="0.437" stop-color="#a5a5a5"/><stop offset="0.52" stop-color="#9d9d9d"/><stop offset="0.614" stop-color="#878787"/><stop offset="0.736" stop-color="#5c5c5c"/><stop offset="0.935" stop-color="#0f0f0f"/><stop offset="0.977" stop-color="#000000"/><stop offset="0.99" stop-color="#000000"/></linearGradient><linearGradient id="g199" x2="0" y2="1"><stop offset="0.009" stop-color="#000000"/><stop offset="0.019" stop-color="#000000"/><stop offset="0.021" stop-color="#070707"/><stop offset="0.051" stop-color="#1b1b1b"/><stop offset="0.132" stop-color="#505050"/><stop offset="0.21" stop-color="#777777"/><stop offset="0.287" stop-color="#929292"/><stop offset="0.363" stop-color="#a0a0a0"/><stop offset="0.441" stop-color="#a4a4a4"/><stop offset="0.525" stop-color="#9b9b9b"/><stop offset="0.618" stop-color="#868686"/><stop offset="0.744" stop-color="#5a5a5a"/><stop offset="0.977" stop-color="#000000"/><stop offset="0.99" stop-color="#000000"/></linearGradient><linearGradient id="g200" x2="0" y2="1"><stop offset="0.009" stop-color="#000000"/><stop offset="0.019" stop-color="#000000"/><stop offset="0.021" stop-color="#060606"/><stop offset="0.053" stop-color="#1c1c1c"/><stop offset="0.134" stop-color="#505050"/><stop offset="0.213" stop-color="#777777"/><stop offset="0.292" stop-color="#919191"/><stop offset="0.37" stop-color="#a0a0a0"/><stop offset="0.451" stop-color="#a3a3a3"/><stop offset="0.537" stop-color="#999999"/><stop offset="0.633" stop-color="#818181"/><stop offset="0.768" stop-color="#525252"/><stop offset="0.977" stop-color="#000000"/><stop offset="0.99" stop-color="#000000"/></linearGradient><linearGradient id="g201" x2="0" y2="1"><stop offset="0.009" stop-color="#000000"/><stop offset="0.019" stop-color="#000000"/><stop offset="0.021" stop-color="#060606"/><stop offset="0.056" stop-color="#1d1d1d"/><stop offset="0.137" stop-color="#515151"/><stop offset="0.215" stop-color="#777777"/><stop offset="0.294" stop-color="#919191"/><stop offset="0.373" stop-color="#9f9f9f"/><stop offset="0.454" stop-color="#a2a2a2"/><stop offset="0.54" stop-color="#989898"/><stop offset="0.638" stop-color="#808080"/><stop offset="0.773" stop-color="#515151"/><stop offset="0.977" stop-color="#000000"/><stop offset="0.99" stop-color="#000000"/></linearGradient><linearGradient id="g202" x2="0" y2="1"><stop offset="0.009" stop-color="#000000"/><stop offset="0.019" stop-color="#000000"/><stop offset="0.021" stop-color="#060606"/><stop offset="0.058" stop-color="#1f1f1f"/><stop offset="0.139" stop-color="#515151"/><stop offset="0.218" stop-color="#777777"/><stop offset="0.296" stop-color="#909090"/><stop offset="0.375" stop-color="#9e9e9e"/><stop offset="0.456" stop-color="#a1a1a1"/><stop offset="0.545" stop-color="#979797"/><stop offset="0.643" stop-color="#7f7f7f"/><stop offset="0.778" stop-color="#505050"/><stop offset="0.972" stop-color="#010101"/><stop offset="0.99" stop-color="#000000"/></linearGradient><linearGradient id="g203" x2="0" y2="1"><stop offset="0.009" stop-color="#000000"/><stop offset="0.019" stop-color="#000000"/><stop offset="0.021" stop-color="#060606"/><stop offset="0.063" stop-color="#222222"/><stop offset="0.147" stop-color="#545454"/><stop offset="0.228" stop-color="#797979"/><stop offset="0.306" stop-color="#919191"/><stop offset="0.387" stop-color="#9e9e9e"/><stop offset="0.471" stop-color="#9f9f9f"/><stop offset="0.559" stop-color="#949494"/><stop offset="0.663" stop-color="#7a7a7a"/><stop offset="0.808" stop-color="#464646"/><stop offset="0.97" stop-color="#030303"/><stop offset="0.977" stop-color="#000000"/><stop offset="0.99" stop-color="#000000"/></linearGradient><linearGradient id="g204" x2="0" y2="1"><stop offset="0.009" stop-color="#000000"/><stop offset="0.019" stop-color="#000000"/><stop offset="0.021" stop-color="#060606"/><stop offset="0.129" stop-color="#4a4a4a"/><stop offset="0.21" stop-color="#717171"/><stop offset="0.292" stop-color="#8d8d8d"/><stop offset="0.373" stop-color="#9c9c9c"/><stop offset="0.456" stop-color="#9f9f9f"/><stop offset="0.545" stop-color="#969696"/><stop offset="0.645" stop-color="#808080"/><stop offset="0.776" stop-color="#545454"/><stop offset="0.963" stop-color="#070707"/><stop offset="0.977" stop-color="#000000"/><stop offset="0.99" stop-color="#000000"/></linearGradient><linearGradient id="g205" x2="0" y2="1"><stop offset="0.009" stop-color="#000000"/><stop offset="0.019" stop-color="#000000"/><stop offset="0.021" stop-color="#060606"/><stop offset="0.129" stop-color="#494949"/><stop offset="0.21" stop-color="#707070"/><stop offset="0.292" stop-color="#8c8c8c"/><stop offset="0.373" stop-color="#9b9b9b"/><stop offset="0.456" stop-color="#9e9e9e"/><stop offset="0.545" stop-color="#969696"/><stop offset="0.645" stop-color="#808080"/><stop offset="0.773" stop-color="#565656"/><stop offset="0.945" stop-color="#0f0f0f"/><stop offset="0.977" stop-color="#000000"/><stop offset="0.99" stop-color="#000000"/></linearGradient><linearGradient id="g206" x2="0" y2="1"><stop offset="0.009" stop-color="#000000"/><stop offset="0.019" stop-color="#000000"/><stop offset="0.021" stop-color="#060606"/><stop offset="0.132" stop-color="#4a4a4a"/><stop offset="0.215" stop-color="#717171"/><stop offset="0.296" stop-color="#8c8c8c"/><stop offset="0.378" stop-color="#9a9a9a"/><stop offset="0.461" stop-color="#9e9e9e"/><stop offset="0.552" stop-color="#959595"/><stop offset="0.653" stop-color="#7e7e7e"/><stop offset="0.781" stop-color="#545454"/><stop offset="0.938" stop-color="#131313"/><stop offset="0.977" stop-color="#000000"/><stop offset="0.99" stop-color="#000000"/></linearGradient><linearGradient id="g207" x2="0" y2="1"><stop offset="0.009" stop-color="#000000"/><stop offset="0.019" stop-color="#000000"/><stop offset="0.021" stop-color="#060606"/><stop offset="0.132" stop-color="#494949"/><stop offset="0.215" stop-color="#707070"/><stop offset="0.296" stop-color="#8b8b8b"/><stop offset="0.38" stop-color="#9a9a9a"/><stop offset="0.466" stop-color="#9d9d9d"/><stop offset="0.557" stop-color="#949494"/><stop offset="0.66" stop-color="#7d7d7d"/><stop offset="0.786" stop-color="#535353"/><stop offset="0.933" stop-color="#161616"/><stop offset="0.972" stop-color="#020202"/><stop offset="0.99" stop-color="#000000"/></linearGradient><linearGradient id="g208" x2="0" y2="1"><stop offset="0.009" stop-color="#000000"/><stop offset="0.019" stop-color="#000000"/><stop offset="0.021" stop-color="#060606"/><stop offset="0.132" stop-color="#494949"/><stop offset="0.215" stop-color="#707070"/><stop offset="0.299" stop-color="#8a8a8a"/><stop offset="0.383" stop-color="#999999"/><stop offset="0.469" stop-color="#9c9c9c"/><stop offset="0.559" stop-color="#949494"/><stop offset="0.663" stop-color="#7d7d7d"/><stop offset="0.788" stop-color="#535353"/><stop offset="0.926" stop-color="#1a1a1a"/><stop offset="0.972" stop-color="#020202"/><stop offset="0.99" stop-color="#000000"/></linearGradient><linearGradient id="g209" x2="0" y2="1"><stop offset="0.009" stop-color="#000000"/><stop offset="0.019" stop-color="#000000"/><stop offset="0.021" stop-color="#060606"/><stop offset="0.132" stop-color="#484848"/><stop offset="0.215" stop-color="#6f6f6f"/><stop offset="0.299" stop-color="#8a8a8a"/><stop offset="0.383" stop-color="#999999"/><stop offset="0.469" stop-color="#9c9c9c"/><stop offset="0.559" stop-color="#949494"/><stop offset="0.663" stop-color="#7d7d7d"/><stop offset="0.783" stop-color="#565656"/><stop offset="0.916" stop-color="#1f1f1f"/><stop offset="0.972" stop-color="#020202"/><stop offset="0.99" stop-color="#000000"/></linearGradient><linearGradient id="g210" x2="0" y2="1"><stop offset="0.009" stop-color="#000000"/><stop offset="0.019" stop-color="#000000"/><stop offset="0.021" stop-color="#060606"/><stop offset="0.134" stop-color="#494949"/><stop offset="0.22" stop-color="#707070"/><stop offset="0.304" stop-color="#8a8a8a"/><stop offset="0.387" stop-color="#989898"/><stop offset="0.476" stop-color="#9b9b9b"/><stop offset="0.569" stop-color="#929292"/><stop offset="0.673" stop-color="#7b7b7b"/><stop offset="0.793" stop-color="#535353"/><stop offset="0.918" stop-color="#1e1e1e"/><stop offset="0.972" stop-color="#020202"/><stop offset="0.987" stop-color="#000000"/><stop offset="0.99" stop-color="#000000"/></linearGradient><linearGradient id="g211" x2="0" y2="1"><stop offset="0.009" stop-color="#000000"/><stop offset="0.019" stop-color="#000000"/><stop offset="0.021" stop-color="#060606"/><stop offset="0.134" stop-color="#484848"/><stop offset="0.22" stop-color="#6f6f6f"/><stop offset="0.304" stop-color="#898989"/><stop offset="0.39" stop-color="#989898"/><stop offset="0.478" stop-color="#9b9b9b"/><stop offset="0.572" stop-color="#929292"/><stop offset="0.675" stop-color="#7b7b7b"/><stop offset="0.793" stop-color="#545454"/><stop offset="0.916" stop-color="#202020"/><stop offset="0.972" stop-color="#020202"/><stop offset="0.985" stop-color="#000000"/><stop offset="0.99" stop-color="#000000"/></linearGradient><linearGradient id="g212" x2="0" y2="1"><stop offset="0.009" stop-color="#000000"/><stop offset="0.019" stop-color="#000000"/><stop offset="0.021" stop-color="#060606"/><stop offset="0.134" stop-color="#484848"/><stop offset="0.22" stop-color="#6e6e6e"/><stop offset="0.306" stop-color="#898989"/><stop offset="0.392" stop-color="#989898"/><stop offset="0.481" stop-color="#9a9a9a"/><stop offset="0.574" stop-color="#919191"/><stop offset="0.677" stop-color="#7b7b7b"/><stop offset="0.793" stop-color="#555555"/><stop offset="0.911" stop-color="#232323"/><stop offset="0.972" stop-color="#020202"/><stop offset="0.985" stop-color="#000000"/><stop offset="0.99" stop-color="#000000"/></linearGradient><linearGradient id="g213" x2="0" y2="1"><stop offset="0.009" stop-color="#000000"/><stop offset="0.019" stop-color="#000000"/><stop offset="0.021" stop-color="#060606"/><stop offset="0.134" stop-color="#474747"/><stop offset="0.22" stop-color="#6e6e6e"/><stop offset="0.306" stop-color="#888888"/><stop offset="0.392" stop-color="#979797"/><stop offset="0.481" stop-color="#9a9a9a"/><stop offset="0.574" stop-color="#919191"/><stop offset="0.677" stop-color="#7b7b7b"/><stop offset="0.793" stop-color="#565656"/><stop offset="0.908" stop-color="#242424"/><stop offset="0.97" stop-color="#040404"/><stop offset="0.977" stop-color="#000000"/><stop offset="0.99" stop-color="#000000"/></linearGradient><linearGradient id="g214" x2="0" y2="1"><stop offset="0.009" stop-color="#000000"/><stop offset="0.019" stop-color="#000000"/><stop offset="0.021" stop-color="#060606"/><stop offset="0.137" stop-color="#484848"/><stop offset="0.223" stop-color="#6e6e6e"/><stop offset="0.309" stop-color="#888888"/><stop offset="0.395" stop-color="#979797"/><stop offset="0.486" stop-color="#9a9a9a"/><stop offset="0.582" stop-color="#909090"/><stop offset="0.685" stop-color="#7a7a7a"/><stop offset="0.798" stop-color="#555555"/><stop offset="0.911" stop-color="#242424"/><stop offset="0.97" stop-color="#040404"/><stop offset="0.977" stop-color="#000000"/><stop offset="0.99" stop-color="#000000"/></linearGradient><clipPath id="cpB"><rect x="208.20" y="24.60" width="105.80" height="65.70"/></clipPath><linearGradient id="g215" x2="0" y2="1"><stop offset="0.009" stop-color="#000000"/><stop offset="0.019" stop-color="#000000"/><stop offset="0.021" stop-color="#060606"/><stop offset="0.066" stop-color="#242424"/><stop offset="0.147" stop-color="#555555"/><stop offset="0.226" stop-color="#797979"/><stop offset="0.302" stop-color="#909090"/><stop offset="0.381" stop-color="#9c9c9c"/><stop offset="0.465" stop-color="#9d9d9d"/><stop offset="0.556" stop-color="#919191"/><stop offset="0.667" stop-color="#747474"/><stop offset="0.859" stop-color="#313131"/><stop offset="0.98" stop-color="#010101"/><stop offset="0.993" stop-color="#000000"/></linearGradient><linearGradient id="g216" x2="0" y2="1"><stop offset="0.009" stop-color="#000000"/><stop offset="0.019" stop-color="#000000"/><stop offset="0.021" stop-color="#060606"/><stop offset="0.058" stop-color="#1f1f1f"/><stop offset="0.14" stop-color="#525252"/><stop offset="0.218" stop-color="#777777"/><stop offset="0.295" stop-color="#909090"/><stop offset="0.374" stop-color="#9d9d9d"/><stop offset="0.455" stop-color="#9e9e9e"/><stop offset="0.544" stop-color="#939393"/><stop offset="0.65" stop-color="#797979"/><stop offset="0.835" stop-color="#393939"/><stop offset="0.985" stop-color="#000000"/><stop offset="0.993" stop-color="#000000"/></linearGradient><linearGradient id="g217" x2="0" y2="1"><stop offset="0.009" stop-color="#000000"/><stop offset="0.019" stop-color="#000000"/><stop offset="0.021" stop-color="#060606"/><stop offset="0.056" stop-color="#1e1e1e"/><stop offset="0.137" stop-color="#525252"/><stop offset="0.214" stop-color="#777777"/><stop offset="0.29" stop-color="#909090"/><stop offset="0.366" stop-color="#9e9e9e"/><stop offset="0.448" stop-color="#a0a0a0"/><stop offset="0.534" stop-color="#959595"/><stop offset="0.638" stop-color="#7c7c7c"/><stop offset="0.818" stop-color="#3e3e3e"/><stop offset="0.985" stop-color="#000000"/><stop offset="0.993" stop-color="#000000"/></linearGradient><linearGradient id="g218" x2="0" y2="1"><stop offset="0.009" stop-color="#000000"/><stop offset="0.019" stop-color="#000000"/><stop offset="0.021" stop-color="#070707"/><stop offset="0.053" stop-color="#1d1d1d"/><stop offset="0.132" stop-color="#505050"/><stop offset="0.209" stop-color="#767676"/><stop offset="0.283" stop-color="#909090"/><stop offset="0.359" stop-color="#9e9e9e"/><stop offset="0.438" stop-color="#a1a1a1"/><stop offset="0.524" stop-color="#979797"/><stop offset="0.625" stop-color="#7f7f7f"/><stop offset="0.795" stop-color="#444444"/><stop offset="0.985" stop-color="#000000"/><stop offset="0.993" stop-color="#000000"/></linearGradient><linearGradient id="g219" x2="0" y2="1"><stop offset="0.009" stop-color="#000000"/><stop offset="0.019" stop-color="#000000"/><stop offset="0.021" stop-color="#070707"/><stop offset="0.051" stop-color="#1b1b1b"/><stop offset="0.13" stop-color="#505050"/><stop offset="0.206" stop-color="#777777"/><stop offset="0.28" stop-color="#919191"/><stop offset="0.357" stop-color="#a0a0a0"/><stop offset="0.435" stop-color="#a2a2a2"/><stop offset="0.519" stop-color="#999999"/><stop offset="0.618" stop-color="#818181"/><stop offset="0.785" stop-color="#464646"/><stop offset="0.985" stop-color="#000000"/><stop offset="0.993" stop-color="#000000"/></linearGradient><linearGradient id="g220" x2="0" y2="1"><stop offset="0.009" stop-color="#000000"/><stop offset="0.019" stop-color="#000000"/><stop offset="0.021" stop-color="#070707"/><stop offset="0.048" stop-color="#1a1a1a"/><stop offset="0.125" stop-color="#4e4e4e"/><stop offset="0.199" stop-color="#757575"/><stop offset="0.273" stop-color="#919191"/><stop offset="0.347" stop-color="#a0a0a0"/><stop offset="0.423" stop-color="#a4a4a4"/><stop offset="0.507" stop-color="#9c9c9c"/><stop offset="0.603" stop-color="#858585"/><stop offset="0.751" stop-color="#525252"/><stop offset="0.941" stop-color="#0e0e0e"/><stop offset="0.988" stop-color="#000000"/><stop offset="0.993" stop-color="#000000"/></linearGradient><linearGradient id="g221" x2="0" y2="1"><stop offset="0.009" stop-color="#000000"/><stop offset="0.019" stop-color="#000000"/><stop offset="0.021" stop-color="#070707"/><stop offset="0.046" stop-color="#181818"/><stop offset="0.122" stop-color="#4e4e4e"/><stop offset="0.196" stop-color="#767676"/><stop offset="0.268" stop-color="#919191"/><stop offset="0.342" stop-color="#a1a1a1"/><stop offset="0.418" stop-color="#a5a5a5"/><stop offset="0.5" stop-color="#9e9e9e"/><stop offset="0.593" stop-color="#888888"/><stop offset="0.734" stop-color="#575757"/><stop offset="0.911" stop-color="#171717"/><stop offset="0.988" stop-color="#000000"/><stop offset="0.993" stop-color="#000000"/></linearGradient><linearGradient id="g222" x2="0" y2="1"><stop offset="0.009" stop-color="#000000"/><stop offset="0.019" stop-color="#000000"/><stop offset="0.021" stop-color="#070707"/><stop offset="0.046" stop-color="#191919"/><stop offset="0.122" stop-color="#4f4f4f"/><stop offset="0.194" stop-color="#767676"/><stop offset="0.265" stop-color="#929292"/><stop offset="0.337" stop-color="#a2a2a2"/><stop offset="0.411" stop-color="#a7a7a7"/><stop offset="0.49" stop-color="#a0a0a0"/><stop offset="0.581" stop-color="#8b8b8b"/><stop offset="0.709" stop-color="#5f5f5f"/><stop offset="0.887" stop-color="#1d1d1d"/><stop offset="0.988" stop-color="#000000"/><stop offset="0.993" stop-color="#000000"/></linearGradient><linearGradient id="g223" x2="0" y2="1"><stop offset="0.009" stop-color="#000000"/><stop offset="0.019" stop-color="#000000"/><stop offset="0.021" stop-color="#070707"/><stop offset="0.043" stop-color="#171717"/><stop offset="0.117" stop-color="#4d4d4d"/><stop offset="0.189" stop-color="#767676"/><stop offset="0.26" stop-color="#939393"/><stop offset="0.332" stop-color="#a3a3a3"/><stop offset="0.406" stop-color="#a9a9a9"/><stop offset="0.485" stop-color="#a2a2a2"/><stop offset="0.573" stop-color="#8d8d8d"/><stop offset="0.697" stop-color="#626262"/><stop offset="0.872" stop-color="#202020"/><stop offset="0.988" stop-color="#000000"/><stop offset="0.993" stop-color="#000000"/></linearGradient><linearGradient id="g224" x2="0" y2="1"><stop offset="0.009" stop-color="#000000"/><stop offset="0.019" stop-color="#000000"/><stop offset="0.021" stop-color="#070707"/><stop offset="0.043" stop-color="#181818"/><stop offset="0.117" stop-color="#4f4f4f"/><stop offset="0.189" stop-color="#787878"/><stop offset="0.258" stop-color="#949494"/><stop offset="0.329" stop-color="#a5a5a5"/><stop offset="0.401" stop-color="#aaaaaa"/><stop offset="0.477" stop-color="#a4a4a4"/><stop offset="0.564" stop-color="#909090"/><stop offset="0.682" stop-color="#676767"/><stop offset="0.859" stop-color="#232323"/><stop offset="0.97" stop-color="#040404"/><stop offset="0.99" stop-color="#000000"/><stop offset="0.993" stop-color="#000000"/></linearGradient><linearGradient id="g225" x2="0" y2="1"><stop offset="0.009" stop-color="#000000"/><stop offset="0.019" stop-color="#000000"/><stop offset="0.021" stop-color="#070707"/><stop offset="0.041" stop-color="#161616"/><stop offset="0.112" stop-color="#4d4d4d"/><stop offset="0.182" stop-color="#767676"/><stop offset="0.251" stop-color="#949494"/><stop offset="0.32" stop-color="#a6a6a6"/><stop offset="0.391" stop-color="#acacac"/><stop offset="0.467" stop-color="#a7a7a7"/><stop offset="0.551" stop-color="#949494"/><stop offset="0.662" stop-color="#6e6e6e"/><stop offset="0.847" stop-color="#252525"/><stop offset="0.948" stop-color="#080808"/><stop offset="0.99" stop-color="#000000"/><stop offset="0.993" stop-color="#000000"/></linearGradient><linearGradient id="g226" x2="0" y2="1"><stop offset="0.009" stop-color="#000000"/><stop offset="0.019" stop-color="#000000"/><stop offset="0.021" stop-color="#080808"/><stop offset="0.041" stop-color="#161616"/><stop offset="0.112" stop-color="#4e4e4e"/><stop offset="0.182" stop-color="#787878"/><stop offset="0.251" stop-color="#969696"/><stop offset="0.32" stop-color="#a8a8a8"/><stop offset="0.391" stop-color="#aeaeae"/><stop offset="0.465" stop-color="#a8a8a8"/><stop offset="0.549" stop-color="#959595"/><stop offset="0.657" stop-color="#6f6f6f"/><stop offset="0.84" stop-color="#252525"/><stop offset="0.936" stop-color="#0a0a0a"/><stop offset="0.99" stop-color="#000000"/><stop offset="0.993" stop-color="#000000"/></linearGradient><linearGradient id="g227" x2="0" y2="1"><stop offset="0.009" stop-color="#000000"/><stop offset="0.019" stop-color="#000000"/><stop offset="0.021" stop-color="#080808"/><stop offset="0.039" stop-color="#151515"/><stop offset="0.11" stop-color="#4e4e4e"/><stop offset="0.179" stop-color="#797979"/><stop offset="0.246" stop-color="#969696"/><stop offset="0.312" stop-color="#a9a9a9"/><stop offset="0.381" stop-color="#b0b0b0"/><stop offset="0.455" stop-color="#ababab"/><stop offset="0.536" stop-color="#999999"/><stop offset="0.638" stop-color="#767676"/><stop offset="0.83" stop-color="#272727"/><stop offset="0.921" stop-color="#0c0c0c"/><stop offset="0.99" stop-color="#000000"/><stop offset="0.993" stop-color="#000000"/></linearGradient><linearGradient id="g228" x2="0" y2="1"><stop offset="0.009" stop-color="#000000"/><stop offset="0.019" stop-color="#000000"/><stop offset="0.021" stop-color="#080808"/><stop offset="0.039" stop-color="#151515"/><stop offset="0.108" stop-color="#4d4d4d"/><stop offset="0.174" stop-color="#787878"/><stop offset="0.241" stop-color="#979797"/><stop offset="0.307" stop-color="#aaaaaa"/><stop offset="0.376" stop-color="#b2b2b2"/><stop offset="0.448" stop-color="#aeaeae"/><stop offset="0.527" stop-color="#9d9d9d"/><stop offset="0.625" stop-color="#7a7a7a"/><stop offset="0.822" stop-color="#272727"/><stop offset="0.911" stop-color="#0c0c0c"/><stop offset="0.988" stop-color="#000000"/><stop offset="0.993" stop-color="#000000"/></linearGradient><linearGradient id="g229" x2="0" y2="1"><stop offset="0.009" stop-color="#000000"/><stop offset="0.019" stop-color="#000000"/><stop offset="0.021" stop-color="#080808"/><stop offset="0.039" stop-color="#161616"/><stop offset="0.108" stop-color="#4f4f4f"/><stop offset="0.174" stop-color="#7a7a7a"/><stop offset="0.241" stop-color="#999999"/><stop offset="0.307" stop-color="#acacac"/><stop offset="0.374" stop-color="#b4b4b4"/><stop offset="0.445" stop-color="#b0b0b0"/><stop offset="0.524" stop-color="#9e9e9e"/><stop offset="0.62" stop-color="#7b7b7b"/><stop offset="0.815" stop-color="#282828"/><stop offset="0.901" stop-color="#0d0d0d"/><stop offset="0.983" stop-color="#000000"/><stop offset="0.993" stop-color="#000000"/></linearGradient><linearGradient id="g230" x2="0" y2="1"><stop offset="0.009" stop-color="#000000"/><stop offset="0.019" stop-color="#000000"/><stop offset="0.021" stop-color="#080808"/><stop offset="0.036" stop-color="#141414"/><stop offset="0.103" stop-color="#4d4d4d"/><stop offset="0.169" stop-color="#797979"/><stop offset="0.233" stop-color="#999999"/><stop offset="0.297" stop-color="#adadad"/><stop offset="0.364" stop-color="#b6b6b6"/><stop offset="0.433" stop-color="#b3b3b3"/><stop offset="0.509" stop-color="#a3a3a3"/><stop offset="0.601" stop-color="#838383"/><stop offset="0.808" stop-color="#282828"/><stop offset="0.891" stop-color="#0e0e0e"/><stop offset="0.968" stop-color="#010101"/><stop offset="0.993" stop-color="#000000"/></linearGradient><linearGradient id="g231" x2="0" y2="1"><stop offset="0.009" stop-color="#000000"/><stop offset="0.019" stop-color="#000000"/><stop offset="0.021" stop-color="#080808"/><stop offset="0.036" stop-color="#141414"/><stop offset="0.103" stop-color="#4e4e4e"/><stop offset="0.167" stop-color="#7a7a7a"/><stop offset="0.231" stop-color="#9a9a9a"/><stop offset="0.295" stop-color="#afafaf"/><stop offset="0.361" stop-color="#b8b8b8"/><stop offset="0.43" stop-color="#b5b5b5"/><stop offset="0.504" stop-color="#a6a6a6"/><stop offset="0.593" stop-color="#868686"/><stop offset="0.803" stop-color="#272727"/><stop offset="0.884" stop-color="#0d0d0d"/><stop offset="0.958" stop-color="#010101"/><stop offset="0.993" stop-color="#000000"/></linearGradient><linearGradient id="g232" x2="0" y2="1"><stop offset="0.009" stop-color="#000000"/><stop offset="0.019" stop-color="#000000"/><stop offset="0.021" stop-color="#090909"/><stop offset="0.036" stop-color="#151515"/><stop offset="0.1" stop-color="#4e4e4e"/><stop offset="0.164" stop-color="#7b7b7b"/><stop offset="0.228" stop-color="#9c9c9c"/><stop offset="0.292" stop-color="#b1b1b1"/><stop offset="0.357" stop-color="#bababa"/><stop offset="0.423" stop-color="#b8b8b8"/><stop offset="0.495" stop-color="#a9a9a9"/><stop offset="0.578" stop-color="#8c8c8c"/><stop offset="0.795" stop-color="#272727"/><stop offset="0.874" stop-color="#0e0e0e"/><stop offset="0.946" stop-color="#020202"/><stop offset="0.993" stop-color="#000000"/></linearGradient><linearGradient id="g233" x2="0" y2="1"><stop offset="0.009" stop-color="#000000"/><stop offset="0.019" stop-color="#000000"/><stop offset="0.021" stop-color="#090909"/><stop offset="0.036" stop-color="#151515"/><stop offset="0.1" stop-color="#4f4f4f"/><stop offset="0.162" stop-color="#7b7b7b"/><stop offset="0.223" stop-color="#9c9c9c"/><stop offset="0.285" stop-color="#b2b2b2"/><stop offset="0.349" stop-color="#bcbcbc"/><stop offset="0.416" stop-color="#bbbbbb"/><stop offset="0.487" stop-color="#adadad"/><stop offset="0.569" stop-color="#909090"/><stop offset="0.79" stop-color="#272727"/><stop offset="0.864" stop-color="#0e0e0e"/><stop offset="0.936" stop-color="#020202"/><stop offset="0.993" stop-color="#000000"/></linearGradient><linearGradient id="g234" x2="0" y2="1"><stop offset="0.009" stop-color="#000000"/><stop offset="0.019" stop-color="#000000"/><stop offset="0.021" stop-color="#090909"/><stop offset="0.034" stop-color="#131313"/><stop offset="0.095" stop-color="#4d4d4d"/><stop offset="0.157" stop-color="#7b7b7b"/><stop offset="0.218" stop-color="#9d9d9d"/><stop offset="0.28" stop-color="#b3b3b3"/><stop offset="0.344" stop-color="#bebebe"/><stop offset="0.408" stop-color="#bdbdbd"/><stop offset="0.477" stop-color="#b0b0b0"/><stop offset="0.556" stop-color="#959595"/><stop offset="0.677" stop-color="#5a5a5a"/><stop offset="0.788" stop-color="#242424"/><stop offset="0.859" stop-color="#0c0c0c"/><stop offset="0.928" stop-color="#010101"/><stop offset="0.993" stop-color="#000000"/></linearGradient><linearGradient id="g235" x2="0" y2="1"><stop offset="0.009" stop-color="#000000"/><stop offset="0.019" stop-color="#000000"/><stop offset="0.021" stop-color="#090909"/><stop offset="0.034" stop-color="#131313"/><stop offset="0.095" stop-color="#4e4e4e"/><stop offset="0.157" stop-color="#7d7d7d"/><stop offset="0.218" stop-color="#9f9f9f"/><stop offset="0.28" stop-color="#b6b6b6"/><stop offset="0.342" stop-color="#c1c1c1"/><stop offset="0.406" stop-color="#c0c0c0"/><stop offset="0.475" stop-color="#b2b2b2"/><stop offset="0.551" stop-color="#979797"/><stop offset="0.665" stop-color="#5e5e5e"/><stop offset="0.778" stop-color="#252525"/><stop offset="0.847" stop-color="#0d0d0d"/><stop offset="0.914" stop-color="#010101"/><stop offset="0.993" stop-color="#000000"/></linearGradient><linearGradient id="g236" x2="0" y2="1"><stop offset="0.009" stop-color="#000000"/><stop offset="0.019" stop-color="#000000"/><stop offset="0.021" stop-color="#090909"/><stop offset="0.034" stop-color="#141414"/><stop offset="0.093" stop-color="#4d4d4d"/><stop offset="0.152" stop-color="#7c7c7c"/><stop offset="0.211" stop-color="#9e9e9e"/><stop offset="0.27" stop-color="#b6b6b6"/><stop offset="0.332" stop-color="#c2c2c2"/><stop offset="0.394" stop-color="#c3c3c3"/><stop offset="0.46" stop-color="#b8b8b8"/><stop offset="0.534" stop-color="#9e9e9e"/><stop offset="0.63" stop-color="#6f6f6f"/><stop offset="0.766" stop-color="#272727"/><stop offset="0.835" stop-color="#0c0c0c"/><stop offset="0.899" stop-color="#000000"/><stop offset="0.993" stop-color="#000000"/></linearGradient><linearGradient id="g237" x2="0" y2="1"><stop offset="0.009" stop-color="#000000"/><stop offset="0.019" stop-color="#000000"/><stop offset="0.021" stop-color="#0a0a0a"/><stop offset="0.034" stop-color="#141414"/><stop offset="0.093" stop-color="#4f4f4f"/><stop offset="0.152" stop-color="#7e7e7e"/><stop offset="0.211" stop-color="#a1a1a1"/><stop offset="0.27" stop-color="#b9b9b9"/><stop offset="0.329" stop-color="#c5c5c5"/><stop offset="0.391" stop-color="#c5c5c5"/><stop offset="0.455" stop-color="#bababa"/><stop offset="0.527" stop-color="#a1a1a1"/><stop offset="0.618" stop-color="#737373"/><stop offset="0.758" stop-color="#262626"/><stop offset="0.825" stop-color="#0b0b0b"/><stop offset="0.877" stop-color="#000000"/><stop offset="0.993" stop-color="#000000"/></linearGradient><linearGradient id="g238" x2="0" y2="1"><stop offset="0.009" stop-color="#000000"/><stop offset="0.019" stop-color="#000000"/><stop offset="0.021" stop-color="#0a0a0a"/><stop offset="0.034" stop-color="#151515"/><stop offset="0.093" stop-color="#505050"/><stop offset="0.152" stop-color="#808080"/><stop offset="0.211" stop-color="#a4a4a4"/><stop offset="0.27" stop-color="#bcbcbc"/><stop offset="0.329" stop-color="#c7c7c7"/><stop offset="0.391" stop-color="#c8c8c8"/><stop offset="0.455" stop-color="#bcbcbc"/><stop offset="0.524" stop-color="#a2a2a2"/><stop offset="0.613" stop-color="#747474"/><stop offset="0.753" stop-color="#232323"/><stop offset="0.818" stop-color="#090909"/><stop offset="0.852" stop-color="#000000"/><stop offset="0.993" stop-color="#000000"/></linearGradient><linearGradient id="g239" x2="0" y2="1"><stop offset="0.009" stop-color="#000000"/><stop offset="0.019" stop-color="#000000"/><stop offset="0.021" stop-color="#0a0a0a"/><stop offset="0.031" stop-color="#121212"/><stop offset="0.088" stop-color="#4d4d4d"/><stop offset="0.145" stop-color="#7d7d7d"/><stop offset="0.201" stop-color="#a1a1a1"/><stop offset="0.258" stop-color="#bababa"/><stop offset="0.317" stop-color="#c9c9c9"/><stop offset="0.376" stop-color="#cbcbcb"/><stop offset="0.438" stop-color="#c2c2c2"/><stop offset="0.504" stop-color="#ababab"/><stop offset="0.583" stop-color="#838383"/><stop offset="0.748" stop-color="#212121"/><stop offset="0.81" stop-color="#050505"/><stop offset="0.83" stop-color="#000000"/><stop offset="0.993" stop-color="#000000"/></linearGradient><linearGradient id="g240" x2="0" y2="1"><stop offset="0.009" stop-color="#000000"/><stop offset="0.019" stop-color="#000000"/><stop offset="0.021" stop-color="#0a0a0a"/><stop offset="0.031" stop-color="#131313"/><stop offset="0.088" stop-color="#4f4f4f"/><stop offset="0.145" stop-color="#7f7f7f"/><stop offset="0.201" stop-color="#a4a4a4"/><stop offset="0.258" stop-color="#bdbdbd"/><stop offset="0.315" stop-color="#cbcbcb"/><stop offset="0.374" stop-color="#cdcdcd"/><stop offset="0.435" stop-color="#c4c4c4"/><stop offset="0.5" stop-color="#aeaeae"/><stop offset="0.576" stop-color="#868686"/><stop offset="0.746" stop-color="#1c1c1c"/><stop offset="0.803" stop-color="#000000"/><stop offset="0.993" stop-color="#000000"/></linearGradient><linearGradient id="g241" x2="0" y2="1"><stop offset="0.009" stop-color="#000000"/><stop offset="0.019" stop-color="#000000"/><stop offset="0.021" stop-color="#0a0a0a"/><stop offset="0.031" stop-color="#131313"/><stop offset="0.085" stop-color="#4e4e4e"/><stop offset="0.142" stop-color="#808080"/><stop offset="0.199" stop-color="#a6a6a6"/><stop offset="0.255" stop-color="#bfbfbf"/><stop offset="0.312" stop-color="#cdcdcd"/><stop offset="0.371" stop-color="#d0d0d0"/><stop offset="0.43" stop-color="#c7c7c7"/><stop offset="0.495" stop-color="#b0b0b0"/><stop offset="0.569" stop-color="#898989"/><stop offset="0.744" stop-color="#161616"/><stop offset="0.778" stop-color="#030303"/><stop offset="0.798" stop-color="#000000"/><stop offset="0.993" stop-color="#000000"/></linearGradient><linearGradient id="g242" x2="0" y2="1"><stop offset="0.009" stop-color="#000000"/><stop offset="0.019" stop-color="#000000"/><stop offset="0.021" stop-color="#0b0b0b"/><stop offset="0.031" stop-color="#131313"/><stop offset="0.085" stop-color="#505050"/><stop offset="0.14" stop-color="#808080"/><stop offset="0.194" stop-color="#a5a5a5"/><stop offset="0.251" stop-color="#c0c0c0"/><stop offset="0.307" stop-color="#cfcfcf"/><stop offset="0.364" stop-color="#d3d3d3"/><stop offset="0.423" stop-color="#cacaca"/><stop offset="0.485" stop-color="#b5b5b5"/><stop offset="0.554" stop-color="#909090"/><stop offset="0.655" stop-color="#4b4b4b"/><stop offset="0.746" stop-color="#0c0c0c"/><stop offset="0.768" stop-color="#000000"/><stop offset="0.993" stop-color="#000000"/></linearGradient><linearGradient id="g243" x2="0" y2="1"><stop offset="0.009" stop-color="#000000"/><stop offset="0.019" stop-color="#000000"/><stop offset="0.021" stop-color="#0b0b0b"/><stop offset="0.031" stop-color="#141414"/><stop offset="0.085" stop-color="#515151"/><stop offset="0.14" stop-color="#828282"/><stop offset="0.194" stop-color="#a8a8a8"/><stop offset="0.248" stop-color="#c2c2c2"/><stop offset="0.305" stop-color="#d2d2d2"/><stop offset="0.361" stop-color="#d5d5d5"/><stop offset="0.418" stop-color="#cdcdcd"/><stop offset="0.477" stop-color="#b8b8b8"/><stop offset="0.544" stop-color="#959595"/><stop offset="0.633" stop-color="#565656"/><stop offset="0.744" stop-color="#040404"/><stop offset="0.753" stop-color="#000000"/><stop offset="0.993" stop-color="#000000"/></linearGradient><linearGradient id="g244" x2="0" y2="1"><stop offset="0.009" stop-color="#000000"/><stop offset="0.019" stop-color="#000000"/><stop offset="0.021" stop-color="#0b0b0b"/><stop offset="0.031" stop-color="#141414"/><stop offset="0.083" stop-color="#505050"/><stop offset="0.137" stop-color="#838383"/><stop offset="0.191" stop-color="#a9a9a9"/><stop offset="0.246" stop-color="#c4c4c4"/><stop offset="0.3" stop-color="#d4d4d4"/><stop offset="0.354" stop-color="#d8d8d8"/><stop offset="0.411" stop-color="#d0d0d0"/><stop offset="0.47" stop-color="#bcbcbc"/><stop offset="0.534" stop-color="#999999"/><stop offset="0.613" stop-color="#616161"/><stop offset="0.734" stop-color="#010101"/><stop offset="0.993" stop-color="#000000"/></linearGradient><linearGradient id="g245" x2="0" y2="1"><stop offset="0.009" stop-color="#000000"/><stop offset="0.019" stop-color="#000000"/><stop offset="0.021" stop-color="#0b0b0b"/><stop offset="0.031" stop-color="#141414"/><stop offset="0.083" stop-color="#515151"/><stop offset="0.135" stop-color="#838383"/><stop offset="0.186" stop-color="#a9a9a9"/><stop offset="0.241" stop-color="#c5c5c5"/><stop offset="0.295" stop-color="#d6d6d6"/><stop offset="0.349" stop-color="#dadada"/><stop offset="0.403" stop-color="#d4d4d4"/><stop offset="0.46" stop-color="#c1c1c1"/><stop offset="0.519" stop-color="#a1a1a1"/><stop offset="0.588" stop-color="#707070"/><stop offset="0.719" stop-color="#010101"/><stop offset="0.993" stop-color="#000000"/></linearGradient><linearGradient id="g246" x2="0" y2="1"><stop offset="0.009" stop-color="#000000"/><stop offset="0.019" stop-color="#000000"/><stop offset="0.021" stop-color="#0b0b0b"/><stop offset="0.031" stop-color="#151515"/><stop offset="0.083" stop-color="#535353"/><stop offset="0.135" stop-color="#858585"/><stop offset="0.186" stop-color="#ababab"/><stop offset="0.238" stop-color="#c7c7c7"/><stop offset="0.292" stop-color="#d8d8d8"/><stop offset="0.347" stop-color="#dddddd"/><stop offset="0.401" stop-color="#d6d6d6"/><stop offset="0.455" stop-color="#c4c4c4"/><stop offset="0.512" stop-color="#a5a5a5"/><stop offset="0.578" stop-color="#747474"/><stop offset="0.689" stop-color="#101010"/><stop offset="0.704" stop-color="#010101"/><stop offset="0.993" stop-color="#000000"/></linearGradient><linearGradient id="g247" x2="0" y2="1"><stop offset="0.009" stop-color="#000000"/><stop offset="0.019" stop-color="#000000"/><stop offset="0.021" stop-color="#0c0c0c"/><stop offset="0.031" stop-color="#151515"/><stop offset="0.08" stop-color="#515151"/><stop offset="0.132" stop-color="#858585"/><stop offset="0.184" stop-color="#acacac"/><stop offset="0.236" stop-color="#c8c8c8"/><stop offset="0.29" stop-color="#dadada"/><stop offset="0.342" stop-color="#dfdfdf"/><stop offset="0.396" stop-color="#d9d9d9"/><stop offset="0.45" stop-color="#c6c6c6"/><stop offset="0.507" stop-color="#a7a7a7"/><stop offset="0.569" stop-color="#787878"/><stop offset="0.652" stop-color="#2a2a2a"/><stop offset="0.687" stop-color="#060606"/><stop offset="0.692" stop-color="#000000"/><stop offset="0.993" stop-color="#000000"/></linearGradient><linearGradient id="g248" x2="0" y2="1"><stop offset="0.009" stop-color="#000000"/><stop offset="0.019" stop-color="#000000"/><stop offset="0.021" stop-color="#0c0c0c"/><stop offset="0.031" stop-color="#161616"/><stop offset="0.08" stop-color="#535353"/><stop offset="0.132" stop-color="#878787"/><stop offset="0.184" stop-color="#afafaf"/><stop offset="0.236" stop-color="#cbcbcb"/><stop offset="0.288" stop-color="#dcdcdc"/><stop offset="0.339" stop-color="#e1e1e1"/><stop offset="0.391" stop-color="#dcdcdc"/><stop offset="0.443" stop-color="#cacaca"/><stop offset="0.497" stop-color="#adadad"/><stop offset="0.554" stop-color="#818181"/><stop offset="0.625" stop-color="#3d3d3d"/><stop offset="0.682" stop-color="#010101"/><stop offset="0.993" stop-color="#000000"/></linearGradient><linearGradient id="g249" x2="0" y2="1"><stop offset="0.009" stop-color="#000000"/><stop offset="0.019" stop-color="#000000"/><stop offset="0.021" stop-color="#0c0c0c"/><stop offset="0.031" stop-color="#161616"/><stop offset="0.08" stop-color="#545454"/><stop offset="0.13" stop-color="#868686"/><stop offset="0.182" stop-color="#afafaf"/><stop offset="0.233" stop-color="#cdcdcd"/><stop offset="0.285" stop-color="#dedede"/><stop offset="0.337" stop-color="#e4e4e4"/><stop offset="0.389" stop-color="#dedede"/><stop offset="0.44" stop-color="#cccccc"/><stop offset="0.492" stop-color="#afafaf"/><stop offset="0.546" stop-color="#848484"/><stop offset="0.61" stop-color="#454545"/><stop offset="0.67" stop-color="#040404"/><stop offset="0.682" stop-color="#000000"/><stop offset="0.993" stop-color="#000000"/></linearGradient><linearGradient id="g250" x2="0" y2="1"><stop offset="0.009" stop-color="#000000"/><stop offset="0.019" stop-color="#000000"/><stop offset="0.021" stop-color="#0c0c0c"/><stop offset="0.031" stop-color="#161616"/><stop offset="0.078" stop-color="#525252"/><stop offset="0.127" stop-color="#868686"/><stop offset="0.177" stop-color="#aeaeae"/><stop offset="0.228" stop-color="#cdcdcd"/><stop offset="0.28" stop-color="#dfdfdf"/><stop offset="0.332" stop-color="#e6e6e6"/><stop offset="0.384" stop-color="#e1e1e1"/><stop offset="0.433" stop-color="#d0d0d0"/><stop offset="0.482" stop-color="#b5b5b5"/><stop offset="0.534" stop-color="#8c8c8c"/><stop offset="0.591" stop-color="#535353"/><stop offset="0.647" stop-color="#121212"/><stop offset="0.66" stop-color="#010101"/><stop offset="0.993" stop-color="#000000"/></linearGradient><linearGradient id="g251" x2="0" y2="1"><stop offset="0.009" stop-color="#000000"/><stop offset="0.019" stop-color="#000000"/><stop offset="0.021" stop-color="#0c0c0c"/><stop offset="0.031" stop-color="#171717"/><stop offset="0.078" stop-color="#545454"/><stop offset="0.127" stop-color="#888888"/><stop offset="0.177" stop-color="#b1b1b1"/><stop offset="0.228" stop-color="#cfcfcf"/><stop offset="0.28" stop-color="#e2e2e2"/><stop offset="0.332" stop-color="#e8e8e8"/><stop offset="0.381" stop-color="#e3e3e3"/><stop offset="0.43" stop-color="#d2d2d2"/><stop offset="0.48" stop-color="#b6b6b6"/><stop offset="0.529" stop-color="#8e8e8e"/><stop offset="0.583" stop-color="#555555"/><stop offset="0.642" stop-color="#0c0c0c"/><stop offset="0.652" stop-color="#010101"/><stop offset="0.993" stop-color="#000000"/></linearGradient><linearGradient id="g252" x2="0" y2="1"><stop offset="0.009" stop-color="#000000"/><stop offset="0.019" stop-color="#000000"/><stop offset="0.021" stop-color="#0d0d0d"/><stop offset="0.031" stop-color="#171717"/><stop offset="0.078" stop-color="#555555"/><stop offset="0.127" stop-color="#8a8a8a"/><stop offset="0.177" stop-color="#b3b3b3"/><stop offset="0.228" stop-color="#d1d1d1"/><stop offset="0.28" stop-color="#e4e4e4"/><stop offset="0.329" stop-color="#eaeaea"/><stop offset="0.379" stop-color="#e5e5e5"/><stop offset="0.428" stop-color="#d4d4d4"/><stop offset="0.475" stop-color="#b8b8b8"/><stop offset="0.522" stop-color="#929292"/><stop offset="0.571" stop-color="#5d5d5d"/><stop offset="0.63" stop-color="#121212"/><stop offset="0.64" stop-color="#040404"/><stop offset="0.65" stop-color="#000000"/><stop offset="0.993" stop-color="#000000"/></linearGradient><linearGradient id="g253" x2="0" y2="1"><stop offset="0.009" stop-color="#000000"/><stop offset="0.019" stop-color="#000000"/><stop offset="0.021" stop-color="#0d0d0d"/><stop offset="0.029" stop-color="#141414"/><stop offset="0.076" stop-color="#535353"/><stop offset="0.122" stop-color="#868686"/><stop offset="0.172" stop-color="#b1b1b1"/><stop offset="0.221" stop-color="#d0d0d0"/><stop offset="0.27" stop-color="#e4e4e4"/><stop offset="0.32" stop-color="#ececec"/><stop offset="0.369" stop-color="#e8e8e8"/><stop offset="0.416" stop-color="#dadada"/><stop offset="0.463" stop-color="#c0c0c0"/><stop offset="0.509" stop-color="#9b9b9b"/><stop offset="0.556" stop-color="#696969"/><stop offset="0.608" stop-color="#262626"/><stop offset="0.625" stop-color="#0d0d0d"/><stop offset="0.63" stop-color="#020202"/><stop offset="0.635" stop-color="#000000"/><stop offset="0.993" stop-color="#000000"/></linearGradient><linearGradient id="g254" x2="0" y2="1"><stop offset="0.009" stop-color="#000000"/><stop offset="0.019" stop-color="#000000"/><stop offset="0.021" stop-color="#0d0d0d"/><stop offset="0.029" stop-color="#141414"/><stop offset="0.076" stop-color="#545454"/><stop offset="0.122" stop-color="#888888"/><stop offset="0.172" stop-color="#b3b3b3"/><stop offset="0.221" stop-color="#d2d2d2"/><stop offset="0.27" stop-color="#e6e6e6"/><stop offset="0.32" stop-color="#eeeeee"/><stop offset="0.369" stop-color="#eaeaea"/><stop offset="0.416" stop-color="#dbdbdb"/><stop offset="0.46" stop-color="#c2c2c2"/><stop offset="0.504" stop-color="#9d9d9d"/><stop offset="0.549" stop-color="#6d6d6d"/><stop offset="0.596" stop-color="#2e2e2e"/><stop offset="0.618" stop-color="#0c0c0c"/><stop offset="0.623" stop-color="#020202"/><stop offset="0.63" stop-color="#000000"/><stop offset="0.993" stop-color="#000000"/></linearGradient><linearGradient id="g255" x2="0" y2="1"><stop offset="0.009" stop-color="#000000"/><stop offset="0.019" stop-color="#000000"/><stop offset="0.021" stop-color="#0d0d0d"/><stop offset="0.029" stop-color="#141414"/><stop offset="0.073" stop-color="#525252"/><stop offset="0.12" stop-color="#878787"/><stop offset="0.169" stop-color="#b3b3b3"/><stop offset="0.218" stop-color="#d3d3d3"/><stop offset="0.268" stop-color="#e7e7e7"/><stop offset="0.317" stop-color="#efefef"/><stop offset="0.364" stop-color="#ececec"/><stop offset="0.411" stop-color="#dedede"/><stop offset="0.455" stop-color="#c5c5c5"/><stop offset="0.497" stop-color="#a2a2a2"/><stop offset="0.539" stop-color="#747474"/><stop offset="0.581" stop-color="#3c3c3c"/><stop offset="0.61" stop-color="#0d0d0d"/><stop offset="0.615" stop-color="#020202"/><stop offset="0.623" stop-color="#000000"/><stop offset="0.993" stop-color="#000000"/></linearGradient><linearGradient id="g256" x2="0" y2="1"><stop offset="0.009" stop-color="#000000"/><stop offset="0.019" stop-color="#000000"/><stop offset="0.021" stop-color="#0d0d0d"/><stop offset="0.029" stop-color="#141414"/><stop offset="0.073" stop-color="#525252"/><stop offset="0.12" stop-color="#888888"/><stop offset="0.167" stop-color="#b2b2b2"/><stop offset="0.216" stop-color="#d3d3d3"/><stop offset="0.265" stop-color="#e8e8e8"/><stop offset="0.315" stop-color="#f1f1f1"/><stop offset="0.361" stop-color="#eeeeee"/><stop offset="0.408" stop-color="#e0e0e0"/><stop offset="0.453" stop-color="#c6c6c6"/><stop offset="0.495" stop-color="#a3a3a3"/><stop offset="0.536" stop-color="#737373"/><stop offset="0.576" stop-color="#3b3b3b"/><stop offset="0.603" stop-color="#0e0e0e"/><stop offset="0.608" stop-color="#020202"/><stop offset="0.615" stop-color="#000000"/><stop offset="0.993" stop-color="#000000"/></linearGradient><linearGradient id="g257" x2="0" y2="1"><stop offset="0.009" stop-color="#000000"/><stop offset="0.019" stop-color="#000000"/><stop offset="0.021" stop-color="#0d0d0d"/><stop offset="0.029" stop-color="#151515"/><stop offset="0.073" stop-color="#535353"/><stop offset="0.12" stop-color="#898989"/><stop offset="0.167" stop-color="#b4b4b4"/><stop offset="0.216" stop-color="#d5d5d5"/><stop offset="0.265" stop-color="#eaeaea"/><stop offset="0.315" stop-color="#f3f3f3"/><stop offset="0.361" stop-color="#efefef"/><stop offset="0.406" stop-color="#e1e1e1"/><stop offset="0.448" stop-color="#c9c9c9"/><stop offset="0.49" stop-color="#a6a6a6"/><stop offset="0.529" stop-color="#797979"/><stop offset="0.566" stop-color="#444444"/><stop offset="0.593" stop-color="#161616"/><stop offset="0.601" stop-color="#020202"/><stop offset="0.606" stop-color="#000000"/><stop offset="0.993" stop-color="#000000"/></linearGradient><linearGradient id="g258" x2="0" y2="1"><stop offset="0.009" stop-color="#000000"/><stop offset="0.019" stop-color="#000000"/><stop offset="0.021" stop-color="#0e0e0e"/><stop offset="0.029" stop-color="#151515"/><stop offset="0.073" stop-color="#545454"/><stop offset="0.12" stop-color="#8a8a8a"/><stop offset="0.167" stop-color="#b5b5b5"/><stop offset="0.214" stop-color="#d5d5d5"/><stop offset="0.263" stop-color="#ebebeb"/><stop offset="0.31" stop-color="#f4f4f4"/><stop offset="0.357" stop-color="#f2f2f2"/><stop offset="0.401" stop-color="#e4e4e4"/><stop offset="0.443" stop-color="#cdcdcd"/><stop offset="0.482" stop-color="#acacac"/><stop offset="0.519" stop-color="#828282"/><stop offset="0.556" stop-color="#4d4d4d"/><stop offset="0.586" stop-color="#191919"/><stop offset="0.596" stop-color="#060606"/><stop offset="0.603" stop-color="#000000"/><stop offset="0.993" stop-color="#000000"/></linearGradient><linearGradient id="g259" x2="0" y2="1"><stop offset="0.009" stop-color="#000000"/><stop offset="0.019" stop-color="#000000"/><stop offset="0.021" stop-color="#0e0e0e"/><stop offset="0.029" stop-color="#151515"/><stop offset="0.073" stop-color="#555555"/><stop offset="0.12" stop-color="#8b8b8b"/><stop offset="0.167" stop-color="#b6b6b6"/><stop offset="0.214" stop-color="#d6d6d6"/><stop offset="0.263" stop-color="#ececec"/><stop offset="0.31" stop-color="#f5f5f5"/><stop offset="0.357" stop-color="#f3f3f3"/><stop offset="0.401" stop-color="#e5e5e5"/><stop offset="0.443" stop-color="#cdcdcd"/><stop offset="0.482" stop-color="#aaaaaa"/><stop offset="0.519" stop-color="#7f7f7f"/><stop offset="0.556" stop-color="#474747"/><stop offset="0.578" stop-color="#202020"/><stop offset="0.586" stop-color="#0c0c0c"/><stop offset="0.593" stop-color="#010101"/><stop offset="0.993" stop-color="#000000"/></linearGradient><linearGradient id="g260" x2="0" y2="1"><stop offset="0.009" stop-color="#000000"/><stop offset="0.019" stop-color="#000000"/><stop offset="0.021" stop-color="#0e0e0e"/><stop offset="0.029" stop-color="#151515"/><stop offset="0.073" stop-color="#555555"/><stop offset="0.117" stop-color="#8a8a8a"/><stop offset="0.164" stop-color="#b5b5b5"/><stop offset="0.211" stop-color="#d6d6d6"/><stop offset="0.258" stop-color="#ebebeb"/><stop offset="0.305" stop-color="#f6f6f6"/><stop offset="0.352" stop-color="#f4f4f4"/><stop offset="0.396" stop-color="#e8e8e8"/><stop offset="0.438" stop-color="#d0d0d0"/><stop offset="0.477" stop-color="#aeaeae"/><stop offset="0.512" stop-color="#868686"/><stop offset="0.546" stop-color="#525252"/><stop offset="0.578" stop-color="#171717"/><stop offset="0.586" stop-color="#020202"/><stop offset="0.593" stop-color="#000000"/><stop offset="0.993" stop-color="#000000"/></linearGradient><linearGradient id="g261" x2="0" y2="1"><stop offset="0.009" stop-color="#000000"/><stop offset="0.019" stop-color="#000000"/><stop offset="0.021" stop-color="#0e0e0e"/><stop offset="0.029" stop-color="#151515"/><stop offset="0.073" stop-color="#555555"/><stop offset="0.117" stop-color="#8a8a8a"/><stop offset="0.164" stop-color="#b6b6b6"/><stop offset="0.211" stop-color="#d7d7d7"/><stop offset="0.258" stop-color="#ededed"/><stop offset="0.305" stop-color="#f7f7f7"/><stop offset="0.352" stop-color="#f5f5f5"/><stop offset="0.396" stop-color="#e8e8e8"/><stop offset="0.438" stop-color="#d0d0d0"/><stop offset="0.475" stop-color="#b0b0b0"/><stop offset="0.509" stop-color="#878787"/><stop offset="0.541" stop-color="#565656"/><stop offset="0.578" stop-color="#111111"/><stop offset="0.586" stop-color="#020202"/><stop offset="0.684" stop-color="#000000"/><stop offset="0.993" stop-color="#000000"/></linearGradient><linearGradient id="g262" x2="0" y2="1"><stop offset="0.009" stop-color="#000000"/><stop offset="0.019" stop-color="#000000"/><stop offset="0.021" stop-color="#0e0e0e"/><stop offset="0.029" stop-color="#151515"/><stop offset="0.073" stop-color="#565656"/><stop offset="0.117" stop-color="#8b8b8b"/><stop offset="0.164" stop-color="#b7b7b7"/><stop offset="0.211" stop-color="#d8d8d8"/><stop offset="0.258" stop-color="#ededed"/><stop offset="0.305" stop-color="#f8f8f8"/><stop offset="0.352" stop-color="#f6f6f6"/><stop offset="0.396" stop-color="#e9e9e9"/><stop offset="0.435" stop-color="#d2d2d2"/><stop offset="0.472" stop-color="#b2b2b2"/><stop offset="0.504" stop-color="#8c8c8c"/><stop offset="0.534" stop-color="#606060"/><stop offset="0.566" stop-color="#242424"/><stop offset="0.573" stop-color="#121212"/><stop offset="0.578" stop-color="#020202"/><stop offset="0.583" stop-color="#000000"/><stop offset="0.993" stop-color="#000000"/></linearGradient><linearGradient id="g263" x2="0" y2="1"><stop offset="0.009" stop-color="#000000"/><stop offset="0.019" stop-color="#000000"/><stop offset="0.021" stop-color="#0e0e0e"/><stop offset="0.029" stop-color="#151515"/><stop offset="0.073" stop-color="#565656"/><stop offset="0.117" stop-color="#8b8b8b"/><stop offset="0.164" stop-color="#b8b8b8"/><stop offset="0.211" stop-color="#d8d8d8"/><stop offset="0.258" stop-color="#eeeeee"/><stop offset="0.305" stop-color="#f8f8f8"/><stop offset="0.349" stop-color="#f7f7f7"/><stop offset="0.394" stop-color="#eaeaea"/><stop offset="0.433" stop-color="#d4d4d4"/><stop offset="0.47" stop-color="#b4b4b4"/><stop offset="0.504" stop-color="#8b8b8b"/><stop offset="0.534" stop-color="#5e5e5e"/><stop offset="0.559" stop-color="#2e2e2e"/><stop offset="0.578" stop-color="#020202"/><stop offset="0.61" stop-color="#000000"/><stop offset="0.993" stop-color="#000000"/></linearGradient><linearGradient id="g264" x2="0" y2="1"><stop offset="0.009" stop-color="#000000"/><stop offset="0.019" stop-color="#000000"/><stop offset="0.021" stop-color="#0e0e0e"/><stop offset="0.029" stop-color="#151515"/><stop offset="0.071" stop-color="#535353"/><stop offset="0.115" stop-color="#898989"/><stop offset="0.162" stop-color="#b6b6b6"/><stop offset="0.209" stop-color="#d7d7d7"/><stop offset="0.255" stop-color="#eeeeee"/><stop offset="0.302" stop-color="#f8f8f8"/><stop offset="0.349" stop-color="#f7f7f7"/><stop offset="0.394" stop-color="#eaeaea"/><stop offset="0.433" stop-color="#d4d4d4"/><stop offset="0.47" stop-color="#b4b4b4"/><stop offset="0.502" stop-color="#8e8e8e"/><stop offset="0.532" stop-color="#606060"/><stop offset="0.556" stop-color="#313131"/><stop offset="0.564" stop-color="#202020"/><stop offset="0.571" stop-color="#030303"/><stop offset="0.576" stop-color="#000000"/><stop offset="0.993" stop-color="#000000"/></linearGradient><linearGradient id="g265" x2="0" y2="1"><stop offset="0.009" stop-color="#000000"/><stop offset="0.019" stop-color="#000000"/><stop offset="0.021" stop-color="#0e0e0e"/><stop offset="0.029" stop-color="#151515"/><stop offset="0.071" stop-color="#535353"/><stop offset="0.115" stop-color="#898989"/><stop offset="0.162" stop-color="#b6b6b6"/><stop offset="0.209" stop-color="#d8d8d8"/><stop offset="0.255" stop-color="#eeeeee"/><stop offset="0.302" stop-color="#f9f9f9"/><stop offset="0.347" stop-color="#f8f8f8"/><stop offset="0.391" stop-color="#ececec"/><stop offset="0.43" stop-color="#d6d6d6"/><stop offset="0.467" stop-color="#b6b6b6"/><stop offset="0.5" stop-color="#919191"/><stop offset="0.529" stop-color="#636363"/><stop offset="0.554" stop-color="#333333"/><stop offset="0.564" stop-color="#1d1d1d"/><stop offset="0.571" stop-color="#020202"/><stop offset="0.576" stop-color="#000000"/><stop offset="0.993" stop-color="#000000"/></linearGradient><linearGradient id="g266" x2="0" y2="1"><stop offset="0.009" stop-color="#000000"/><stop offset="0.019" stop-color="#000000"/><stop offset="0.021" stop-color="#0e0e0e"/><stop offset="0.029" stop-color="#151515"/><stop offset="0.071" stop-color="#535353"/><stop offset="0.115" stop-color="#898989"/><stop offset="0.162" stop-color="#b6b6b6"/><stop offset="0.209" stop-color="#d8d8d8"/><stop offset="0.255" stop-color="#eeeeee"/><stop offset="0.302" stop-color="#f9f9f9"/><stop offset="0.349" stop-color="#f8f8f8"/><stop offset="0.394" stop-color="#ebebeb"/><stop offset="0.433" stop-color="#d4d4d4"/><stop offset="0.47" stop-color="#b4b4b4"/><stop offset="0.502" stop-color="#8e8e8e"/><stop offset="0.529" stop-color="#636363"/><stop offset="0.554" stop-color="#323232"/><stop offset="0.564" stop-color="#1c1c1c"/><stop offset="0.571" stop-color="#020202"/><stop offset="0.576" stop-color="#000000"/><stop offset="0.993" stop-color="#000000"/></linearGradient><linearGradient id="g267" x2="0" y2="1"><stop offset="0.009" stop-color="#000000"/><stop offset="0.019" stop-color="#000000"/><stop offset="0.021" stop-color="#0e0e0e"/><stop offset="0.029" stop-color="#151515"/><stop offset="0.071" stop-color="#535353"/><stop offset="0.115" stop-color="#898989"/><stop offset="0.162" stop-color="#b6b6b6"/><stop offset="0.209" stop-color="#d7d7d7"/><stop offset="0.255" stop-color="#eeeeee"/><stop offset="0.302" stop-color="#f8f8f8"/><stop offset="0.349" stop-color="#f7f7f7"/><stop offset="0.394" stop-color="#ebebeb"/><stop offset="0.433" stop-color="#d4d4d4"/><stop offset="0.47" stop-color="#b4b4b4"/><stop offset="0.502" stop-color="#8e8e8e"/><stop offset="0.529" stop-color="#646464"/><stop offset="0.554" stop-color="#333333"/><stop offset="0.564" stop-color="#1d1d1d"/><stop offset="0.571" stop-color="#020202"/><stop offset="0.576" stop-color="#000000"/><stop offset="0.993" stop-color="#000000"/></linearGradient><linearGradient id="g268" x2="0" y2="1"><stop offset="0.009" stop-color="#000000"/><stop offset="0.019" stop-color="#000000"/><stop offset="0.021" stop-color="#0e0e0e"/><stop offset="0.029" stop-color="#151515"/><stop offset="0.073" stop-color="#565656"/><stop offset="0.117" stop-color="#8b8b8b"/><stop offset="0.164" stop-color="#b8b8b8"/><stop offset="0.211" stop-color="#d8d8d8"/><stop offset="0.258" stop-color="#eeeeee"/><stop offset="0.305" stop-color="#f8f8f8"/><stop offset="0.349" stop-color="#f7f7f7"/><stop offset="0.394" stop-color="#eaeaea"/><stop offset="0.433" stop-color="#d4d4d4"/><stop offset="0.47" stop-color="#b5b5b5"/><stop offset="0.502" stop-color="#8f8f8f"/><stop offset="0.529" stop-color="#666666"/><stop offset="0.551" stop-color="#3b3b3b"/><stop offset="0.564" stop-color="#1f1f1f"/><stop offset="0.571" stop-color="#030303"/><stop offset="0.576" stop-color="#000000"/><stop offset="0.993" stop-color="#000000"/></linearGradient><linearGradient id="g269" x2="0" y2="1"><stop offset="0.009" stop-color="#000000"/><stop offset="0.019" stop-color="#000000"/><stop offset="0.021" stop-color="#0e0e0e"/><stop offset="0.029" stop-color="#151515"/><stop offset="0.073" stop-color="#565656"/><stop offset="0.117" stop-color="#8b8b8b"/><stop offset="0.164" stop-color="#b7b7b7"/><stop offset="0.211" stop-color="#d8d8d8"/><stop offset="0.258" stop-color="#ededed"/><stop offset="0.305" stop-color="#f8f8f8"/><stop offset="0.352" stop-color="#f6f6f6"/><stop offset="0.396" stop-color="#e9e9e9"/><stop offset="0.435" stop-color="#d3d3d3"/><stop offset="0.472" stop-color="#b3b3b3"/><stop offset="0.504" stop-color="#8d8d8d"/><stop offset="0.534" stop-color="#606060"/><stop offset="0.559" stop-color="#2f2f2f"/><stop offset="0.564" stop-color="#242424"/><stop offset="0.571" stop-color="#090909"/><stop offset="0.578" stop-color="#010101"/><stop offset="0.993" stop-color="#000000"/></linearGradient><linearGradient id="g270" x2="0" y2="1"><stop offset="0.009" stop-color="#000000"/><stop offset="0.019" stop-color="#000000"/><stop offset="0.021" stop-color="#0e0e0e"/><stop offset="0.029" stop-color="#151515"/><stop offset="0.073" stop-color="#565656"/><stop offset="0.117" stop-color="#8a8a8a"/><stop offset="0.164" stop-color="#b6b6b6"/><stop offset="0.211" stop-color="#d7d7d7"/><stop offset="0.258" stop-color="#ededed"/><stop offset="0.305" stop-color="#f7f7f7"/><stop offset="0.352" stop-color="#f6f6f6"/><stop offset="0.396" stop-color="#e9e9e9"/><stop offset="0.438" stop-color="#d1d1d1"/><stop offset="0.475" stop-color="#b1b1b1"/><stop offset="0.509" stop-color="#888888"/><stop offset="0.539" stop-color="#5a5a5a"/><stop offset="0.564" stop-color="#292929"/><stop offset="0.573" stop-color="#121212"/><stop offset="0.578" stop-color="#020202"/><stop offset="0.586" stop-color="#000000"/><stop offset="0.993" stop-color="#000000"/></linearGradient><linearGradient id="g271" x2="0" y2="1"><stop offset="0.009" stop-color="#000000"/><stop offset="0.019" stop-color="#000000"/><stop offset="0.021" stop-color="#0e0e0e"/><stop offset="0.029" stop-color="#151515"/><stop offset="0.073" stop-color="#555555"/><stop offset="0.117" stop-color="#8a8a8a"/><stop offset="0.164" stop-color="#b6b6b6"/><stop offset="0.211" stop-color="#d6d6d6"/><stop offset="0.258" stop-color="#ececec"/><stop offset="0.305" stop-color="#f6f6f6"/><stop offset="0.352" stop-color="#f5f5f5"/><stop offset="0.396" stop-color="#e8e8e8"/><stop offset="0.438" stop-color="#d1d1d1"/><stop offset="0.475" stop-color="#b2b2b2"/><stop offset="0.509" stop-color="#8a8a8a"/><stop offset="0.539" stop-color="#5e5e5e"/><stop offset="0.569" stop-color="#262626"/><stop offset="0.586" stop-color="#020202"/><stop offset="0.613" stop-color="#000000"/><stop offset="0.993" stop-color="#000000"/></linearGradient><linearGradient id="g272" x2="0" y2="1"><stop offset="0.009" stop-color="#000000"/><stop offset="0.019" stop-color="#000000"/><stop offset="0.021" stop-color="#0e0e0e"/><stop offset="0.029" stop-color="#151515"/><stop offset="0.073" stop-color="#555555"/><stop offset="0.12" stop-color="#8b8b8b"/><stop offset="0.167" stop-color="#b6b6b6"/><stop offset="0.214" stop-color="#d6d6d6"/><stop offset="0.263" stop-color="#ececec"/><stop offset="0.31" stop-color="#f5f5f5"/><stop offset="0.357" stop-color="#f3f3f3"/><stop offset="0.401" stop-color="#e6e6e6"/><stop offset="0.443" stop-color="#cecece"/><stop offset="0.482" stop-color="#ababab"/><stop offset="0.517" stop-color="#828282"/><stop offset="0.549" stop-color="#525252"/><stop offset="0.578" stop-color="#1b1b1b"/><stop offset="0.586" stop-color="#080808"/><stop offset="0.596" stop-color="#000000"/><stop offset="0.993" stop-color="#000000"/></linearGradient><linearGradient id="g273" x2="0" y2="1"><stop offset="0.009" stop-color="#000000"/><stop offset="0.019" stop-color="#000000"/><stop offset="0.021" stop-color="#0e0e0e"/><stop offset="0.029" stop-color="#151515"/><stop offset="0.073" stop-color="#545454"/><stop offset="0.12" stop-color="#8a8a8a"/><stop offset="0.167" stop-color="#b5b5b5"/><stop offset="0.214" stop-color="#d5d5d5"/><stop offset="0.263" stop-color="#ebebeb"/><stop offset="0.31" stop-color="#f4f4f4"/><stop offset="0.357" stop-color="#f2f2f2"/><stop offset="0.401" stop-color="#e5e5e5"/><stop offset="0.443" stop-color="#cecece"/><stop offset="0.482" stop-color="#adadad"/><stop offset="0.519" stop-color="#828282"/><stop offset="0.554" stop-color="#4f4f4f"/><stop offset="0.586" stop-color="#161616"/><stop offset="0.593" stop-color="#020202"/><stop offset="0.598" stop-color="#000000"/><stop offset="0.993" stop-color="#000000"/></linearGradient><linearGradient id="g274" x2="0" y2="1"><stop offset="0.009" stop-color="#000000"/><stop offset="0.019" stop-color="#000000"/><stop offset="0.021" stop-color="#0d0d0d"/><stop offset="0.029" stop-color="#151515"/><stop offset="0.073" stop-color="#535353"/><stop offset="0.12" stop-color="#898989"/><stop offset="0.167" stop-color="#b4b4b4"/><stop offset="0.216" stop-color="#d5d5d5"/><stop offset="0.265" stop-color="#eaeaea"/><stop offset="0.315" stop-color="#f3f3f3"/><stop offset="0.361" stop-color="#f0f0f0"/><stop offset="0.406" stop-color="#e2e2e2"/><stop offset="0.448" stop-color="#cacaca"/><stop offset="0.487" stop-color="#a9a9a9"/><stop offset="0.524" stop-color="#7f7f7f"/><stop offset="0.561" stop-color="#4a4a4a"/><stop offset="0.593" stop-color="#131313"/><stop offset="0.601" stop-color="#020202"/><stop offset="0.608" stop-color="#000000"/><stop offset="0.993" stop-color="#000000"/></linearGradient><linearGradient id="g275" x2="0" y2="1"><stop offset="0.009" stop-color="#000000"/><stop offset="0.019" stop-color="#000000"/><stop offset="0.021" stop-color="#0d0d0d"/><stop offset="0.029" stop-color="#141414"/><stop offset="0.073" stop-color="#525252"/><stop offset="0.12" stop-color="#888888"/><stop offset="0.167" stop-color="#b2b2b2"/><stop offset="0.216" stop-color="#d3d3d3"/><stop offset="0.265" stop-color="#e8e8e8"/><stop offset="0.315" stop-color="#f1f1f1"/><stop offset="0.361" stop-color="#efefef"/><stop offset="0.408" stop-color="#e0e0e0"/><stop offset="0.453" stop-color="#c7c7c7"/><stop offset="0.495" stop-color="#a3a3a3"/><stop offset="0.534" stop-color="#777777"/><stop offset="0.573" stop-color="#3f3f3f"/><stop offset="0.603" stop-color="#0c0c0c"/><stop offset="0.608" stop-color="#020202"/><stop offset="0.615" stop-color="#000000"/><stop offset="0.993" stop-color="#000000"/></linearGradient><linearGradient id="g276" x2="0" y2="1"><stop offset="0.009" stop-color="#000000"/><stop offset="0.019" stop-color="#000000"/><stop offset="0.021" stop-color="#0d0d0d"/><stop offset="0.029" stop-color="#141414"/><stop offset="0.073" stop-color="#525252"/><stop offset="0.12" stop-color="#878787"/><stop offset="0.169" stop-color="#b3b3b3"/><stop offset="0.218" stop-color="#d3d3d3"/><stop offset="0.268" stop-color="#e7e7e7"/><stop offset="0.317" stop-color="#f0f0f0"/><stop offset="0.364" stop-color="#ededed"/><stop offset="0.411" stop-color="#dedede"/><stop offset="0.455" stop-color="#c5c5c5"/><stop offset="0.497" stop-color="#a3a3a3"/><stop offset="0.539" stop-color="#757575"/><stop offset="0.581" stop-color="#3c3c3c"/><stop offset="0.61" stop-color="#0c0c0c"/><stop offset="0.615" stop-color="#020202"/><stop offset="0.623" stop-color="#000000"/><stop offset="0.993" stop-color="#000000"/></linearGradient><linearGradient id="g277" x2="0" y2="1"><stop offset="0.009" stop-color="#000000"/><stop offset="0.019" stop-color="#000000"/><stop offset="0.021" stop-color="#0d0d0d"/><stop offset="0.029" stop-color="#141414"/><stop offset="0.076" stop-color="#545454"/><stop offset="0.122" stop-color="#888888"/><stop offset="0.172" stop-color="#b3b3b3"/><stop offset="0.221" stop-color="#d2d2d2"/><stop offset="0.27" stop-color="#e6e6e6"/><stop offset="0.32" stop-color="#eeeeee"/><stop offset="0.369" stop-color="#eaeaea"/><stop offset="0.416" stop-color="#dbdbdb"/><stop offset="0.46" stop-color="#c2c2c2"/><stop offset="0.504" stop-color="#9e9e9e"/><stop offset="0.549" stop-color="#6e6e6e"/><stop offset="0.598" stop-color="#2c2c2c"/><stop offset="0.625" stop-color="#030303"/><stop offset="0.638" stop-color="#000000"/><stop offset="0.993" stop-color="#000000"/></linearGradient><linearGradient id="g278" x2="0" y2="1"><stop offset="0.009" stop-color="#000000"/><stop offset="0.019" stop-color="#000000"/><stop offset="0.021" stop-color="#0d0d0d"/><stop offset="0.029" stop-color="#141414"/><stop offset="0.076" stop-color="#535353"/><stop offset="0.122" stop-color="#868686"/><stop offset="0.172" stop-color="#b1b1b1"/><stop offset="0.221" stop-color="#d0d0d0"/><stop offset="0.27" stop-color="#e4e4e4"/><stop offset="0.32" stop-color="#ececec"/><stop offset="0.369" stop-color="#e9e9e9"/><stop offset="0.416" stop-color="#dadada"/><stop offset="0.463" stop-color="#c1c1c1"/><stop offset="0.509" stop-color="#9b9b9b"/><stop offset="0.556" stop-color="#6a6a6a"/><stop offset="0.615" stop-color="#1e1e1e"/><stop offset="0.628" stop-color="#0c0c0c"/><stop offset="0.635" stop-color="#030303"/><stop offset="0.647" stop-color="#000000"/><stop offset="0.993" stop-color="#000000"/></linearGradient><linearGradient id="g279" x2="0" y2="1"><stop offset="0.009" stop-color="#000000"/><stop offset="0.019" stop-color="#000000"/><stop offset="0.021" stop-color="#0d0d0d"/><stop offset="0.031" stop-color="#171717"/><stop offset="0.078" stop-color="#555555"/><stop offset="0.127" stop-color="#898989"/><stop offset="0.177" stop-color="#b3b3b3"/><stop offset="0.228" stop-color="#d1d1d1"/><stop offset="0.28" stop-color="#e4e4e4"/><stop offset="0.329" stop-color="#eaeaea"/><stop offset="0.379" stop-color="#e5e5e5"/><stop offset="0.428" stop-color="#d4d4d4"/><stop offset="0.475" stop-color="#b9b9b9"/><stop offset="0.524" stop-color="#909090"/><stop offset="0.576" stop-color="#595959"/><stop offset="0.642" stop-color="#060606"/><stop offset="0.647" stop-color="#000000"/><stop offset="0.993" stop-color="#000000"/></linearGradient><linearGradient id="g280" x2="0" y2="1"><stop offset="0.009" stop-color="#000000"/><stop offset="0.019" stop-color="#000000"/><stop offset="0.021" stop-color="#0c0c0c"/><stop offset="0.031" stop-color="#171717"/><stop offset="0.078" stop-color="#535353"/><stop offset="0.127" stop-color="#888888"/><stop offset="0.177" stop-color="#b0b0b0"/><stop offset="0.228" stop-color="#cfcfcf"/><stop offset="0.28" stop-color="#e2e2e2"/><stop offset="0.332" stop-color="#e8e8e8"/><stop offset="0.381" stop-color="#e3e3e3"/><stop offset="0.43" stop-color="#d2d2d2"/><stop offset="0.48" stop-color="#b6b6b6"/><stop offset="0.529" stop-color="#8e8e8e"/><stop offset="0.588" stop-color="#515151"/><stop offset="0.65" stop-color="#0a0a0a"/><stop offset="0.657" stop-color="#020202"/><stop offset="0.672" stop-color="#000000"/><stop offset="0.993" stop-color="#000000"/></linearGradient><linearGradient id="g281" x2="0" y2="1"><stop offset="0.009" stop-color="#000000"/><stop offset="0.019" stop-color="#000000"/><stop offset="0.021" stop-color="#0c0c0c"/><stop offset="0.031" stop-color="#161616"/><stop offset="0.078" stop-color="#525252"/><stop offset="0.127" stop-color="#868686"/><stop offset="0.177" stop-color="#aeaeae"/><stop offset="0.228" stop-color="#cdcdcd"/><stop offset="0.28" stop-color="#dfdfdf"/><stop offset="0.332" stop-color="#e6e6e6"/><stop offset="0.384" stop-color="#e0e0e0"/><stop offset="0.433" stop-color="#d0d0d0"/><stop offset="0.485" stop-color="#b3b3b3"/><stop offset="0.539" stop-color="#888888"/><stop offset="0.608" stop-color="#434343"/><stop offset="0.67" stop-color="#020202"/><stop offset="0.689" stop-color="#000000"/><stop offset="0.993" stop-color="#000000"/></linearGradient><linearGradient id="g282" x2="0" y2="1"><stop offset="0.009" stop-color="#000000"/><stop offset="0.019" stop-color="#000000"/><stop offset="0.021" stop-color="#0c0c0c"/><stop offset="0.031" stop-color="#161616"/><stop offset="0.08" stop-color="#545454"/><stop offset="0.13" stop-color="#868686"/><stop offset="0.182" stop-color="#afafaf"/><stop offset="0.233" stop-color="#cccccc"/><stop offset="0.285" stop-color="#dedede"/><stop offset="0.337" stop-color="#e4e4e4"/><stop offset="0.389" stop-color="#dedede"/><stop offset="0.44" stop-color="#cccccc"/><stop offset="0.492" stop-color="#afafaf"/><stop offset="0.549" stop-color="#828282"/><stop offset="0.64" stop-color="#2a2a2a"/><stop offset="0.672" stop-color="#0a0a0a"/><stop offset="0.679" stop-color="#020202"/><stop offset="0.692" stop-color="#000000"/><stop offset="0.993" stop-color="#000000"/></linearGradient><linearGradient id="g283" x2="0" y2="1"><stop offset="0.009" stop-color="#000000"/><stop offset="0.019" stop-color="#000000"/><stop offset="0.021" stop-color="#0c0c0c"/><stop offset="0.031" stop-color="#161616"/><stop offset="0.08" stop-color="#535353"/><stop offset="0.132" stop-color="#878787"/><stop offset="0.184" stop-color="#aeaeae"/><stop offset="0.236" stop-color="#cbcbcb"/><stop offset="0.288" stop-color="#dcdcdc"/><stop offset="0.339" stop-color="#e1e1e1"/><stop offset="0.391" stop-color="#dbdbdb"/><stop offset="0.443" stop-color="#cacaca"/><stop offset="0.497" stop-color="#acacac"/><stop offset="0.556" stop-color="#7f7f7f"/><stop offset="0.694" stop-color="#020202"/><stop offset="0.716" stop-color="#000000"/><stop offset="0.993" stop-color="#000000"/></linearGradient><linearGradient id="g284" x2="0" y2="1"><stop offset="0.009" stop-color="#000000"/><stop offset="0.019" stop-color="#000000"/><stop offset="0.021" stop-color="#0c0c0c"/><stop offset="0.031" stop-color="#151515"/><stop offset="0.08" stop-color="#515151"/><stop offset="0.132" stop-color="#848484"/><stop offset="0.184" stop-color="#acacac"/><stop offset="0.236" stop-color="#c8c8c8"/><stop offset="0.29" stop-color="#d9d9d9"/><stop offset="0.342" stop-color="#dfdfdf"/><stop offset="0.396" stop-color="#d8d8d8"/><stop offset="0.45" stop-color="#c6c6c6"/><stop offset="0.507" stop-color="#a6a6a6"/><stop offset="0.573" stop-color="#747474"/><stop offset="0.697" stop-color="#0b0b0b"/><stop offset="0.712" stop-color="#010101"/><stop offset="0.993" stop-color="#000000"/></linearGradient><linearGradient id="g285" x2="0" y2="1"><stop offset="0.009" stop-color="#000000"/><stop offset="0.019" stop-color="#000000"/><stop offset="0.021" stop-color="#0b0b0b"/><stop offset="0.031" stop-color="#151515"/><stop offset="0.083" stop-color="#535353"/><stop offset="0.135" stop-color="#848484"/><stop offset="0.186" stop-color="#ababab"/><stop offset="0.238" stop-color="#c6c6c6"/><stop offset="0.292" stop-color="#d7d7d7"/><stop offset="0.347" stop-color="#dcdcdc"/><stop offset="0.401" stop-color="#d5d5d5"/><stop offset="0.455" stop-color="#c3c3c3"/><stop offset="0.514" stop-color="#a3a3a3"/><stop offset="0.586" stop-color="#6e6e6e"/><stop offset="0.699" stop-color="#121212"/><stop offset="0.726" stop-color="#010101"/><stop offset="0.993" stop-color="#000000"/></linearGradient><linearGradient id="g286" x2="0" y2="1"><stop offset="0.009" stop-color="#000000"/><stop offset="0.019" stop-color="#000000"/><stop offset="0.021" stop-color="#0b0b0b"/><stop offset="0.031" stop-color="#141414"/><stop offset="0.083" stop-color="#515151"/><stop offset="0.135" stop-color="#828282"/><stop offset="0.186" stop-color="#a8a8a8"/><stop offset="0.241" stop-color="#c5c5c5"/><stop offset="0.295" stop-color="#d5d5d5"/><stop offset="0.349" stop-color="#dadada"/><stop offset="0.403" stop-color="#d3d3d3"/><stop offset="0.46" stop-color="#c0c0c0"/><stop offset="0.522" stop-color="#9f9f9f"/><stop offset="0.598" stop-color="#686868"/><stop offset="0.707" stop-color="#151515"/><stop offset="0.739" stop-color="#010101"/><stop offset="0.993" stop-color="#000000"/></linearGradient><linearGradient id="g287" x2="0" y2="1"><stop offset="0.009" stop-color="#000000"/><stop offset="0.019" stop-color="#000000"/><stop offset="0.021" stop-color="#0b0b0b"/><stop offset="0.031" stop-color="#141414"/><stop offset="0.083" stop-color="#505050"/><stop offset="0.137" stop-color="#828282"/><stop offset="0.191" stop-color="#a9a9a9"/><stop offset="0.246" stop-color="#c4c4c4"/><stop offset="0.3" stop-color="#d3d3d3"/><stop offset="0.354" stop-color="#d7d7d7"/><stop offset="0.411" stop-color="#cfcfcf"/><stop offset="0.47" stop-color="#bbbbbb"/><stop offset="0.534" stop-color="#989898"/><stop offset="0.625" stop-color="#575757"/><stop offset="0.716" stop-color="#151515"/><stop offset="0.753" stop-color="#000000"/><stop offset="0.993" stop-color="#000000"/></linearGradient><linearGradient id="g288" x2="0" y2="1"><stop offset="0.009" stop-color="#000000"/><stop offset="0.019" stop-color="#000000"/><stop offset="0.021" stop-color="#0b0b0b"/><stop offset="0.031" stop-color="#141414"/><stop offset="0.085" stop-color="#515151"/><stop offset="0.14" stop-color="#828282"/><stop offset="0.194" stop-color="#a8a8a8"/><stop offset="0.248" stop-color="#c2c2c2"/><stop offset="0.305" stop-color="#d1d1d1"/><stop offset="0.361" stop-color="#d4d4d4"/><stop offset="0.418" stop-color="#cccccc"/><stop offset="0.477" stop-color="#b7b7b7"/><stop offset="0.544" stop-color="#939393"/><stop offset="0.652" stop-color="#484848"/><stop offset="0.734" stop-color="#111111"/><stop offset="0.763" stop-color="#010101"/><stop offset="0.993" stop-color="#000000"/></linearGradient><linearGradient id="g289" x2="0" y2="1"><stop offset="0.009" stop-color="#000000"/><stop offset="0.019" stop-color="#000000"/><stop offset="0.021" stop-color="#0b0b0b"/><stop offset="0.031" stop-color="#131313"/><stop offset="0.085" stop-color="#4f4f4f"/><stop offset="0.14" stop-color="#808080"/><stop offset="0.194" stop-color="#a5a5a5"/><stop offset="0.251" stop-color="#c0c0c0"/><stop offset="0.307" stop-color="#cfcfcf"/><stop offset="0.364" stop-color="#d2d2d2"/><stop offset="0.423" stop-color="#c9c9c9"/><stop offset="0.485" stop-color="#b3b3b3"/><stop offset="0.554" stop-color="#8f8f8f"/><stop offset="0.736" stop-color="#161616"/><stop offset="0.776" stop-color="#000000"/><stop offset="0.993" stop-color="#000000"/></linearGradient><linearGradient id="g290" x2="0" y2="1"><stop offset="0.009" stop-color="#000000"/><stop offset="0.019" stop-color="#000000"/><stop offset="0.021" stop-color="#0a0a0a"/><stop offset="0.031" stop-color="#131313"/><stop offset="0.085" stop-color="#4e4e4e"/><stop offset="0.142" stop-color="#7f7f7f"/><stop offset="0.199" stop-color="#a5a5a5"/><stop offset="0.255" stop-color="#bfbfbf"/><stop offset="0.312" stop-color="#cdcdcd"/><stop offset="0.369" stop-color="#cfcfcf"/><stop offset="0.428" stop-color="#c6c6c6"/><stop offset="0.492" stop-color="#b0b0b0"/><stop offset="0.566" stop-color="#898989"/><stop offset="0.748" stop-color="#151515"/><stop offset="0.783" stop-color="#010101"/><stop offset="0.993" stop-color="#000000"/></linearGradient><linearGradient id="g291" x2="0" y2="1"><stop offset="0.009" stop-color="#000000"/><stop offset="0.019" stop-color="#000000"/><stop offset="0.021" stop-color="#0a0a0a"/><stop offset="0.031" stop-color="#121212"/><stop offset="0.088" stop-color="#4f4f4f"/><stop offset="0.145" stop-color="#7f7f7f"/><stop offset="0.201" stop-color="#a4a4a4"/><stop offset="0.258" stop-color="#bdbdbd"/><stop offset="0.315" stop-color="#cacaca"/><stop offset="0.374" stop-color="#cccccc"/><stop offset="0.435" stop-color="#c3c3c3"/><stop offset="0.5" stop-color="#acacac"/><stop offset="0.578" stop-color="#838383"/><stop offset="0.766" stop-color="#111111"/><stop offset="0.793" stop-color="#010101"/><stop offset="0.993" stop-color="#000000"/></linearGradient><linearGradient id="g292" x2="0" y2="1"><stop offset="0.009" stop-color="#000000"/><stop offset="0.019" stop-color="#000000"/><stop offset="0.021" stop-color="#0a0a0a"/><stop offset="0.034" stop-color="#151515"/><stop offset="0.09" stop-color="#505050"/><stop offset="0.147" stop-color="#7f7f7f"/><stop offset="0.204" stop-color="#a2a2a2"/><stop offset="0.26" stop-color="#bbbbbb"/><stop offset="0.32" stop-color="#c8c8c8"/><stop offset="0.379" stop-color="#cacaca"/><stop offset="0.44" stop-color="#c0c0c0"/><stop offset="0.507" stop-color="#a9a9a9"/><stop offset="0.588" stop-color="#7f7f7f"/><stop offset="0.803" stop-color="#000000"/><stop offset="0.993" stop-color="#000000"/></linearGradient><linearGradient id="g293" x2="0" y2="1"><stop offset="0.009" stop-color="#000000"/><stop offset="0.019" stop-color="#000000"/><stop offset="0.021" stop-color="#0a0a0a"/><stop offset="0.034" stop-color="#141414"/><stop offset="0.093" stop-color="#505050"/><stop offset="0.152" stop-color="#808080"/><stop offset="0.211" stop-color="#a3a3a3"/><stop offset="0.27" stop-color="#bbbbbb"/><stop offset="0.329" stop-color="#c7c7c7"/><stop offset="0.391" stop-color="#c7c7c7"/><stop offset="0.455" stop-color="#bababa"/><stop offset="0.527" stop-color="#a0a0a0"/><stop offset="0.62" stop-color="#6f6f6f"/><stop offset="0.813" stop-color="#010101"/><stop offset="0.993" stop-color="#000000"/></linearGradient><linearGradient id="g294" x2="0" y2="1"><stop offset="0.009" stop-color="#000000"/><stop offset="0.019" stop-color="#000000"/><stop offset="0.021" stop-color="#0a0a0a"/><stop offset="0.034" stop-color="#141414"/><stop offset="0.093" stop-color="#4f4f4f"/><stop offset="0.152" stop-color="#7e7e7e"/><stop offset="0.211" stop-color="#a1a1a1"/><stop offset="0.27" stop-color="#b8b8b8"/><stop offset="0.329" stop-color="#c4c4c4"/><stop offset="0.391" stop-color="#c4c4c4"/><stop offset="0.455" stop-color="#b9b9b9"/><stop offset="0.527" stop-color="#a0a0a0"/><stop offset="0.623" stop-color="#707070"/><stop offset="0.822" stop-color="#010101"/><stop offset="0.993" stop-color="#000000"/></linearGradient><linearGradient id="g295" x2="0" y2="1"><stop offset="0.009" stop-color="#000000"/><stop offset="0.019" stop-color="#000000"/><stop offset="0.021" stop-color="#090909"/><stop offset="0.034" stop-color="#141414"/><stop offset="0.095" stop-color="#4f4f4f"/><stop offset="0.154" stop-color="#7d7d7d"/><stop offset="0.214" stop-color="#9f9f9f"/><stop offset="0.273" stop-color="#b6b6b6"/><stop offset="0.334" stop-color="#c2c2c2"/><stop offset="0.398" stop-color="#c2c2c2"/><stop offset="0.465" stop-color="#b5b5b5"/><stop offset="0.539" stop-color="#9b9b9b"/><stop offset="0.645" stop-color="#666666"/><stop offset="0.822" stop-color="#050505"/><stop offset="0.837" stop-color="#000000"/><stop offset="0.993" stop-color="#000000"/></linearGradient><linearGradient id="g296" x2="0" y2="1"><stop offset="0.009" stop-color="#000000"/><stop offset="0.019" stop-color="#000000"/><stop offset="0.021" stop-color="#090909"/><stop offset="0.034" stop-color="#131313"/><stop offset="0.095" stop-color="#4e4e4e"/><stop offset="0.157" stop-color="#7c7c7c"/><stop offset="0.218" stop-color="#9f9f9f"/><stop offset="0.28" stop-color="#b5b5b5"/><stop offset="0.342" stop-color="#c0c0c0"/><stop offset="0.406" stop-color="#bfbfbf"/><stop offset="0.475" stop-color="#b1b1b1"/><stop offset="0.554" stop-color="#959595"/><stop offset="0.677" stop-color="#585858"/><stop offset="0.835" stop-color="#040404"/><stop offset="0.842" stop-color="#000000"/><stop offset="0.993" stop-color="#000000"/></linearGradient><linearGradient id="g297" x2="0" y2="1"><stop offset="0.009" stop-color="#000000"/><stop offset="0.019" stop-color="#000000"/><stop offset="0.021" stop-color="#090909"/><stop offset="0.034" stop-color="#131313"/><stop offset="0.095" stop-color="#4c4c4c"/><stop offset="0.157" stop-color="#7a7a7a"/><stop offset="0.218" stop-color="#9c9c9c"/><stop offset="0.28" stop-color="#b3b3b3"/><stop offset="0.344" stop-color="#bebebe"/><stop offset="0.408" stop-color="#bdbdbd"/><stop offset="0.477" stop-color="#b0b0b0"/><stop offset="0.556" stop-color="#949494"/><stop offset="0.682" stop-color="#585858"/><stop offset="0.845" stop-color="#040404"/><stop offset="0.859" stop-color="#000000"/><stop offset="0.993" stop-color="#000000"/></linearGradient><linearGradient id="g298" x2="0" y2="1"><stop offset="0.009" stop-color="#000000"/><stop offset="0.019" stop-color="#000000"/><stop offset="0.021" stop-color="#090909"/><stop offset="0.036" stop-color="#151515"/><stop offset="0.1" stop-color="#4f4f4f"/><stop offset="0.162" stop-color="#7b7b7b"/><stop offset="0.223" stop-color="#9c9c9c"/><stop offset="0.285" stop-color="#b1b1b1"/><stop offset="0.349" stop-color="#bbbbbb"/><stop offset="0.416" stop-color="#bababa"/><stop offset="0.487" stop-color="#acacac"/><stop offset="0.571" stop-color="#8f8f8f"/><stop offset="0.724" stop-color="#464646"/><stop offset="0.867" stop-color="#010101"/><stop offset="0.993" stop-color="#000000"/></linearGradient><linearGradient id="g299" x2="0" y2="1"><stop offset="0.009" stop-color="#000000"/><stop offset="0.019" stop-color="#000000"/><stop offset="0.021" stop-color="#090909"/><stop offset="0.036" stop-color="#141414"/><stop offset="0.1" stop-color="#4d4d4d"/><stop offset="0.164" stop-color="#7a7a7a"/><stop offset="0.228" stop-color="#9b9b9b"/><stop offset="0.292" stop-color="#b0b0b0"/><stop offset="0.357" stop-color="#bababa"/><stop offset="0.423" stop-color="#b7b7b7"/><stop offset="0.497" stop-color="#a9a9a9"/><stop offset="0.583" stop-color="#8a8a8a"/><stop offset="0.79" stop-color="#292929"/><stop offset="0.882" stop-color="#010101"/><stop offset="0.993" stop-color="#000000"/></linearGradient><linearGradient id="g300" x2="0" y2="1"><stop offset="0.009" stop-color="#000000"/><stop offset="0.019" stop-color="#000000"/><stop offset="0.021" stop-color="#080808"/><stop offset="0.036" stop-color="#141414"/><stop offset="0.103" stop-color="#4e4e4e"/><stop offset="0.167" stop-color="#7a7a7a"/><stop offset="0.231" stop-color="#9a9a9a"/><stop offset="0.295" stop-color="#aeaeae"/><stop offset="0.361" stop-color="#b8b8b8"/><stop offset="0.43" stop-color="#b5b5b5"/><stop offset="0.504" stop-color="#a6a6a6"/><stop offset="0.596" stop-color="#868686"/><stop offset="0.867" stop-color="#0b0b0b"/><stop offset="0.901" stop-color="#000000"/><stop offset="0.993" stop-color="#000000"/></linearGradient><linearGradient id="g301" x2="0" y2="1"><stop offset="0.009" stop-color="#000000"/><stop offset="0.019" stop-color="#000000"/><stop offset="0.021" stop-color="#080808"/><stop offset="0.036" stop-color="#141414"/><stop offset="0.103" stop-color="#4c4c4c"/><stop offset="0.169" stop-color="#797979"/><stop offset="0.233" stop-color="#999999"/><stop offset="0.297" stop-color="#adadad"/><stop offset="0.364" stop-color="#b5b5b5"/><stop offset="0.433" stop-color="#b3b3b3"/><stop offset="0.509" stop-color="#a4a4a4"/><stop offset="0.603" stop-color="#838383"/><stop offset="0.864" stop-color="#101010"/><stop offset="0.919" stop-color="#010101"/><stop offset="0.993" stop-color="#000000"/></linearGradient><linearGradient id="g302" x2="0" y2="1"><stop offset="0.009" stop-color="#000000"/><stop offset="0.019" stop-color="#000000"/><stop offset="0.021" stop-color="#080808"/><stop offset="0.039" stop-color="#151515"/><stop offset="0.108" stop-color="#4f4f4f"/><stop offset="0.174" stop-color="#7a7a7a"/><stop offset="0.241" stop-color="#999999"/><stop offset="0.307" stop-color="#acacac"/><stop offset="0.376" stop-color="#b4b4b4"/><stop offset="0.448" stop-color="#afafaf"/><stop offset="0.527" stop-color="#9e9e9e"/><stop offset="0.625" stop-color="#7b7b7b"/><stop offset="0.864" stop-color="#131313"/><stop offset="0.921" stop-color="#030303"/><stop offset="0.978" stop-color="#000000"/><stop offset="0.993" stop-color="#000000"/></linearGradient><linearGradient id="g303" x2="0" y2="1"><stop offset="0.009" stop-color="#000000"/><stop offset="0.019" stop-color="#000000"/><stop offset="0.021" stop-color="#080808"/><stop offset="0.039" stop-color="#151515"/><stop offset="0.108" stop-color="#4d4d4d"/><stop offset="0.174" stop-color="#787878"/><stop offset="0.241" stop-color="#979797"/><stop offset="0.307" stop-color="#aaaaaa"/><stop offset="0.376" stop-color="#b2b2b2"/><stop offset="0.448" stop-color="#aeaeae"/><stop offset="0.527" stop-color="#9e9e9e"/><stop offset="0.625" stop-color="#7c7c7c"/><stop offset="0.869" stop-color="#141414"/><stop offset="0.928" stop-color="#040404"/><stop offset="0.993" stop-color="#000000"/></linearGradient><linearGradient id="g304" x2="0" y2="1"><stop offset="0.009" stop-color="#000000"/><stop offset="0.019" stop-color="#000000"/><stop offset="0.021" stop-color="#080808"/><stop offset="0.039" stop-color="#151515"/><stop offset="0.11" stop-color="#4e4e4e"/><stop offset="0.179" stop-color="#787878"/><stop offset="0.246" stop-color="#969696"/><stop offset="0.312" stop-color="#a9a9a9"/><stop offset="0.381" stop-color="#b0b0b0"/><stop offset="0.455" stop-color="#acacac"/><stop offset="0.536" stop-color="#9a9a9a"/><stop offset="0.64" stop-color="#777777"/><stop offset="0.872" stop-color="#151515"/><stop offset="0.933" stop-color="#040404"/><stop offset="0.993" stop-color="#000000"/></linearGradient><linearGradient id="g305" x2="0" y2="1"><stop offset="0.009" stop-color="#000000"/><stop offset="0.019" stop-color="#000000"/><stop offset="0.021" stop-color="#080808"/><stop offset="0.041" stop-color="#161616"/><stop offset="0.112" stop-color="#4e4e4e"/><stop offset="0.182" stop-color="#787878"/><stop offset="0.251" stop-color="#969696"/><stop offset="0.32" stop-color="#a8a8a8"/><stop offset="0.391" stop-color="#aeaeae"/><stop offset="0.467" stop-color="#a9a9a9"/><stop offset="0.551" stop-color="#969696"/><stop offset="0.66" stop-color="#707070"/><stop offset="0.874" stop-color="#171717"/><stop offset="0.941" stop-color="#050505"/><stop offset="0.993" stop-color="#000000"/></linearGradient><linearGradient id="g306" x2="0" y2="1"><stop offset="0.009" stop-color="#000000"/><stop offset="0.019" stop-color="#000000"/><stop offset="0.021" stop-color="#070707"/><stop offset="0.041" stop-color="#161616"/><stop offset="0.112" stop-color="#4c4c4c"/><stop offset="0.182" stop-color="#767676"/><stop offset="0.251" stop-color="#949494"/><stop offset="0.32" stop-color="#a6a6a6"/><stop offset="0.391" stop-color="#acacac"/><stop offset="0.467" stop-color="#a7a7a7"/><stop offset="0.554" stop-color="#959595"/><stop offset="0.662" stop-color="#707070"/><stop offset="0.879" stop-color="#171717"/><stop offset="0.948" stop-color="#050505"/><stop offset="0.993" stop-color="#000000"/></linearGradient><linearGradient id="g307" x2="0" y2="1"><stop offset="0.009" stop-color="#000000"/><stop offset="0.019" stop-color="#000000"/><stop offset="0.021" stop-color="#070707"/><stop offset="0.043" stop-color="#181818"/><stop offset="0.117" stop-color="#4e4e4e"/><stop offset="0.189" stop-color="#787878"/><stop offset="0.258" stop-color="#949494"/><stop offset="0.329" stop-color="#a5a5a5"/><stop offset="0.403" stop-color="#ababab"/><stop offset="0.482" stop-color="#a4a4a4"/><stop offset="0.571" stop-color="#909090"/><stop offset="0.684" stop-color="#686868"/><stop offset="0.882" stop-color="#181818"/><stop offset="0.953" stop-color="#050505"/><stop offset="0.993" stop-color="#000000"/></linearGradient><linearGradient id="g308" x2="0" y2="1"><stop offset="0.009" stop-color="#000000"/><stop offset="0.019" stop-color="#000000"/><stop offset="0.021" stop-color="#070707"/><stop offset="0.043" stop-color="#171717"/><stop offset="0.117" stop-color="#4d4d4d"/><stop offset="0.189" stop-color="#767676"/><stop offset="0.26" stop-color="#939393"/><stop offset="0.332" stop-color="#a4a4a4"/><stop offset="0.406" stop-color="#a9a9a9"/><stop offset="0.485" stop-color="#a3a3a3"/><stop offset="0.573" stop-color="#8f8f8f"/><stop offset="0.687" stop-color="#686868"/><stop offset="0.887" stop-color="#181818"/><stop offset="0.963" stop-color="#040404"/><stop offset="0.993" stop-color="#000000"/></linearGradient><linearGradient id="g309" x2="0" y2="1"><stop offset="0.009" stop-color="#000000"/><stop offset="0.019" stop-color="#000000"/><stop offset="0.021" stop-color="#070707"/><stop offset="0.046" stop-color="#191919"/><stop offset="0.122" stop-color="#4f4f4f"/><stop offset="0.194" stop-color="#777777"/><stop offset="0.265" stop-color="#929292"/><stop offset="0.337" stop-color="#a3a3a3"/><stop offset="0.411" stop-color="#a8a8a8"/><stop offset="0.492" stop-color="#a1a1a1"/><stop offset="0.583" stop-color="#8c8c8c"/><stop offset="0.702" stop-color="#636363"/><stop offset="0.891" stop-color="#181818"/><stop offset="0.983" stop-color="#000000"/><stop offset="0.993" stop-color="#000000"/></linearGradient><linearGradient id="g310" x2="0" y2="1"><stop offset="0.009" stop-color="#000000"/><stop offset="0.019" stop-color="#000000"/><stop offset="0.021" stop-color="#070707"/><stop offset="0.046" stop-color="#181818"/><stop offset="0.122" stop-color="#4e4e4e"/><stop offset="0.196" stop-color="#767676"/><stop offset="0.268" stop-color="#919191"/><stop offset="0.342" stop-color="#a1a1a1"/><stop offset="0.418" stop-color="#a6a6a6"/><stop offset="0.5" stop-color="#9f9f9f"/><stop offset="0.593" stop-color="#898989"/><stop offset="0.714" stop-color="#5f5f5f"/><stop offset="0.899" stop-color="#181818"/><stop offset="0.988" stop-color="#000000"/><stop offset="0.993" stop-color="#000000"/></linearGradient><linearGradient id="g311" x2="0" y2="1"><stop offset="0.009" stop-color="#000000"/><stop offset="0.019" stop-color="#000000"/><stop offset="0.021" stop-color="#070707"/><stop offset="0.048" stop-color="#1a1a1a"/><stop offset="0.127" stop-color="#505050"/><stop offset="0.201" stop-color="#777777"/><stop offset="0.275" stop-color="#929292"/><stop offset="0.349" stop-color="#a1a1a1"/><stop offset="0.426" stop-color="#a5a5a5"/><stop offset="0.509" stop-color="#9c9c9c"/><stop offset="0.603" stop-color="#868686"/><stop offset="0.729" stop-color="#5b5b5b"/><stop offset="0.906" stop-color="#171717"/><stop offset="0.988" stop-color="#000000"/><stop offset="0.993" stop-color="#000000"/></linearGradient><linearGradient id="g312" x2="0" y2="1"><stop offset="0.009" stop-color="#000000"/><stop offset="0.019" stop-color="#000000"/><stop offset="0.021" stop-color="#070707"/><stop offset="0.051" stop-color="#1b1b1b"/><stop offset="0.13" stop-color="#505050"/><stop offset="0.206" stop-color="#777777"/><stop offset="0.28" stop-color="#919191"/><stop offset="0.357" stop-color="#a0a0a0"/><stop offset="0.435" stop-color="#a3a3a3"/><stop offset="0.519" stop-color="#9a9a9a"/><stop offset="0.615" stop-color="#838383"/><stop offset="0.746" stop-color="#555555"/><stop offset="0.919" stop-color="#141414"/><stop offset="0.988" stop-color="#000000"/><stop offset="0.993" stop-color="#000000"/></linearGradient><linearGradient id="g313" x2="0" y2="1"><stop offset="0.009" stop-color="#000000"/><stop offset="0.019" stop-color="#000000"/><stop offset="0.021" stop-color="#070707"/><stop offset="0.051" stop-color="#1b1b1b"/><stop offset="0.13" stop-color="#4f4f4f"/><stop offset="0.206" stop-color="#767676"/><stop offset="0.283" stop-color="#909090"/><stop offset="0.359" stop-color="#9f9f9f"/><stop offset="0.438" stop-color="#a2a2a2"/><stop offset="0.524" stop-color="#999999"/><stop offset="0.623" stop-color="#818181"/><stop offset="0.756" stop-color="#535353"/><stop offset="0.933" stop-color="#111111"/><stop offset="0.988" stop-color="#000000"/><stop offset="0.993" stop-color="#000000"/></linearGradient><linearGradient id="g314" x2="0" y2="1"><stop offset="0.009" stop-color="#000000"/><stop offset="0.019" stop-color="#000000"/><stop offset="0.021" stop-color="#060606"/><stop offset="0.053" stop-color="#1c1c1c"/><stop offset="0.135" stop-color="#515151"/><stop offset="0.211" stop-color="#767676"/><stop offset="0.288" stop-color="#909090"/><stop offset="0.364" stop-color="#9e9e9e"/><stop offset="0.445" stop-color="#a1a1a1"/><stop offset="0.532" stop-color="#979797"/><stop offset="0.63" stop-color="#7f7f7f"/><stop offset="0.768" stop-color="#4f4f4f"/><stop offset="0.96" stop-color="#090909"/><stop offset="0.985" stop-color="#000000"/><stop offset="0.993" stop-color="#000000"/></linearGradient><linearGradient id="g315" x2="0" y2="1"><stop offset="0.009" stop-color="#000000"/><stop offset="0.019" stop-color="#000000"/><stop offset="0.021" stop-color="#060606"/><stop offset="0.058" stop-color="#1f1f1f"/><stop offset="0.14" stop-color="#525252"/><stop offset="0.218" stop-color="#787878"/><stop offset="0.295" stop-color="#909090"/><stop offset="0.374" stop-color="#9e9e9e"/><stop offset="0.455" stop-color="#9f9f9f"/><stop offset="0.544" stop-color="#949494"/><stop offset="0.647" stop-color="#7b7b7b"/><stop offset="0.798" stop-color="#454545"/><stop offset="0.985" stop-color="#000000"/><stop offset="0.993" stop-color="#000000"/></linearGradient><linearGradient id="g316" x2="0" y2="1"><stop offset="0.009" stop-color="#000000"/><stop offset="0.019" stop-color="#000000"/><stop offset="0.021" stop-color="#060606"/><stop offset="0.063" stop-color="#222222"/><stop offset="0.145" stop-color="#545454"/><stop offset="0.223" stop-color="#787878"/><stop offset="0.302" stop-color="#919191"/><stop offset="0.381" stop-color="#9d9d9d"/><stop offset="0.465" stop-color="#9e9e9e"/><stop offset="0.556" stop-color="#929292"/><stop offset="0.662" stop-color="#777777"/><stop offset="0.827" stop-color="#3c3c3c"/><stop offset="0.985" stop-color="#000000"/><stop offset="0.993" stop-color="#000000"/></linearGradient><linearGradient id="g317" x2="0" y2="1"><stop offset="0.009" stop-color="#000000"/><stop offset="0.019" stop-color="#000000"/><stop offset="0.021" stop-color="#060606"/><stop offset="0.13" stop-color="#4b4b4b"/><stop offset="0.209" stop-color="#717171"/><stop offset="0.288" stop-color="#8c8c8c"/><stop offset="0.366" stop-color="#9a9a9a"/><stop offset="0.448" stop-color="#9e9e9e"/><stop offset="0.536" stop-color="#959595"/><stop offset="0.638" stop-color="#7e7e7e"/><stop offset="0.773" stop-color="#515151"/><stop offset="0.985" stop-color="#000000"/><stop offset="0.993" stop-color="#000000"/></linearGradient><linearGradient id="g318" x2="0" y2="1"><stop offset="0.009" stop-color="#000000"/><stop offset="0.019" stop-color="#000000"/><stop offset="0.021" stop-color="#060606"/><stop offset="0.13" stop-color="#4a4a4a"/><stop offset="0.211" stop-color="#717171"/><stop offset="0.29" stop-color="#8b8b8b"/><stop offset="0.371" stop-color="#9a9a9a"/><stop offset="0.455" stop-color="#9d9d9d"/><stop offset="0.546" stop-color="#939393"/><stop offset="0.65" stop-color="#7b7b7b"/><stop offset="0.788" stop-color="#4d4d4d"/><stop offset="0.978" stop-color="#030303"/><stop offset="0.988" stop-color="#000000"/><stop offset="0.993" stop-color="#000000"/></linearGradient><linearGradient id="g319" x2="0" y2="1"><stop offset="0.009" stop-color="#000000"/><stop offset="0.019" stop-color="#000000"/><stop offset="0.021" stop-color="#060606"/><stop offset="0.13" stop-color="#494949"/><stop offset="0.211" stop-color="#707070"/><stop offset="0.29" stop-color="#8a8a8a"/><stop offset="0.371" stop-color="#999999"/><stop offset="0.455" stop-color="#9c9c9c"/><stop offset="0.546" stop-color="#939393"/><stop offset="0.65" stop-color="#7c7c7c"/><stop offset="0.785" stop-color="#4f4f4f"/><stop offset="0.975" stop-color="#040404"/><stop offset="0.985" stop-color="#000000"/><stop offset="0.993" stop-color="#000000"/></linearGradient><linearGradient id="g320" x2="0" y2="1"><stop offset="0.009" stop-color="#000000"/><stop offset="0.019" stop-color="#000000"/><stop offset="0.021" stop-color="#060606"/><stop offset="0.132" stop-color="#494949"/><stop offset="0.214" stop-color="#6f6f6f"/><stop offset="0.295" stop-color="#8a8a8a"/><stop offset="0.376" stop-color="#989898"/><stop offset="0.463" stop-color="#9b9b9b"/><stop offset="0.554" stop-color="#929292"/><stop offset="0.657" stop-color="#7a7a7a"/><stop offset="0.793" stop-color="#4e4e4e"/><stop offset="0.973" stop-color="#060606"/><stop offset="0.985" stop-color="#000000"/><stop offset="0.993" stop-color="#000000"/></linearGradient><linearGradient id="g321" x2="0" y2="1"><stop offset="0.009" stop-color="#000000"/><stop offset="0.019" stop-color="#000000"/><stop offset="0.021" stop-color="#060606"/><stop offset="0.132" stop-color="#494949"/><stop offset="0.216" stop-color="#6f6f6f"/><stop offset="0.297" stop-color="#898989"/><stop offset="0.381" stop-color="#989898"/><stop offset="0.467" stop-color="#9a9a9a"/><stop offset="0.561" stop-color="#909090"/><stop offset="0.667" stop-color="#787878"/><stop offset="0.803" stop-color="#4b4b4b"/><stop offset="0.965" stop-color="#090909"/><stop offset="0.985" stop-color="#000000"/><stop offset="0.993" stop-color="#000000"/></linearGradient><linearGradient id="g322" x2="0" y2="1"><stop offset="0.009" stop-color="#000000"/><stop offset="0.019" stop-color="#000000"/><stop offset="0.021" stop-color="#060606"/><stop offset="0.132" stop-color="#484848"/><stop offset="0.216" stop-color="#6e6e6e"/><stop offset="0.297" stop-color="#888888"/><stop offset="0.381" stop-color="#979797"/><stop offset="0.467" stop-color="#9a9a9a"/><stop offset="0.561" stop-color="#909090"/><stop offset="0.667" stop-color="#797979"/><stop offset="0.8" stop-color="#4d4d4d"/><stop offset="0.953" stop-color="#0f0f0f"/><stop offset="0.985" stop-color="#000000"/><stop offset="0.993" stop-color="#000000"/></linearGradient><linearGradient id="g323" x2="0" y2="1"><stop offset="0.009" stop-color="#000000"/><stop offset="0.019" stop-color="#000000"/><stop offset="0.021" stop-color="#060606"/><stop offset="0.135" stop-color="#494949"/><stop offset="0.218" stop-color="#6e6e6e"/><stop offset="0.302" stop-color="#888888"/><stop offset="0.386" stop-color="#969696"/><stop offset="0.475" stop-color="#999999"/><stop offset="0.569" stop-color="#8f8f8f"/><stop offset="0.675" stop-color="#777777"/><stop offset="0.805" stop-color="#4c4c4c"/><stop offset="0.948" stop-color="#121212"/><stop offset="0.985" stop-color="#000000"/><stop offset="0.993" stop-color="#000000"/></linearGradient><linearGradient id="g324" x2="0" y2="1"><stop offset="0.009" stop-color="#000000"/><stop offset="0.019" stop-color="#000000"/><stop offset="0.021" stop-color="#060606"/><stop offset="0.135" stop-color="#484848"/><stop offset="0.221" stop-color="#6e6e6e"/><stop offset="0.305" stop-color="#888888"/><stop offset="0.389" stop-color="#969696"/><stop offset="0.477" stop-color="#989898"/><stop offset="0.571" stop-color="#8f8f8f"/><stop offset="0.677" stop-color="#777777"/><stop offset="0.805" stop-color="#4d4d4d"/><stop offset="0.941" stop-color="#161616"/><stop offset="0.985" stop-color="#000000"/><stop offset="0.993" stop-color="#000000"/></linearGradient><linearGradient id="g325" x2="0" y2="1"><stop offset="0.009" stop-color="#000000"/><stop offset="0.019" stop-color="#000000"/><stop offset="0.021" stop-color="#060606"/><stop offset="0.135" stop-color="#474747"/><stop offset="0.221" stop-color="#6e6e6e"/><stop offset="0.305" stop-color="#878787"/><stop offset="0.391" stop-color="#959595"/><stop offset="0.48" stop-color="#989898"/><stop offset="0.576" stop-color="#8e8e8e"/><stop offset="0.682" stop-color="#767676"/><stop offset="0.808" stop-color="#4d4d4d"/><stop offset="0.938" stop-color="#171717"/><stop offset="0.985" stop-color="#000000"/><stop offset="0.993" stop-color="#000000"/></linearGradient><linearGradient id="g326" x2="0" y2="1"><stop offset="0.009" stop-color="#000000"/><stop offset="0.019" stop-color="#000000"/><stop offset="0.021" stop-color="#060606"/><stop offset="0.137" stop-color="#484848"/><stop offset="0.223" stop-color="#6e6e6e"/><stop offset="0.31" stop-color="#878787"/><stop offset="0.396" stop-color="#959595"/><stop offset="0.485" stop-color="#979797"/><stop offset="0.581" stop-color="#8d8d8d"/><stop offset="0.689" stop-color="#757575"/><stop offset="0.813" stop-color="#4d4d4d"/><stop offset="0.938" stop-color="#181818"/><stop offset="0.985" stop-color="#000000"/><stop offset="0.993" stop-color="#000000"/></linearGradient><linearGradient id="g327" x2="0" y2="1"><stop offset="0.009" stop-color="#000000"/><stop offset="0.019" stop-color="#000000"/><stop offset="0.021" stop-color="#060606"/><stop offset="0.137" stop-color="#474747"/><stop offset="0.223" stop-color="#6d6d6d"/><stop offset="0.31" stop-color="#878787"/><stop offset="0.396" stop-color="#949494"/><stop offset="0.487" stop-color="#979797"/><stop offset="0.583" stop-color="#8d8d8d"/><stop offset="0.689" stop-color="#757575"/><stop offset="0.81" stop-color="#4e4e4e"/><stop offset="0.931" stop-color="#1c1c1c"/><stop offset="0.98" stop-color="#010101"/><stop offset="0.993" stop-color="#000000"/></linearGradient><linearGradient id="g328" x2="0" y2="1"><stop offset="0.009" stop-color="#000000"/><stop offset="0.019" stop-color="#000000"/><stop offset="0.021" stop-color="#060606"/><stop offset="0.137" stop-color="#474747"/><stop offset="0.226" stop-color="#6d6d6d"/><stop offset="0.312" stop-color="#868686"/><stop offset="0.401" stop-color="#949494"/><stop offset="0.492" stop-color="#969696"/><stop offset="0.588" stop-color="#8c8c8c"/><stop offset="0.694" stop-color="#757575"/><stop offset="0.813" stop-color="#4e4e4e"/><stop offset="0.931" stop-color="#1c1c1c"/><stop offset="0.98" stop-color="#020202"/><stop offset="0.993" stop-color="#000000"/></linearGradient><linearGradient id="g329" x2="0" y2="1"><stop offset="0.009" stop-color="#000000"/><stop offset="0.019" stop-color="#000000"/><stop offset="0.021" stop-color="#050505"/><stop offset="0.137" stop-color="#464646"/><stop offset="0.226" stop-color="#6c6c6c"/><stop offset="0.312" stop-color="#868686"/><stop offset="0.401" stop-color="#949494"/><stop offset="0.492" stop-color="#969696"/><stop offset="0.588" stop-color="#8c8c8c"/><stop offset="0.694" stop-color="#757575"/><stop offset="0.813" stop-color="#4f4f4f"/><stop offset="0.928" stop-color="#1d1d1d"/><stop offset="0.98" stop-color="#020202"/><stop offset="0.993" stop-color="#000000"/></linearGradient><linearGradient id="g330" x2="0" y2="1"><stop offset="0.009" stop-color="#000000"/><stop offset="0.019" stop-color="#000000"/><stop offset="0.021" stop-color="#050505"/><stop offset="0.137" stop-color="#464646"/><stop offset="0.226" stop-color="#6c6c6c"/><stop offset="0.315" stop-color="#868686"/><stop offset="0.403" stop-color="#939393"/><stop offset="0.495" stop-color="#969696"/><stop offset="0.593" stop-color="#8c8c8c"/><stop offset="0.699" stop-color="#747474"/><stop offset="0.815" stop-color="#4f4f4f"/><stop offset="0.928" stop-color="#1e1e1e"/><stop offset="0.98" stop-color="#020202"/><stop offset="0.993" stop-color="#000000"/></linearGradient><linearGradient id="g331" x2="0" y2="1"><stop offset="0.009" stop-color="#000000"/><stop offset="0.019" stop-color="#000000"/><stop offset="0.021" stop-color="#050505"/><stop offset="0.14" stop-color="#474747"/><stop offset="0.228" stop-color="#6c6c6c"/><stop offset="0.317" stop-color="#868686"/><stop offset="0.406" stop-color="#939393"/><stop offset="0.497" stop-color="#959595"/><stop offset="0.596" stop-color="#8b8b8b"/><stop offset="0.702" stop-color="#747474"/><stop offset="0.815" stop-color="#4f4f4f"/><stop offset="0.926" stop-color="#1f1f1f"/><stop offset="0.978" stop-color="#040404"/><stop offset="0.985" stop-color="#000000"/><stop offset="0.993" stop-color="#000000"/></linearGradient><clipPath id="cpC"><rect x="321.80" y="24.60" width="113.70" height="65.90"/></clipPath><linearGradient id="cb" x1="0" y1="0" x2="0" y2="1"><stop offset="0.000" stop-color="#fcfcfc"/><stop offset="0.960" stop-color="#121212"/><stop offset="0.975" stop-color="#000000"/><stop offset="1.000" stop-color="#000000"/></linearGradient></defs><g clip-path="url(#cpA)"><g filter="url(#jet)"><rect x="92" y="24" width="1" height="67" fill="url(#g1)"/><rect x="93" y="24" width="1" height="67" fill="url(#g2)"/><rect x="94" y="24" width="1" height="67" fill="url(#g3)"/><rect x="95" y="24" width="1" height="67" fill="url(#g4)"/><rect x="96" y="24" width="1" height="67" fill="url(#g5)"/><rect x="97" y="24" width="1" height="67" fill="url(#g6)"/><rect x="98" y="24" width="1" height="67" fill="url(#g7)"/><rect x="99" y="24" width="1" height="67" fill="url(#g8)"/><rect x="100" y="24" width="1" height="67" fill="url(#g9)"/><rect x="101" y="24" width="1" height="67" fill="url(#g10)"/><rect x="102" y="24" width="1" height="67" fill="url(#g11)"/><rect x="103" y="24" width="1" height="67" fill="url(#g12)"/><rect x="104" y="24" width="1" height="67" fill="url(#g13)"/><rect x="105" y="24" width="1" height="67" fill="url(#g14)"/><rect x="106" y="24" width="1" height="67" fill="url(#g15)"/><rect x="107" y="24" width="1" height="67" fill="url(#g16)"/><rect x="108" y="24" width="1" height="67" fill="url(#g17)"/><rect x="109" y="24" width="1" height="67" fill="url(#g18)"/><rect x="110" y="24" width="1" height="67" fill="url(#g19)"/><rect x="111" y="24" width="1" height="67" fill="url(#g20)"/><rect x="112" y="24" width="1" height="67" fill="url(#g21)"/><rect x="113" y="24" width="1" height="67" fill="url(#g22)"/><rect x="114" y="24" width="1" height="67" fill="url(#g23)"/><rect x="115" y="24" width="1" height="67" fill="url(#g24)"/><rect x="116" y="24" width="1" height="67" fill="url(#g25)"/><rect x="117" y="24" width="1" height="67" fill="url(#g26)"/><rect x="118" y="24" width="1" height="67" fill="url(#g27)"/><rect x="119" y="24" width="1" height="67" fill="url(#g28)"/><rect x="120" y="24" width="1" height="67" fill="url(#g29)"/><rect x="121" y="24" width="1" height="67" fill="url(#g30)"/><rect x="122" y="24" width="1" height="67" fill="url(#g31)"/><rect x="123" y="24" width="1" height="67" fill="url(#g32)"/><rect x="124" y="24" width="1" height="67" fill="url(#g33)"/><rect x="125" y="24" width="1" height="67" fill="url(#g34)"/><rect x="126" y="24" width="1" height="67" fill="url(#g35)"/><rect x="127" y="24" width="1" height="67" fill="url(#g36)"/><rect x="128" y="24" width="1" height="67" fill="url(#g37)"/><rect x="129" y="24" width="1" height="67" fill="url(#g38)"/><rect x="130" y="24" width="1" height="67" fill="url(#g39)"/><rect x="131" y="24" width="1" height="67" fill="url(#g40)"/><rect x="132" y="24" width="1" height="67" fill="url(#g41)"/><rect x="133" y="24" width="1" height="67" fill="url(#g42)"/><rect x="134" y="24" width="1" height="67" fill="url(#g43)"/><rect x="135" y="24" width="1" height="67" fill="url(#g44)"/><rect x="136" y="24" width="1" height="67" fill="url(#g45)"/><rect x="137" y="24" width="1" height="67" fill="url(#g46)"/><rect x="138" y="24" width="1" height="67" fill="url(#g47)"/><rect x="139" y="24" width="1" height="67" fill="url(#g48)"/><rect x="140" y="24" width="1" height="67" fill="url(#g49)"/><rect x="141" y="24" width="1" height="67" fill="url(#g50)"/><rect x="142" y="24" width="1" height="67" fill="url(#g51)"/><rect x="143" y="24" width="1" height="67" fill="url(#g52)"/><rect x="144" y="24" width="1" height="67" fill="url(#g53)"/><rect x="145" y="24" width="1" height="67" fill="url(#g54)"/><rect x="146" y="24" width="1" height="67" fill="url(#g55)"/><rect x="147" y="24" width="1" height="67" fill="url(#g56)"/><rect x="148" y="24" width="1" height="67" fill="url(#g57)"/><rect x="149" y="24" width="1" height="67" fill="url(#g58)"/><rect x="150" y="24" width="1" height="67" fill="url(#g59)"/><rect x="151" y="24" width="1" height="67" fill="url(#g60)"/><rect x="152" y="24" width="1" height="67" fill="url(#g61)"/><rect x="153" y="24" width="1" height="67" fill="url(#g62)"/><rect x="154" y="24" width="1" height="67" fill="url(#g63)"/><rect x="155" y="24" width="1" height="67" fill="url(#g64)"/><rect x="156" y="24" width="1" height="67" fill="url(#g65)"/><rect x="157" y="24" width="1" height="67" fill="url(#g66)"/><rect x="158" y="24" width="1" height="67" fill="url(#g67)"/><rect x="159" y="24" width="1" height="67" fill="url(#g68)"/><rect x="160" y="24" width="1" height="67" fill="url(#g69)"/><rect x="161" y="24" width="1" height="67" fill="url(#g70)"/><rect x="162" y="24" width="1" height="67" fill="url(#g71)"/><rect x="163" y="24" width="1" height="67" fill="url(#g72)"/><rect x="164" y="24" width="1" height="67" fill="url(#g73)"/><rect x="165" y="24" width="1" height="67" fill="url(#g74)"/><rect x="166" y="24" width="1" height="67" fill="url(#g75)"/><rect x="167" y="24" width="1" height="67" fill="url(#g76)"/><rect x="168" y="24" width="1" height="67" fill="url(#g77)"/><rect x="169" y="24" width="1" height="67" fill="url(#g78)"/><rect x="170" y="24" width="1" height="67" fill="url(#g79)"/><rect x="171" y="24" width="1" height="67" fill="url(#g80)"/><rect x="172" y="24" width="1" height="67" fill="url(#g81)"/><rect x="173" y="24" width="1" height="67" fill="url(#g82)"/><rect x="174" y="24" width="1" height="67" fill="url(#g83)"/><rect x="175" y="24" width="1" height="67" fill="url(#g84)"/><rect x="176" y="24" width="1" height="67" fill="url(#g85)"/><rect x="177" y="24" width="1" height="67" fill="url(#g86)"/><rect x="178" y="24" width="1" height="67" fill="url(#g87)"/><rect x="179" y="24" width="1" height="67" fill="url(#g88)"/><rect x="180" y="24" width="1" height="67" fill="url(#g89)"/><rect x="181" y="24" width="1" height="67" fill="url(#g90)"/><rect x="182" y="24" width="1" height="67" fill="url(#g91)"/><rect x="183" y="24" width="1" height="67" fill="url(#g92)"/><rect x="184" y="24" width="1" height="67" fill="url(#g93)"/><rect x="185" y="24" width="1" height="67" fill="url(#g94)"/><rect x="186" y="24" width="1" height="67" fill="url(#g95)"/><rect x="187" y="24" width="1" height="67" fill="url(#g96)"/><rect x="188" y="24" width="1" height="67" fill="url(#g97)"/><rect x="189" y="24" width="1" height="67" fill="url(#g98)"/><rect x="190" y="24" width="1" height="67" fill="url(#g99)"/><rect x="191" y="24" width="1" height="67" fill="url(#g100)"/><rect x="192" y="24" width="1" height="67" fill="url(#g101)"/><rect x="193" y="24" width="1" height="67" fill="url(#g102)"/><rect x="194" y="24" width="1" height="67" fill="url(#g103)"/><rect x="195" y="24" width="1" height="67" fill="url(#g104)"/><rect x="196" y="24" width="1" height="67" fill="url(#g105)"/><rect x="197" y="24" width="1" height="67" fill="url(#g106)"/></g></g><g clip-path="url(#cpB)"><g filter="url(#jet)"><rect x="207" y="24" width="1" height="67" fill="url(#g107)"/><rect x="208" y="24" width="1" height="67" fill="url(#g108)"/><rect x="209" y="24" width="1" height="67" fill="url(#g109)"/><rect x="210" y="24" width="1" height="67" fill="url(#g110)"/><rect x="211" y="24" width="1" height="67" fill="url(#g111)"/><rect x="212" y="24" width="1" height="67" fill="url(#g112)"/><rect x="213" y="24" width="1" height="67" fill="url(#g113)"/><rect x="214" y="24" width="1" height="67" fill="url(#g114)"/><rect x="215" y="24" width="1" height="67" fill="url(#g115)"/><rect x="216" y="24" width="1" height="67" fill="url(#g116)"/><rect x="217" y="24" width="1" height="67" fill="url(#g117)"/><rect x="218" y="24" width="1" height="67" fill="url(#g118)"/><rect x="219" y="24" width="1" height="67" fill="url(#g119)"/><rect x="220" y="24" width="1" height="67" fill="url(#g120)"/><rect x="221" y="24" width="1" height="67" fill="url(#g121)"/><rect x="222" y="24" width="1" height="67" fill="url(#g122)"/><rect x="223" y="24" width="1" height="67" fill="url(#g123)"/><rect x="224" y="24" width="1" height="67" fill="url(#g124)"/><rect x="225" y="24" width="1" height="67" fill="url(#g125)"/><rect x="226" y="24" width="1" height="67" fill="url(#g126)"/><rect x="227" y="24" width="1" height="67" fill="url(#g127)"/><rect x="228" y="24" width="1" height="67" fill="url(#g128)"/><rect x="229" y="24" width="1" height="67" fill="url(#g129)"/><rect x="230" y="24" width="1" height="67" fill="url(#g130)"/><rect x="231" y="24" width="1" height="67" fill="url(#g131)"/><rect x="232" y="24" width="1" height="67" fill="url(#g132)"/><rect x="233" y="24" width="1" height="67" fill="url(#g133)"/><rect x="234" y="24" width="1" height="67" fill="url(#g134)"/><rect x="235" y="24" width="1" height="67" fill="url(#g135)"/><rect x="236" y="24" width="1" height="67" fill="url(#g136)"/><rect x="237" y="24" width="1" height="67" fill="url(#g137)"/><rect x="238" y="24" width="1" height="67" fill="url(#g138)"/><rect x="239" y="24" width="1" height="67" fill="url(#g139)"/><rect x="240" y="24" width="1" height="67" fill="url(#g140)"/><rect x="241" y="24" width="1" height="67" fill="url(#g141)"/><rect x="242" y="24" width="1" height="67" fill="url(#g142)"/><rect x="243" y="24" width="1" height="67" fill="url(#g143)"/><rect x="244" y="24" width="1" height="67" fill="url(#g144)"/><rect x="245" y="24" width="1" height="67" fill="url(#g145)"/><rect x="246" y="24" width="1" height="67" fill="url(#g146)"/><rect x="247" y="24" width="1" height="67" fill="url(#g147)"/><rect x="248" y="24" width="1" height="67" fill="url(#g148)"/><rect x="249" y="24" width="1" height="67" fill="url(#g149)"/><rect x="250" y="24" width="1" height="67" fill="url(#g150)"/><rect x="251" y="24" width="1" height="67" fill="url(#g151)"/><rect x="252" y="24" width="1" height="67" fill="url(#g152)"/><rect x="253" y="24" width="1" height="67" fill="url(#g153)"/><rect x="254" y="24" width="1" height="67" fill="url(#g154)"/><rect x="255" y="24" width="1" height="67" fill="url(#g155)"/><rect x="256" y="24" width="1" height="67" fill="url(#g156)"/><rect x="257" y="24" width="1" height="67" fill="url(#g157)"/><rect x="258" y="24" width="1" height="67" fill="url(#g158)"/><rect x="259" y="24" width="1" height="67" fill="url(#g159)"/><rect x="260" y="24" width="1" height="67" fill="url(#g160)"/><rect x="261" y="24" width="1" height="67" fill="url(#g161)"/><rect x="262" y="24" width="1" height="67" fill="url(#g162)"/><rect x="263" y="24" width="1" height="67" fill="url(#g163)"/><rect x="264" y="24" width="1" height="67" fill="url(#g164)"/><rect x="265" y="24" width="1" height="67" fill="url(#g165)"/><rect x="266" y="24" width="1" height="67" fill="url(#g166)"/><rect x="267" y="24" width="1" height="67" fill="url(#g167)"/><rect x="268" y="24" width="1" height="67" fill="url(#g168)"/><rect x="269" y="24" width="1" height="67" fill="url(#g169)"/><rect x="270" y="24" width="1" height="67" fill="url(#g170)"/><rect x="271" y="24" width="1" height="67" fill="url(#g171)"/><rect x="272" y="24" width="1" height="67" fill="url(#g172)"/><rect x="273" y="24" width="1" height="67" fill="url(#g173)"/><rect x="274" y="24" width="1" height="67" fill="url(#g174)"/><rect x="275" y="24" width="1" height="67" fill="url(#g175)"/><rect x="276" y="24" width="1" height="67" fill="url(#g176)"/><rect x="277" y="24" width="1" height="67" fill="url(#g177)"/><rect x="278" y="24" width="1" height="67" fill="url(#g178)"/><rect x="279" y="24" width="1" height="67" fill="url(#g179)"/><rect x="280" y="24" width="1" height="67" fill="url(#g180)"/><rect x="281" y="24" width="1" height="67" fill="url(#g181)"/><rect x="282" y="24" width="1" height="67" fill="url(#g182)"/><rect x="283" y="24" width="1" height="67" fill="url(#g183)"/><rect x="284" y="24" width="1" height="67" fill="url(#g184)"/><rect x="285" y="24" width="1" height="67" fill="url(#g185)"/><rect x="286" y="24" width="1" height="67" fill="url(#g186)"/><rect x="287" y="24" width="1" height="67" fill="url(#g187)"/><rect x="288" y="24" width="1" height="67" fill="url(#g188)"/><rect x="289" y="24" width="1" height="67" fill="url(#g189)"/><rect x="290" y="24" width="1" height="67" fill="url(#g190)"/><rect x="291" y="24" width="1" height="67" fill="url(#g191)"/><rect x="292" y="24" width="1" height="67" fill="url(#g192)"/><rect x="293" y="24" width="1" height="67" fill="url(#g193)"/><rect x="294" y="24" width="1" height="67" fill="url(#g194)"/><rect x="295" y="24" width="1" height="67" fill="url(#g195)"/><rect x="296" y="24" width="1" height="67" fill="url(#g196)"/><rect x="297" y="24" width="1" height="67" fill="url(#g197)"/><rect x="298" y="24" width="1" height="67" fill="url(#g198)"/><rect x="299" y="24" width="1" height="67" fill="url(#g199)"/><rect x="300" y="24" width="1" height="67" fill="url(#g200)"/><rect x="301" y="24" width="1" height="67" fill="url(#g201)"/><rect x="302" y="24" width="1" height="67" fill="url(#g202)"/><rect x="303" y="24" width="1" height="67" fill="url(#g203)"/><rect x="304" y="24" width="1" height="67" fill="url(#g204)"/><rect x="305" y="24" width="1" height="67" fill="url(#g205)"/><rect x="306" y="24" width="1" height="67" fill="url(#g206)"/><rect x="307" y="24" width="1" height="67" fill="url(#g207)"/><rect x="308" y="24" width="1" height="67" fill="url(#g208)"/><rect x="309" y="24" width="1" height="67" fill="url(#g209)"/><rect x="310" y="24" width="1" height="67" fill="url(#g210)"/><rect x="311" y="24" width="1" height="67" fill="url(#g211)"/><rect x="312" y="24" width="1" height="67" fill="url(#g212)"/><rect x="313" y="24" width="1" height="67" fill="url(#g213)"/><rect x="314" y="24" width="1" height="67" fill="url(#g214)"/></g></g><g clip-path="url(#cpC)"><g filter="url(#jet)"><rect x="320" y="24" width="1" height="67" fill="url(#g215)"/><rect x="321" y="24" width="1" height="67" fill="url(#g216)"/><rect x="322" y="24" width="1" height="67" fill="url(#g217)"/><rect x="323" y="24" width="1" height="67" fill="url(#g218)"/><rect x="324" y="24" width="1" height="67" fill="url(#g219)"/><rect x="325" y="24" width="1" height="67" fill="url(#g220)"/><rect x="326" y="24" width="1" height="67" fill="url(#g221)"/><rect x="327" y="24" width="1" height="67" fill="url(#g222)"/><rect x="328" y="24" width="1" height="67" fill="url(#g223)"/><rect x="329" y="24" width="1" height="67" fill="url(#g224)"/><rect x="330" y="24" width="1" height="67" fill="url(#g225)"/><rect x="331" y="24" width="1" height="67" fill="url(#g226)"/><rect x="332" y="24" width="1" height="67" fill="url(#g227)"/><rect x="333" y="24" width="1" height="67" fill="url(#g228)"/><rect x="334" y="24" width="1" height="67" fill="url(#g229)"/><rect x="335" y="24" width="1" height="67" fill="url(#g230)"/><rect x="336" y="24" width="1" height="67" fill="url(#g231)"/><rect x="337" y="24" width="1" height="67" fill="url(#g232)"/><rect x="338" y="24" width="1" height="67" fill="url(#g233)"/><rect x="339" y="24" width="1" height="67" fill="url(#g234)"/><rect x="340" y="24" width="1" height="67" fill="url(#g235)"/><rect x="341" y="24" width="1" height="67" fill="url(#g236)"/><rect x="342" y="24" width="1" height="67" fill="url(#g237)"/><rect x="343" y="24" width="1" height="67" fill="url(#g238)"/><rect x="344" y="24" width="1" height="67" fill="url(#g239)"/><rect x="345" y="24" width="1" height="67" fill="url(#g240)"/><rect x="346" y="24" width="1" height="67" fill="url(#g241)"/><rect x="347" y="24" width="1" height="67" fill="url(#g242)"/><rect x="348" y="24" width="1" height="67" fill="url(#g243)"/><rect x="349" y="24" width="1" height="67" fill="url(#g244)"/><rect x="350" y="24" width="1" height="67" fill="url(#g245)"/><rect x="351" y="24" width="1" height="67" fill="url(#g246)"/><rect x="352" y="24" width="1" height="67" fill="url(#g247)"/><rect x="353" y="24" width="1" height="67" fill="url(#g248)"/><rect x="354" y="24" width="1" height="67" fill="url(#g249)"/><rect x="355" y="24" width="1" height="67" fill="url(#g250)"/><rect x="356" y="24" width="1" height="67" fill="url(#g251)"/><rect x="357" y="24" width="1" height="67" fill="url(#g252)"/><rect x="358" y="24" width="1" height="67" fill="url(#g253)"/><rect x="359" y="24" width="1" height="67" fill="url(#g254)"/><rect x="360" y="24" width="1" height="67" fill="url(#g255)"/><rect x="361" y="24" width="1" height="67" fill="url(#g256)"/><rect x="362" y="24" width="1" height="67" fill="url(#g257)"/><rect x="363" y="24" width="1" height="67" fill="url(#g258)"/><rect x="364" y="24" width="1" height="67" fill="url(#g259)"/><rect x="365" y="24" width="1" height="67" fill="url(#g260)"/><rect x="366" y="24" width="1" height="67" fill="url(#g261)"/><rect x="367" y="24" width="1" height="67" fill="url(#g262)"/><rect x="368" y="24" width="1" height="67" fill="url(#g263)"/><rect x="369" y="24" width="1" height="67" fill="url(#g264)"/><rect x="370" y="24" width="1" height="67" fill="url(#g265)"/><rect x="371" y="24" width="1" height="67" fill="url(#g266)"/><rect x="372" y="24" width="1" height="67" fill="url(#g267)"/><rect x="373" y="24" width="1" height="67" fill="url(#g268)"/><rect x="374" y="24" width="1" height="67" fill="url(#g269)"/><rect x="375" y="24" width="1" height="67" fill="url(#g270)"/><rect x="376" y="24" width="1" height="67" fill="url(#g271)"/><rect x="377" y="24" width="1" height="67" fill="url(#g272)"/><rect x="378" y="24" width="1" height="67" fill="url(#g273)"/><rect x="379" y="24" width="1" height="67" fill="url(#g274)"/><rect x="380" y="24" width="1" height="67" fill="url(#g275)"/><rect x="381" y="24" width="1" height="67" fill="url(#g276)"/><rect x="382" y="24" width="1" height="67" fill="url(#g277)"/><rect x="383" y="24" width="1" height="67" fill="url(#g278)"/><rect x="384" y="24" width="1" height="67" fill="url(#g279)"/><rect x="385" y="24" width="1" height="67" fill="url(#g280)"/><rect x="386" y="24" width="1" height="67" fill="url(#g281)"/><rect x="387" y="24" width="1" height="67" fill="url(#g282)"/><rect x="388" y="24" width="1" height="67" fill="url(#g283)"/><rect x="389" y="24" width="1" height="67" fill="url(#g284)"/><rect x="390" y="24" width="1" height="67" fill="url(#g285)"/><rect x="391" y="24" width="1" height="67" fill="url(#g286)"/><rect x="392" y="24" width="1" height="67" fill="url(#g287)"/><rect x="393" y="24" width="1" height="67" fill="url(#g288)"/><rect x="394" y="24" width="1" height="67" fill="url(#g289)"/><rect x="395" y="24" width="1" height="67" fill="url(#g290)"/><rect x="396" y="24" width="1" height="67" fill="url(#g291)"/><rect x="397" y="24" width="1" height="67" fill="url(#g292)"/><rect x="398" y="24" width="1" height="67" fill="url(#g293)"/><rect x="399" y="24" width="1" height="67" fill="url(#g294)"/><rect x="400" y="24" width="1" height="67" fill="url(#g295)"/><rect x="401" y="24" width="1" height="67" fill="url(#g296)"/><rect x="402" y="24" width="1" height="67" fill="url(#g297)"/><rect x="403" y="24" width="1" height="67" fill="url(#g298)"/><rect x="404" y="24" width="1" height="67" fill="url(#g299)"/><rect x="405" y="24" width="1" height="67" fill="url(#g300)"/><rect x="406" y="24" width="1" height="67" fill="url(#g301)"/><rect x="407" y="24" width="1" height="67" fill="url(#g302)"/><rect x="408" y="24" width="1" height="67" fill="url(#g303)"/><rect x="409" y="24" width="1" height="67" fill="url(#g304)"/><rect x="410" y="24" width="1" height="67" fill="url(#g305)"/><rect x="411" y="24" width="1" height="67" fill="url(#g306)"/><rect x="412" y="24" width="1" height="67" fill="url(#g307)"/><rect x="413" y="24" width="1" height="67" fill="url(#g308)"/><rect x="414" y="24" width="1" height="67" fill="url(#g309)"/><rect x="415" y="24" width="1" height="67" fill="url(#g310)"/><rect x="416" y="24" width="1" height="67" fill="url(#g311)"/><rect x="417" y="24" width="1" height="67" fill="url(#g312)"/><rect x="418" y="24" width="1" height="67" fill="url(#g313)"/><rect x="419" y="24" width="1" height="67" fill="url(#g314)"/><rect x="420" y="24" width="1" height="67" fill="url(#g315)"/><rect x="421" y="24" width="1" height="67" fill="url(#g316)"/><rect x="422" y="24" width="1" height="67" fill="url(#g317)"/><rect x="423" y="24" width="1" height="67" fill="url(#g318)"/><rect x="424" y="24" width="1" height="67" fill="url(#g319)"/><rect x="425" y="24" width="1" height="67" fill="url(#g320)"/><rect x="426" y="24" width="1" height="67" fill="url(#g321)"/><rect x="427" y="24" width="1" height="67" fill="url(#g322)"/><rect x="428" y="24" width="1" height="67" fill="url(#g323)"/><rect x="429" y="24" width="1" height="67" fill="url(#g324)"/><rect x="430" y="24" width="1" height="67" fill="url(#g325)"/><rect x="431" y="24" width="1" height="67" fill="url(#g326)"/><rect x="432" y="24" width="1" height="67" fill="url(#g327)"/><rect x="433" y="24" width="1" height="67" fill="url(#g328)"/><rect x="434" y="24" width="1" height="67" fill="url(#g329)"/><rect x="435" y="24" width="1" height="67" fill="url(#g330)"/><rect x="436" y="24" width="1" height="67" fill="url(#g331)"/></g></g><g fill="#fff"><ellipse cx="141.1" cy="79.4" rx="2.30" ry="1.15" transform="rotate(0 141.1 79.4)"/><ellipse cx="141.1" cy="82.6" rx="2.30" ry="1.15" transform="rotate(0 141.1 82.6)"/><ellipse cx="141.1" cy="85.4" rx="2.30" ry="1.15" transform="rotate(0 141.1 85.4)"/><ellipse cx="141.1" cy="88.3" rx="2.30" ry="1.15" transform="rotate(0 141.1 88.3)"/><ellipse cx="135.6" cy="81.0" rx="2.30" ry="1.15" transform="rotate(-20 135.6 81.0)"/><ellipse cx="131.0" cy="84.3" rx="2.30" ry="1.15" transform="rotate(-30 131.0 84.3)"/><ellipse cx="136.1" cy="84.4" rx="2.30" ry="1.15" transform="rotate(-25 136.1 84.4)"/><ellipse cx="127.8" cy="88.1" rx="2.30" ry="1.15" transform="rotate(-32 127.8 88.1)"/><ellipse cx="132.3" cy="88.2" rx="2.30" ry="1.15" transform="rotate(-30 132.3 88.2)"/><ellipse cx="136.7" cy="88.3" rx="2.30" ry="1.15" transform="rotate(-28 136.7 88.3)"/><ellipse cx="146.6" cy="81.0" rx="2.30" ry="1.15" transform="rotate(20 146.6 81.0)"/><ellipse cx="151.2" cy="84.3" rx="2.30" ry="1.15" transform="rotate(30 151.2 84.3)"/><ellipse cx="146.1" cy="84.4" rx="2.30" ry="1.15" transform="rotate(25 146.1 84.4)"/><ellipse cx="154.4" cy="88.1" rx="2.30" ry="1.15" transform="rotate(32 154.4 88.1)"/><ellipse cx="149.9" cy="88.2" rx="2.30" ry="1.15" transform="rotate(30 149.9 88.2)"/><ellipse cx="145.5" cy="88.3" rx="2.30" ry="1.15" transform="rotate(28 145.5 88.3)"/><ellipse cx="235.4" cy="88.4" rx="1.90" ry="1.05" transform="rotate(-51 235.4 88.4)"/><ellipse cx="237.7" cy="83.6" rx="1.90" ry="1.05" transform="rotate(-45 237.7 83.6)"/><ellipse cx="241.0" cy="79.3" rx="1.90" ry="1.05" transform="rotate(-37 241.0 79.3)"/><ellipse cx="245.1" cy="75.8" rx="1.90" ry="1.05" transform="rotate(-29 245.1 75.8)"/><ellipse cx="249.6" cy="73.0" rx="1.90" ry="1.05" transform="rotate(-17 249.6 73.0)"/><ellipse cx="254.6" cy="71.1" rx="1.90" ry="1.05" transform="rotate(-7 254.6 71.1)"/><ellipse cx="259.9" cy="70.7" rx="1.90" ry="1.05" transform="rotate(6 259.9 70.7)"/><ellipse cx="265.1" cy="72.0" rx="1.90" ry="1.05" transform="rotate(17 265.1 72.0)"/><ellipse cx="269.9" cy="74.4" rx="1.90" ry="1.05" transform="rotate(24 269.9 74.4)"/><ellipse cx="274.4" cy="77.4" rx="1.90" ry="1.05" transform="rotate(27 274.4 77.4)"/><ellipse cx="278.6" cy="80.7" rx="1.90" ry="1.05" transform="rotate(30 278.6 80.7)"/><ellipse cx="282.6" cy="84.3" rx="1.90" ry="1.05" transform="rotate(32 282.6 84.3)"/><ellipse cx="286.0" cy="88.4" rx="1.90" ry="1.05" transform="rotate(40 286.0 88.4)"/><ellipse cx="239.3" cy="88.4" rx="1.90" ry="1.05" transform="rotate(-51 239.3 88.4)"/><ellipse cx="241.6" cy="83.6" rx="1.90" ry="1.05" transform="rotate(-45 241.6 83.6)"/><ellipse cx="245.2" cy="79.6" rx="1.90" ry="1.05" transform="rotate(-29 245.2 79.6)"/><ellipse cx="249.6" cy="76.5" rx="1.90" ry="1.05" transform="rotate(-24 249.6 76.5)"/><ellipse cx="254.4" cy="74.2" rx="1.90" ry="1.05" transform="rotate(-17 254.4 74.2)"/><ellipse cx="259.7" cy="73.7" rx="1.90" ry="1.05" transform="rotate(6 259.7 73.7)"/><ellipse cx="264.8" cy="75.1" rx="1.90" ry="1.05" transform="rotate(17 264.8 75.1)"/><ellipse cx="269.5" cy="77.7" rx="1.90" ry="1.05" transform="rotate(24 269.5 77.7)"/><ellipse cx="273.9" cy="80.8" rx="1.90" ry="1.05" transform="rotate(30 273.9 80.8)"/><ellipse cx="277.9" cy="84.3" rx="1.90" ry="1.05" transform="rotate(32 277.9 84.3)"/><ellipse cx="281.4" cy="88.4" rx="1.90" ry="1.05" transform="rotate(40 281.4 88.4)"/><ellipse cx="243.1" cy="88.4" rx="1.90" ry="1.05" transform="rotate(-51 243.1 88.4)"/><ellipse cx="245.7" cy="83.7" rx="1.90" ry="1.05" transform="rotate(-37 245.7 83.7)"/><ellipse cx="249.6" cy="80.0" rx="1.90" ry="1.05" transform="rotate(-29 249.6 80.0)"/><ellipse cx="254.3" cy="77.4" rx="1.90" ry="1.05" transform="rotate(-17 254.3 77.4)"/><ellipse cx="259.5" cy="76.6" rx="1.90" ry="1.05" transform="rotate(6 259.5 76.6)"/><ellipse cx="264.6" cy="78.2" rx="1.90" ry="1.05" transform="rotate(17 264.6 78.2)"/><ellipse cx="269.1" cy="81.1" rx="1.90" ry="1.05" transform="rotate(27 269.1 81.1)"/><ellipse cx="273.3" cy="84.4" rx="1.90" ry="1.05" transform="rotate(32 273.3 84.4)"/><ellipse cx="276.9" cy="88.4" rx="1.90" ry="1.05" transform="rotate(40 276.9 88.4)"/><ellipse cx="247.0" cy="88.4" rx="1.90" ry="1.05" transform="rotate(-51 247.0 88.4)"/><ellipse cx="249.8" cy="83.9" rx="1.90" ry="1.05" transform="rotate(-37 249.8 83.9)"/><ellipse cx="254.1" cy="80.7" rx="1.90" ry="1.05" transform="rotate(-17 254.1 80.7)"/><ellipse cx="259.3" cy="79.6" rx="1.90" ry="1.05" transform="rotate(6 259.3 79.6)"/><ellipse cx="264.3" cy="81.4" rx="1.90" ry="1.05" transform="rotate(24 264.3 81.4)"/><ellipse cx="268.6" cy="84.5" rx="1.90" ry="1.05" transform="rotate(30 268.6 84.5)"/><ellipse cx="272.3" cy="88.4" rx="1.90" ry="1.05" transform="rotate(40 272.3 88.4)"/><ellipse cx="250.9" cy="88.4" rx="1.90" ry="1.05" transform="rotate(-51 250.9 88.4)"/><ellipse cx="254.1" cy="84.2" rx="1.90" ry="1.05" transform="rotate(-29 254.1 84.2)"/><ellipse cx="259.0" cy="82.5" rx="1.90" ry="1.05" transform="rotate(6 259.0 82.5)"/><ellipse cx="263.9" cy="84.7" rx="1.90" ry="1.05" transform="rotate(27 263.9 84.7)"/><ellipse cx="267.7" cy="88.4" rx="1.90" ry="1.05" transform="rotate(40 267.7 88.4)"/><ellipse cx="254.7" cy="88.4" rx="1.90" ry="1.05" transform="rotate(-51 254.7 88.4)"/><ellipse cx="258.8" cy="85.5" rx="1.90" ry="1.05" transform="rotate(6 258.8 85.5)"/><ellipse cx="263.2" cy="88.4" rx="1.90" ry="1.05" transform="rotate(40 263.2 88.4)"/><ellipse cx="258.6" cy="88.4" rx="1.90" ry="1.05" transform="rotate(0 258.6 88.4)"/><ellipse cx="341.0" cy="88.3" rx="1.90" ry="1.05" transform="rotate(-51 341.0 88.3)"/><ellipse cx="343.2" cy="83.6" rx="1.90" ry="1.05" transform="rotate(-46 343.2 83.6)"/><ellipse cx="345.9" cy="79.1" rx="1.90" ry="1.05" transform="rotate(-38 345.9 79.1)"/><ellipse cx="349.3" cy="75.2" rx="1.90" ry="1.05" transform="rotate(-32 349.3 75.2)"/><ellipse cx="353.2" cy="71.8" rx="1.90" ry="1.05" transform="rotate(-26 353.2 71.8)"/><ellipse cx="357.6" cy="68.9" rx="1.90" ry="1.05" transform="rotate(-22 357.6 68.9)"/><ellipse cx="362.2" cy="66.5" rx="1.90" ry="1.05" transform="rotate(-16 362.2 66.5)"/><ellipse cx="367.2" cy="65.0" rx="1.90" ry="1.05" transform="rotate(-8 367.2 65.0)"/><ellipse cx="372.4" cy="64.5" rx="1.90" ry="1.05" transform="rotate(-1 372.4 64.5)"/><ellipse cx="377.4" cy="65.7" rx="1.90" ry="1.05" transform="rotate(14 377.4 65.7)"/><ellipse cx="382.1" cy="68.0" rx="1.90" ry="1.05" transform="rotate(22 382.1 68.0)"/><ellipse cx="386.3" cy="71.0" rx="1.90" ry="1.05" transform="rotate(28 386.3 71.0)"/><ellipse cx="390.2" cy="74.5" rx="1.90" ry="1.05" transform="rotate(32 390.2 74.5)"/><ellipse cx="394.3" cy="77.7" rx="1.90" ry="1.05" transform="rotate(26 394.3 77.7)"/><ellipse cx="398.6" cy="80.7" rx="1.90" ry="1.05" transform="rotate(26 398.6 80.7)"/><ellipse cx="402.7" cy="83.9" rx="1.90" ry="1.05" transform="rotate(35 402.7 83.9)"/><ellipse cx="405.4" cy="88.3" rx="1.90" ry="1.05" transform="rotate(49 405.4 88.3)"/><ellipse cx="344.6" cy="88.3" rx="1.90" ry="1.05" transform="rotate(-51 344.6 88.3)"/><ellipse cx="346.8" cy="83.6" rx="1.90" ry="1.05" transform="rotate(-46 346.8 83.6)"/><ellipse cx="349.7" cy="79.2" rx="1.90" ry="1.05" transform="rotate(-38 349.7 79.2)"/><ellipse cx="353.3" cy="75.5" rx="1.90" ry="1.05" transform="rotate(-32 353.3 75.5)"/><ellipse cx="357.5" cy="72.3" rx="1.90" ry="1.05" transform="rotate(-26 357.5 72.3)"/><ellipse cx="362.0" cy="69.7" rx="1.90" ry="1.05" transform="rotate(-16 362.0 69.7)"/><ellipse cx="366.9" cy="68.1" rx="1.90" ry="1.05" transform="rotate(-8 366.9 68.1)"/><ellipse cx="372.1" cy="67.5" rx="1.90" ry="1.05" transform="rotate(-1 372.1 67.5)"/><ellipse cx="377.1" cy="68.8" rx="1.90" ry="1.05" transform="rotate(14 377.1 68.8)"/><ellipse cx="381.7" cy="71.2" rx="1.90" ry="1.05" transform="rotate(22 381.7 71.2)"/><ellipse cx="385.8" cy="74.5" rx="1.90" ry="1.05" transform="rotate(32 385.8 74.5)"/><ellipse cx="389.7" cy="77.8" rx="1.90" ry="1.05" transform="rotate(28 389.7 77.8)"/><ellipse cx="394.0" cy="80.9" rx="1.90" ry="1.05" transform="rotate(26 394.0 80.9)"/><ellipse cx="398.2" cy="84.0" rx="1.90" ry="1.05" transform="rotate(35 398.2 84.0)"/><ellipse cx="401.0" cy="88.3" rx="1.90" ry="1.05" transform="rotate(49 401.0 88.3)"/><ellipse cx="348.2" cy="88.3" rx="1.90" ry="1.05" transform="rotate(-51 348.2 88.3)"/><ellipse cx="350.5" cy="83.6" rx="1.90" ry="1.05" transform="rotate(-44 350.5 83.6)"/><ellipse cx="353.6" cy="79.4" rx="1.90" ry="1.05" transform="rotate(-38 353.6 79.4)"/><ellipse cx="357.4" cy="75.9" rx="1.90" ry="1.05" transform="rotate(-26 357.4 75.9)"/><ellipse cx="361.8" cy="73.1" rx="1.90" ry="1.05" transform="rotate(-22 361.8 73.1)"/><ellipse cx="366.6" cy="71.1" rx="1.90" ry="1.05" transform="rotate(-8 366.6 71.1)"/><ellipse cx="371.8" cy="70.5" rx="1.90" ry="1.05" transform="rotate(-1 371.8 70.5)"/><ellipse cx="376.8" cy="71.8" rx="1.90" ry="1.05" transform="rotate(22 376.8 71.8)"/><ellipse cx="381.2" cy="74.5" rx="1.90" ry="1.05" transform="rotate(28 381.2 74.5)"/><ellipse cx="385.2" cy="78.0" rx="1.90" ry="1.05" transform="rotate(32 385.2 78.0)"/><ellipse cx="389.3" cy="81.1" rx="1.90" ry="1.05" transform="rotate(26 389.3 81.1)"/><ellipse cx="393.6" cy="84.1" rx="1.90" ry="1.05" transform="rotate(26 393.6 84.1)"/><ellipse cx="396.5" cy="88.3" rx="1.90" ry="1.05" transform="rotate(49 396.5 88.3)"/><ellipse cx="351.9" cy="88.3" rx="1.90" ry="1.05" transform="rotate(-51 351.9 88.3)"/><ellipse cx="354.2" cy="83.7" rx="1.90" ry="1.05" transform="rotate(-44 354.2 83.7)"/><ellipse cx="357.5" cy="79.6" rx="1.90" ry="1.05" transform="rotate(-32 357.5 79.6)"/><ellipse cx="361.7" cy="76.5" rx="1.90" ry="1.05" transform="rotate(-22 361.7 76.5)"/><ellipse cx="366.4" cy="74.2" rx="1.90" ry="1.05" transform="rotate(-16 366.4 74.2)"/><ellipse cx="371.5" cy="73.4" rx="1.90" ry="1.05" transform="rotate(-1 371.5 73.4)"/><ellipse cx="376.4" cy="75.0" rx="1.90" ry="1.05" transform="rotate(22 376.4 75.0)"/><ellipse cx="380.7" cy="77.9" rx="1.90" ry="1.05" transform="rotate(32 380.7 77.9)"/><ellipse cx="384.7" cy="81.3" rx="1.90" ry="1.05" transform="rotate(28 384.7 81.3)"/><ellipse cx="389.0" cy="84.3" rx="1.90" ry="1.05" transform="rotate(26 389.0 84.3)"/><ellipse cx="392.1" cy="88.3" rx="1.90" ry="1.05" transform="rotate(49 392.1 88.3)"/><ellipse cx="355.5" cy="88.3" rx="1.90" ry="1.05" transform="rotate(-51 355.5 88.3)"/><ellipse cx="357.9" cy="83.7" rx="1.90" ry="1.05" transform="rotate(-38 357.9 83.7)"/><ellipse cx="361.6" cy="80.0" rx="1.90" ry="1.05" transform="rotate(-26 361.6 80.0)"/><ellipse cx="366.1" cy="77.4" rx="1.90" ry="1.05" transform="rotate(-16 366.1 77.4)"/><ellipse cx="371.2" cy="76.4" rx="1.90" ry="1.05" transform="rotate(-1 371.2 76.4)"/><ellipse cx="376.0" cy="78.2" rx="1.90" ry="1.05" transform="rotate(22 376.0 78.2)"/><ellipse cx="380.1" cy="81.4" rx="1.90" ry="1.05" transform="rotate(32 380.1 81.4)"/><ellipse cx="384.3" cy="84.5" rx="1.90" ry="1.05" transform="rotate(26 384.3 84.5)"/><ellipse cx="387.7" cy="88.3" rx="1.90" ry="1.05" transform="rotate(49 387.7 88.3)"/><ellipse cx="359.1" cy="88.3" rx="1.90" ry="1.05" transform="rotate(-51 359.1 88.3)"/><ellipse cx="361.8" cy="83.8" rx="1.90" ry="1.05" transform="rotate(-38 361.8 83.8)"/><ellipse cx="365.9" cy="80.7" rx="1.90" ry="1.05" transform="rotate(-22 365.9 80.7)"/><ellipse cx="370.9" cy="79.4" rx="1.90" ry="1.05" transform="rotate(-1 370.9 79.4)"/><ellipse cx="375.6" cy="81.4" rx="1.90" ry="1.05" transform="rotate(28 375.6 81.4)"/><ellipse cx="379.7" cy="84.7" rx="1.90" ry="1.05" transform="rotate(26 379.7 84.7)"/><ellipse cx="383.3" cy="88.3" rx="1.90" ry="1.05" transform="rotate(49 383.3 88.3)"/><ellipse cx="362.8" cy="88.3" rx="1.90" ry="1.05" transform="rotate(-51 362.8 88.3)"/><ellipse cx="365.8" cy="84.2" rx="1.90" ry="1.05" transform="rotate(-26 365.8 84.2)"/><ellipse cx="370.6" cy="82.4" rx="1.90" ry="1.05" transform="rotate(-1 370.6 82.4)"/><ellipse cx="375.1" cy="84.9" rx="1.90" ry="1.05" transform="rotate(32 375.1 84.9)"/><ellipse cx="378.9" cy="88.3" rx="1.90" ry="1.05" transform="rotate(49 378.9 88.3)"/><ellipse cx="366.4" cy="88.3" rx="1.90" ry="1.05" transform="rotate(-51 366.4 88.3)"/><ellipse cx="370.3" cy="85.3" rx="1.90" ry="1.05" transform="rotate(-1 370.3 85.3)"/><ellipse cx="374.4" cy="88.3" rx="1.90" ry="1.05" transform="rotate(49 374.4 88.3)"/><ellipse cx="370.0" cy="88.3" rx="1.90" ry="1.05" transform="rotate(0 370.0 88.3)"/></g><rect x="444.3" y="24.2" width="14.8" height="66.4" fill="url(#cb)" filter="url(#jet)"/><path d="M127.1 119 V337.5 H446" fill="none" stroke="#000" stroke-width="1.7"/><path d="M150.50 147.00C156.50 150.65 172.50 161.02 186.50 168.90C200.50 176.77 217.22 189.07 234.50 194.25C251.78 199.43 270.26 199.47 290.20 200.00C310.14 200.53 330.97 198.02 354.15 197.40C377.33 196.78 416.77 196.48 429.30 196.30" fill="none" stroke="#000" stroke-width="1.7"/><path d="M150.80 181.80C156.80 184.92 172.80 190.32 186.80 200.55C200.80 210.78 217.53 235.15 234.80 243.20C252.07 251.25 270.47 248.02 290.40 248.85C310.33 249.68 331.23 247.51 354.40 248.20C377.57 248.89 416.90 252.20 429.40 253.00" fill="none" stroke="#000" stroke-width="1.7"/><path d="M150.80 202.80C156.79 205.47 172.78 207.84 186.75 218.80C200.72 229.76 217.46 259.48 234.65 268.55C251.84 277.62 269.99 272.56 289.90 273.20C309.81 273.84 330.83 272.22 354.10 272.40C377.37 272.58 416.93 273.98 429.50 274.30" fill="none" stroke="#000" stroke-width="1.7"/><path d="M150.50 220.25C156.53 222.48 172.68 222.97 186.70 233.65C200.72 244.33 217.40 275.06 234.60 284.35C251.80 293.64 269.98 288.52 289.90 289.40C309.82 290.27 330.87 289.69 354.10 289.60C377.33 289.51 416.77 288.97 429.30 288.85" fill="none" stroke="#000" stroke-width="1.7"/><g fill="none" stroke="#000" stroke-width="1.6"><path d="M150.50 142.60 L154.50 150.60 L146.50 150.60 Z"/><path d="M186.50 164.50 L190.50 172.50 L182.50 172.50 Z"/><path d="M234.50 189.85 L238.50 197.85 L230.50 197.85 Z"/><path d="M290.20 195.60 L294.20 203.60 L286.20 203.60 Z"/><path d="M354.15 193.00 L358.15 201.00 L350.15 201.00 Z"/><path d="M429.30 191.90 L433.30 199.90 L425.30 199.90 Z"/><circle cx="150.80" cy="181.60" r="3.90"/><circle cx="186.80" cy="200.35" r="3.90"/><circle cx="234.80" cy="243.00" r="3.90"/><circle cx="290.40" cy="248.65" r="3.90"/><circle cx="354.40" cy="248.00" r="3.90"/><circle cx="429.40" cy="252.80" r="3.90"/><path d="M150.80 198.50 L154.90 202.60 L150.80 206.70 L146.70 202.60 Z"/><path d="M186.75 214.50 L190.85 218.60 L186.75 222.70 L182.65 218.60 Z"/><path d="M234.65 264.25 L238.75 268.35 L234.65 272.45 L230.55 268.35 Z"/><path d="M289.90 268.90 L294.00 273.00 L289.90 277.10 L285.80 273.00 Z"/><path d="M354.10 268.10 L358.20 272.20 L354.10 276.30 L350.00 272.20 Z"/><path d="M429.50 270.00 L433.60 274.10 L429.50 278.20 L425.40 274.10 Z"/><path d="M146.80 216.35 L154.20 223.75 M154.20 216.35 L146.80 223.75 M150.50 216.35 L150.50 223.75"/><path d="M183.00 229.75 L190.40 237.15 M190.40 229.75 L183.00 237.15 M186.70 229.75 L186.70 237.15"/><path d="M230.90 280.45 L238.30 287.85 M238.30 280.45 L230.90 287.85 M234.60 280.45 L234.60 287.85"/><path d="M286.20 285.50 L293.60 292.90 M293.60 285.50 L286.20 292.90 M289.90 285.50 L289.90 292.90"/><path d="M350.40 285.70 L357.80 293.10 M357.80 285.70 L350.40 293.10 M354.10 285.70 L354.10 293.10"/><path d="M425.60 284.95 L433.00 292.35 M433.00 284.95 L425.60 292.35 M429.30 284.95 L429.30 292.35"/></g><path d="M129.6 285.8 H145.8" stroke="#000" stroke-width="1.4"/><g fill="none" stroke="#000" stroke-width="1.4"><path d="M137.60 282.23 L141.00 289.03 L134.20 289.03 Z"/></g><text x="146.3" y="289.1" font-size="11">200 nm min gap</text><path d="M129.6 299.7 H145.8" stroke="#000" stroke-width="1.4"/><g fill="none" stroke="#000" stroke-width="1.4"><circle cx="137.60" cy="299.70" r="3.31"/></g><text x="146.3" y="303.0" font-size="11">100 nm min gap</text><path d="M129.6 313.6 H145.8" stroke="#000" stroke-width="1.4"/><g fill="none" stroke="#000" stroke-width="1.4"><path d="M137.60 310.12 L141.08 313.60 L137.60 317.09 L134.12 313.60 Z"/></g><text x="146.3" y="316.9" font-size="11">50 nm min gap</text><path d="M129.6 327.5 H145.8" stroke="#000" stroke-width="1.4"/><g fill="none" stroke="#000" stroke-width="1.4"><path d="M134.45 324.36 L140.75 330.64 M140.75 324.36 L134.45 330.64 M137.60 324.36 L137.60 330.64"/></g><text x="146.3" y="330.8" font-size="11">10 nm min gap</text><text x="116.3" y="123.1" font-size="12.2" text-anchor="end">1.00</text><text x="116.3" y="166.8" font-size="12.2" text-anchor="end">0.80</text><text x="116.3" y="210.5" font-size="12.2" text-anchor="end">0.60</text><text x="116.3" y="254.2" font-size="12.2" text-anchor="end">0.40</text><text x="116.3" y="297.9" font-size="12.2" text-anchor="end">0.20</text><text x="116.3" y="341.6" font-size="12.2" text-anchor="end">0.00</text><text x="127.2" y="356.3" font-size="12" text-anchor="middle">10</text><text x="206.8" y="356.3" font-size="12" text-anchor="middle">30</text><text x="286.3" y="356.3" font-size="12" text-anchor="middle">50</text><text x="365.9" y="356.3" font-size="12" text-anchor="middle">70</text><text x="445.4" y="356.3" font-size="12" text-anchor="middle">90</text><text x="286.3" y="373" font-size="12" letter-spacing="0.1" text-anchor="middle">number of platelets</text><text transform="translate(67.6 231.0) rotate(-90)" font-size="11.2" letter-spacing="0.55" text-anchor="middle">mean intrathrombus</text><text transform="translate(81.4 230.1) rotate(-90)" font-size="11.2" letter-spacing="0.55" text-anchor="middle">plasma velocity (μm/s)</text><text x="92.9" y="20.6" font-size="25" font-weight="bold">A</text><text x="209.6" y="20.3" font-size="25" font-weight="bold">B</text><text x="324.0" y="20.3" font-size="25" font-weight="bold">C</text><text x="55.4" y="127.0" font-size="25" font-weight="bold">D</text><text x="141.2" y="108.6" font-size="13.1" text-anchor="middle">16</text><text x="256.4" y="108.3" font-size="13.1" text-anchor="middle">51</text><text x="370.4" y="108.3" font-size="13.1" text-anchor="middle">86</text><text x="14.9" y="41.3" font-size="13.8" letter-spacing="0.45">2 mm/s</text><text x="0.4" y="88.4" font-size="13.9" letter-spacing="0.1">Inlet velocity</text><text x="464.4" y="31.7" font-size="12.3" letter-spacing="0.35">3.2 mm/s</text><text x="464.4" y="93.6" font-size="12.3" letter-spacing="0.45">0 mm/s</text><path d="M4.6 52.8 H62.1 V47.8 L84 57.5 L62.1 67.3 V62.3 H4.6 Z" fill="#000"/></svg></body></html>
